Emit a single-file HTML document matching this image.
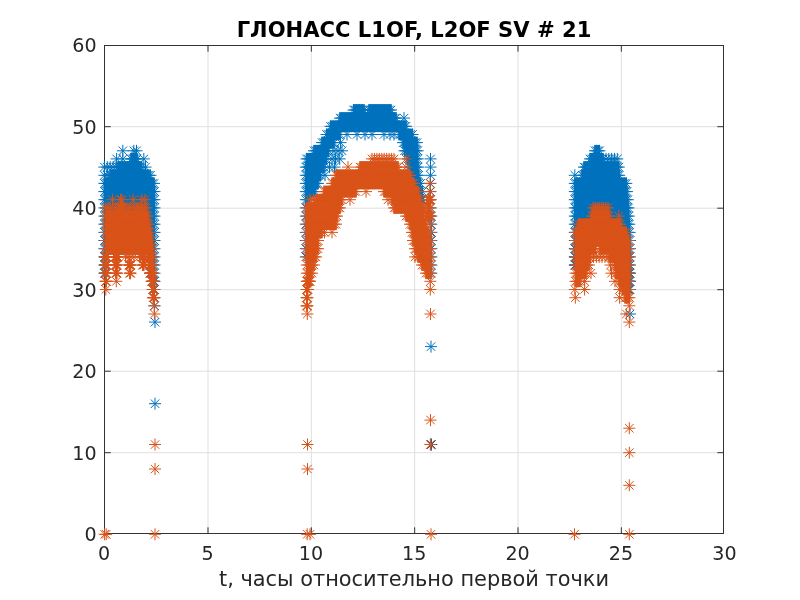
<!DOCTYPE html>
<html lang="ru"><head><meta charset="utf-8"><title>ГЛОНАСС L1OF, L2OF SV # 21</title>
<style>
html,body{margin:0;padding:0;background:#fff;}
body{width:800px;height:600px;overflow:hidden;}
svg{display:block;}
text{font-family:"DejaVu Sans","Liberation Sans",sans-serif;}
</style></head><body>
<svg width="800" height="600" viewBox="0 0 800 600">
<rect width="800" height="600" fill="#fff"/>
<path d="M208.00 45.5V533.5M311.34 45.5V533.5M414.67 45.5V533.5M518.00 45.5V533.5M621.34 45.5V533.5M104.5 452.70H723.5M104.5 371.20H723.5M104.5 289.70H723.5M104.5 208.20H723.5M104.5 126.70H723.5" stroke="#dfdfdf" stroke-width="1" fill="none"/>
<path d="M104.5 45.5H723.5V533.5H104.5Z" stroke="#333" stroke-width="1" fill="none" shape-rendering="crispEdges"/>
<path d="M208.00 533.5v-6.2M208.00 45.5v6.2M311.34 533.5v-6.2M311.34 45.5v6.2M414.67 533.5v-6.2M414.67 45.5v6.2M518.00 533.5v-6.2M518.00 45.5v6.2M621.34 533.5v-6.2M621.34 45.5v6.2M104.5 452.70h6.2M723.5 452.70h-6.2M104.5 371.20h6.2M723.5 371.20h-6.2M104.5 289.70h6.2M723.5 289.70h-6.2M104.5 208.20h6.2M723.5 208.20h-6.2M104.5 126.70h6.2M723.5 126.70h-6.2" stroke="#333" stroke-width="1" fill="none"/>
<g font-size="19.1" fill="#262626">
<text x="104.1" y="559.7" text-anchor="middle">0</text>
<text x="207.5" y="559.7" text-anchor="middle">5</text>
<text x="310.9" y="559.7" text-anchor="middle">10</text>
<text x="414.2" y="559.7" text-anchor="middle">15</text>
<text x="517.6" y="559.7" text-anchor="middle">20</text>
<text x="621.0" y="559.7" text-anchor="middle">25</text>
<text x="724.4" y="559.7" text-anchor="middle">30</text>
<text x="96.6" y="541.2" text-anchor="end">0</text>
<text x="96.6" y="459.7" text-anchor="end">10</text>
<text x="96.6" y="378.2" text-anchor="end">20</text>
<text x="96.6" y="296.8" text-anchor="end">30</text>
<text x="96.6" y="215.3" text-anchor="end">40</text>
<text x="96.6" y="133.8" text-anchor="end">50</text>
<text x="96.6" y="52.3" text-anchor="end">60</text>
</g>
<text x="414" y="36.6" text-anchor="middle" font-size="21.1" font-weight="bold" fill="#000">ГЛОНАСС L1OF, L2OF SV # 21</text>
<text x="414" y="585.6" text-anchor="middle" font-size="20.9" fill="#262626">t, часы относительно первой точки</text>
<path d="M149.4 273.2H155.1M149.4 265.0H155.1M625.4 265.0H630.6M149.4 256.9H155.1M625.4 256.9H630.6M103.8 248.7H155.1M625.4 248.7H630.6M103.8 240.5H155.1M574.2 240.5H630.6M103.8 232.4H155.1M574.2 232.4H630.3M103.8 224.2H155.1M574.2 224.2H629.9M103.8 216.1H155.1M574.2 216.1H629.4M103.8 207.9H155.1M574.2 207.9H629.1M103.8 199.7H155.1M305.2 199.7H310.1M574.2 199.7H628.4M103.8 191.6H155.1M305.2 191.6H315.6M416.4 191.6H422.9M574.2 191.6H627.6M103.8 183.4H154.6M305.2 183.4H318.6M414.4 183.4H421.1M574.2 183.4H626.9M110.4 175.3H149.6M305.2 175.3H321.1M411.4 175.3H419.3M581.4 175.3H619.8M117.4 167.1H142.3M305.2 167.1H324.6M409.4 167.1H418.6M583.4 167.1H619.4M130.4 158.9H137.6M305.9 158.9H327.1M407.4 158.9H418.3M589.4 158.9H603.6M313.4 150.8H329.1M403.9 150.8H418.3M594.4 150.8H600.1M321.4 142.6H334.6M402.4 142.6H417.6M325.9 134.5H340.6M398.4 134.5H413.1M329.9 126.3H406.6M339.4 118.1H396.6M352.9 110.0H364.6M368.4 110.0H391.6" stroke="#0072bd" stroke-width="11.6" fill="none"/>
<path d="M425.3 444.5h12M431.3 438.5v12M427.1 440.3l8.48 8.48M427.1 448.8l8.48 -8.48M149.0 403.7h12M155.0 397.7v12M150.8 399.5l8.48 8.48M150.8 408.0l8.48 -8.48M425.0 346.6h12M431.0 340.6v12M426.8 342.4l8.48 8.48M426.8 350.9l8.48 -8.48M149.0 322.1h12M155.0 316.1v12M150.8 317.9l8.48 8.48M150.8 326.4l8.48 -8.48M624.0 314.0h12M630.0 308.0v12M625.8 309.7l8.48 8.48M625.8 318.2l8.48 -8.48M148.6 305.8h12M154.6 299.8v12M150.4 301.6l8.48 8.48M150.4 310.1l8.48 -8.48M148.5 297.7h12M154.5 291.7v12M150.3 293.4l8.48 8.48M150.3 301.9l8.48 -8.48M148.5 289.5h12M154.5 283.5v12M150.3 285.3l8.48 8.48M150.3 293.7l8.48 -8.48M622.0 289.5h12M628.0 283.5v12M623.8 285.3l8.48 8.48M623.8 293.7l8.48 -8.48M622.5 289.5h12M628.5 283.5v12M624.3 285.3l8.48 8.48M624.3 293.7l8.48 -8.48M623.0 289.5h12M629.0 283.5v12M624.8 285.3l8.48 8.48M624.8 293.7l8.48 -8.48M623.5 289.5h12M629.5 283.5v12M625.3 285.3l8.48 8.48M625.3 293.7l8.48 -8.48M624.0 289.5h12M630.0 283.5v12M625.8 285.3l8.48 8.48M625.8 293.7l8.48 -8.48M146.5 281.3h12M152.5 275.3v12M148.3 277.1l8.48 8.48M148.3 285.6l8.48 -8.48M147.0 281.3h12M153.0 275.3v12M148.8 277.1l8.48 8.48M148.8 285.6l8.48 -8.48M147.5 281.3h12M153.5 275.3v12M149.3 277.1l8.48 8.48M149.3 285.6l8.48 -8.48M148.0 281.3h12M154.0 275.3v12M149.8 277.1l8.48 8.48M149.8 285.6l8.48 -8.48M148.5 281.3h12M154.5 275.3v12M150.3 277.1l8.48 8.48M150.3 285.6l8.48 -8.48M622.0 281.3h12M628.0 275.3v12M623.8 277.1l8.48 8.48M623.8 285.6l8.48 -8.48M622.5 281.3h12M628.5 275.3v12M624.3 277.1l8.48 8.48M624.3 285.6l8.48 -8.48M623.0 281.3h12M629.0 275.3v12M624.8 277.1l8.48 8.48M624.8 285.6l8.48 -8.48M623.5 281.3h12M629.5 275.3v12M625.3 277.1l8.48 8.48M625.3 285.6l8.48 -8.48M624.0 281.3h12M630.0 275.3v12M625.8 277.1l8.48 8.48M625.8 285.6l8.48 -8.48M98.4 273.2h12M104.4 267.2v12M100.2 268.9l8.48 8.48M100.2 277.4l8.48 -8.48M99.0 273.2h12M105.0 267.2v12M100.7 268.9l8.48 8.48M100.7 277.4l8.48 -8.48M99.5 273.2h12M105.5 267.2v12M101.3 268.9l8.48 8.48M101.3 277.4l8.48 -8.48M144.0 273.2h12M150.0 267.2v12M145.8 268.9l8.48 8.48M145.8 277.4l8.48 -8.48M145.5 273.2h12M151.5 267.2v12M147.3 268.9l8.48 8.48M147.3 277.4l8.48 -8.48M147.0 273.2h12M153.0 267.2v12M148.8 268.9l8.48 8.48M148.8 277.4l8.48 -8.48M148.5 273.2h12M154.5 267.2v12M150.3 268.9l8.48 8.48M150.3 277.4l8.48 -8.48M425.3 273.2h12M431.3 267.2v12M427.1 268.9l8.48 8.48M427.1 277.4l8.48 -8.48M622.0 273.2h12M628.0 267.2v12M623.8 268.9l8.48 8.48M623.8 277.4l8.48 -8.48M622.5 273.2h12M628.5 267.2v12M624.3 268.9l8.48 8.48M624.3 277.4l8.48 -8.48M623.0 273.2h12M629.0 267.2v12M624.8 268.9l8.48 8.48M624.8 277.4l8.48 -8.48M623.5 273.2h12M629.5 267.2v12M625.3 268.9l8.48 8.48M625.3 277.4l8.48 -8.48M624.0 273.2h12M630.0 267.2v12M625.8 268.9l8.48 8.48M625.8 277.4l8.48 -8.48M98.4 265.0h12M104.4 259.0v12M100.2 260.8l8.48 8.48M100.2 269.3l8.48 -8.48M99.0 265.0h12M105.0 259.0v12M100.7 260.8l8.48 8.48M100.7 269.3l8.48 -8.48M99.5 265.0h12M105.5 259.0v12M101.3 260.8l8.48 8.48M101.3 269.3l8.48 -8.48M144.0 265.0h12M150.0 259.0v12M145.8 260.8l8.48 8.48M145.8 269.3l8.48 -8.48M145.5 265.0h12M151.5 259.0v12M147.3 260.8l8.48 8.48M147.3 269.3l8.48 -8.48M147.0 265.0h12M153.0 259.0v12M148.8 260.8l8.48 8.48M148.8 269.3l8.48 -8.48M148.5 265.0h12M154.5 259.0v12M150.3 260.8l8.48 8.48M150.3 269.3l8.48 -8.48M425.3 265.0h12M431.3 259.0v12M427.1 260.8l8.48 8.48M427.1 269.3l8.48 -8.48M568.8 265.0h12M574.8 259.0v12M570.6 260.8l8.48 8.48M570.6 269.3l8.48 -8.48M569.2 265.0h12M575.2 259.0v12M571.0 260.8l8.48 8.48M571.0 269.3l8.48 -8.48M569.6 265.0h12M575.6 259.0v12M571.4 260.8l8.48 8.48M571.4 269.3l8.48 -8.48M570.0 265.0h12M576.0 259.0v12M571.8 260.8l8.48 8.48M571.8 269.3l8.48 -8.48M620.0 265.0h12M626.0 259.0v12M621.8 260.8l8.48 8.48M621.8 269.3l8.48 -8.48M622.0 265.0h12M628.0 259.0v12M623.8 260.8l8.48 8.48M623.8 269.3l8.48 -8.48M624.0 265.0h12M630.0 259.0v12M625.8 260.8l8.48 8.48M625.8 269.3l8.48 -8.48M98.4 256.9h12M104.4 250.9v12M100.2 252.6l8.48 8.48M100.2 261.1l8.48 -8.48M99.0 256.9h12M105.0 250.9v12M100.7 252.6l8.48 8.48M100.7 261.1l8.48 -8.48M99.5 256.9h12M105.5 250.9v12M101.3 252.6l8.48 8.48M101.3 261.1l8.48 -8.48M144.0 256.9h12M150.0 250.9v12M145.8 252.6l8.48 8.48M145.8 261.1l8.48 -8.48M145.5 256.9h12M151.5 250.9v12M147.3 252.6l8.48 8.48M147.3 261.1l8.48 -8.48M147.0 256.9h12M153.0 250.9v12M148.8 252.6l8.48 8.48M148.8 261.1l8.48 -8.48M148.5 256.9h12M154.5 250.9v12M150.3 252.6l8.48 8.48M150.3 261.1l8.48 -8.48M299.8 256.9h12M305.8 250.9v12M301.6 252.6l8.48 8.48M301.6 261.1l8.48 -8.48M425.3 256.9h12M431.3 250.9v12M427.1 252.6l8.48 8.48M427.1 261.1l8.48 -8.48M568.8 256.9h12M574.8 250.9v12M570.6 252.6l8.48 8.48M570.6 261.1l8.48 -8.48M569.2 256.9h12M575.2 250.9v12M571.0 252.6l8.48 8.48M571.0 261.1l8.48 -8.48M569.6 256.9h12M575.6 250.9v12M571.4 252.6l8.48 8.48M571.4 261.1l8.48 -8.48M570.0 256.9h12M576.0 250.9v12M571.8 252.6l8.48 8.48M571.8 261.1l8.48 -8.48M620.0 256.9h12M626.0 250.9v12M621.8 252.6l8.48 8.48M621.8 261.1l8.48 -8.48M622.0 256.9h12M628.0 250.9v12M623.8 252.6l8.48 8.48M623.8 261.1l8.48 -8.48M624.0 256.9h12M630.0 250.9v12M625.8 252.6l8.48 8.48M625.8 261.1l8.48 -8.48M98.4 248.7h12M104.4 242.7v12M100.2 244.5l8.48 8.48M100.2 252.9l8.48 -8.48M100.0 248.7h12M106.0 242.7v12M101.8 244.5l8.48 8.48M101.8 252.9l8.48 -8.48M101.6 248.7h12M107.6 242.7v12M103.4 244.5l8.48 8.48M103.4 252.9l8.48 -8.48M103.2 248.7h12M109.2 242.7v12M105.0 244.5l8.48 8.48M105.0 252.9l8.48 -8.48M104.9 248.7h12M110.9 242.7v12M106.6 244.5l8.48 8.48M106.6 252.9l8.48 -8.48M106.5 248.7h12M112.5 242.7v12M108.2 244.5l8.48 8.48M108.2 252.9l8.48 -8.48M108.1 248.7h12M114.1 242.7v12M109.9 244.5l8.48 8.48M109.9 252.9l8.48 -8.48M109.7 248.7h12M115.7 242.7v12M111.5 244.5l8.48 8.48M111.5 252.9l8.48 -8.48M111.3 248.7h12M117.3 242.7v12M113.1 244.5l8.48 8.48M113.1 252.9l8.48 -8.48M112.9 248.7h12M118.9 242.7v12M114.7 244.5l8.48 8.48M114.7 252.9l8.48 -8.48M114.6 248.7h12M120.6 242.7v12M116.3 244.5l8.48 8.48M116.3 252.9l8.48 -8.48M116.2 248.7h12M122.2 242.7v12M117.9 244.5l8.48 8.48M117.9 252.9l8.48 -8.48M117.8 248.7h12M123.8 242.7v12M119.6 244.5l8.48 8.48M119.6 252.9l8.48 -8.48M119.4 248.7h12M125.4 242.7v12M121.2 244.5l8.48 8.48M121.2 252.9l8.48 -8.48M121.0 248.7h12M127.0 242.7v12M122.8 244.5l8.48 8.48M122.8 252.9l8.48 -8.48M122.6 248.7h12M128.6 242.7v12M124.4 244.5l8.48 8.48M124.4 252.9l8.48 -8.48M124.3 248.7h12M130.3 242.7v12M126.0 244.5l8.48 8.48M126.0 252.9l8.48 -8.48M125.9 248.7h12M131.9 242.7v12M127.6 244.5l8.48 8.48M127.6 252.9l8.48 -8.48M127.5 248.7h12M133.5 242.7v12M129.3 244.5l8.48 8.48M129.3 252.9l8.48 -8.48M129.1 248.7h12M135.1 242.7v12M130.9 244.5l8.48 8.48M130.9 252.9l8.48 -8.48M130.7 248.7h12M136.7 242.7v12M132.5 244.5l8.48 8.48M132.5 252.9l8.48 -8.48M132.3 248.7h12M138.3 242.7v12M134.1 244.5l8.48 8.48M134.1 252.9l8.48 -8.48M134.0 248.7h12M140.0 242.7v12M135.7 244.5l8.48 8.48M135.7 252.9l8.48 -8.48M135.6 248.7h12M141.6 242.7v12M137.3 244.5l8.48 8.48M137.3 252.9l8.48 -8.48M137.2 248.7h12M143.2 242.7v12M138.9 244.5l8.48 8.48M138.9 252.9l8.48 -8.48M138.8 248.7h12M144.8 242.7v12M140.6 244.5l8.48 8.48M140.6 252.9l8.48 -8.48M140.4 248.7h12M146.4 242.7v12M142.2 244.5l8.48 8.48M142.2 252.9l8.48 -8.48M142.0 248.7h12M148.0 242.7v12M143.8 244.5l8.48 8.48M143.8 252.9l8.48 -8.48M143.7 248.7h12M149.7 242.7v12M145.4 244.5l8.48 8.48M145.4 252.9l8.48 -8.48M145.3 248.7h12M151.3 242.7v12M147.0 244.5l8.48 8.48M147.0 252.9l8.48 -8.48M146.9 248.7h12M152.9 242.7v12M148.6 244.5l8.48 8.48M148.6 252.9l8.48 -8.48M148.5 248.7h12M154.5 242.7v12M150.3 244.5l8.48 8.48M150.3 252.9l8.48 -8.48M299.8 248.7h12M305.8 242.7v12M301.6 244.5l8.48 8.48M301.6 252.9l8.48 -8.48M425.3 248.7h12M431.3 242.7v12M427.1 244.5l8.48 8.48M427.1 252.9l8.48 -8.48M568.8 248.7h12M574.8 242.7v12M570.6 244.5l8.48 8.48M570.6 252.9l8.48 -8.48M569.2 248.7h12M575.2 242.7v12M571.0 244.5l8.48 8.48M571.0 252.9l8.48 -8.48M569.6 248.7h12M575.6 242.7v12M571.4 244.5l8.48 8.48M571.4 252.9l8.48 -8.48M570.0 248.7h12M576.0 242.7v12M571.8 244.5l8.48 8.48M571.8 252.9l8.48 -8.48M620.0 248.7h12M626.0 242.7v12M621.8 244.5l8.48 8.48M621.8 252.9l8.48 -8.48M622.0 248.7h12M628.0 242.7v12M623.8 244.5l8.48 8.48M623.8 252.9l8.48 -8.48M624.0 248.7h12M630.0 242.7v12M625.8 244.5l8.48 8.48M625.8 252.9l8.48 -8.48M98.4 240.5h12M104.4 234.5v12M100.2 236.3l8.48 8.48M100.2 244.8l8.48 -8.48M100.0 240.5h12M106.0 234.5v12M101.8 236.3l8.48 8.48M101.8 244.8l8.48 -8.48M101.6 240.5h12M107.6 234.5v12M103.4 236.3l8.48 8.48M103.4 244.8l8.48 -8.48M103.2 240.5h12M109.2 234.5v12M105.0 236.3l8.48 8.48M105.0 244.8l8.48 -8.48M104.9 240.5h12M110.9 234.5v12M106.6 236.3l8.48 8.48M106.6 244.8l8.48 -8.48M106.5 240.5h12M112.5 234.5v12M108.2 236.3l8.48 8.48M108.2 244.8l8.48 -8.48M108.1 240.5h12M114.1 234.5v12M109.9 236.3l8.48 8.48M109.9 244.8l8.48 -8.48M109.7 240.5h12M115.7 234.5v12M111.5 236.3l8.48 8.48M111.5 244.8l8.48 -8.48M111.3 240.5h12M117.3 234.5v12M113.1 236.3l8.48 8.48M113.1 244.8l8.48 -8.48M112.9 240.5h12M118.9 234.5v12M114.7 236.3l8.48 8.48M114.7 244.8l8.48 -8.48M114.6 240.5h12M120.6 234.5v12M116.3 236.3l8.48 8.48M116.3 244.8l8.48 -8.48M116.2 240.5h12M122.2 234.5v12M117.9 236.3l8.48 8.48M117.9 244.8l8.48 -8.48M117.8 240.5h12M123.8 234.5v12M119.6 236.3l8.48 8.48M119.6 244.8l8.48 -8.48M119.4 240.5h12M125.4 234.5v12M121.2 236.3l8.48 8.48M121.2 244.8l8.48 -8.48M121.0 240.5h12M127.0 234.5v12M122.8 236.3l8.48 8.48M122.8 244.8l8.48 -8.48M122.6 240.5h12M128.6 234.5v12M124.4 236.3l8.48 8.48M124.4 244.8l8.48 -8.48M124.3 240.5h12M130.3 234.5v12M126.0 236.3l8.48 8.48M126.0 244.8l8.48 -8.48M125.9 240.5h12M131.9 234.5v12M127.6 236.3l8.48 8.48M127.6 244.8l8.48 -8.48M127.5 240.5h12M133.5 234.5v12M129.3 236.3l8.48 8.48M129.3 244.8l8.48 -8.48M129.1 240.5h12M135.1 234.5v12M130.9 236.3l8.48 8.48M130.9 244.8l8.48 -8.48M130.7 240.5h12M136.7 234.5v12M132.5 236.3l8.48 8.48M132.5 244.8l8.48 -8.48M132.3 240.5h12M138.3 234.5v12M134.1 236.3l8.48 8.48M134.1 244.8l8.48 -8.48M134.0 240.5h12M140.0 234.5v12M135.7 236.3l8.48 8.48M135.7 244.8l8.48 -8.48M135.6 240.5h12M141.6 234.5v12M137.3 236.3l8.48 8.48M137.3 244.8l8.48 -8.48M137.2 240.5h12M143.2 234.5v12M138.9 236.3l8.48 8.48M138.9 244.8l8.48 -8.48M138.8 240.5h12M144.8 234.5v12M140.6 236.3l8.48 8.48M140.6 244.8l8.48 -8.48M140.4 240.5h12M146.4 234.5v12M142.2 236.3l8.48 8.48M142.2 244.8l8.48 -8.48M142.0 240.5h12M148.0 234.5v12M143.8 236.3l8.48 8.48M143.8 244.8l8.48 -8.48M143.7 240.5h12M149.7 234.5v12M145.4 236.3l8.48 8.48M145.4 244.8l8.48 -8.48M145.3 240.5h12M151.3 234.5v12M147.0 236.3l8.48 8.48M147.0 244.8l8.48 -8.48M146.9 240.5h12M152.9 234.5v12M148.6 236.3l8.48 8.48M148.6 244.8l8.48 -8.48M148.5 240.5h12M154.5 234.5v12M150.3 236.3l8.48 8.48M150.3 244.8l8.48 -8.48M299.8 240.5h12M305.8 234.5v12M301.6 236.3l8.48 8.48M301.6 244.8l8.48 -8.48M425.3 240.5h12M431.3 234.5v12M427.1 236.3l8.48 8.48M427.1 244.8l8.48 -8.48M568.8 240.5h12M574.8 234.5v12M570.6 236.3l8.48 8.48M570.6 244.8l8.48 -8.48M570.4 240.5h12M576.4 234.5v12M572.1 236.3l8.48 8.48M572.1 244.8l8.48 -8.48M572.0 240.5h12M578.0 234.5v12M573.7 236.3l8.48 8.48M573.7 244.8l8.48 -8.48M573.5 240.5h12M579.5 234.5v12M575.3 236.3l8.48 8.48M575.3 244.8l8.48 -8.48M575.1 240.5h12M581.1 234.5v12M576.9 236.3l8.48 8.48M576.9 244.8l8.48 -8.48M576.7 240.5h12M582.7 234.5v12M578.4 236.3l8.48 8.48M578.4 244.8l8.48 -8.48M578.3 240.5h12M584.3 234.5v12M580.0 236.3l8.48 8.48M580.0 244.8l8.48 -8.48M579.8 240.5h12M585.8 234.5v12M581.6 236.3l8.48 8.48M581.6 244.8l8.48 -8.48M581.4 240.5h12M587.4 234.5v12M583.2 236.3l8.48 8.48M583.2 244.8l8.48 -8.48M583.0 240.5h12M589.0 234.5v12M584.8 236.3l8.48 8.48M584.8 244.8l8.48 -8.48M584.6 240.5h12M590.6 234.5v12M586.3 236.3l8.48 8.48M586.3 244.8l8.48 -8.48M586.1 240.5h12M592.1 234.5v12M587.9 236.3l8.48 8.48M587.9 244.8l8.48 -8.48M587.7 240.5h12M593.7 234.5v12M589.5 236.3l8.48 8.48M589.5 244.8l8.48 -8.48M589.3 240.5h12M595.3 234.5v12M591.1 236.3l8.48 8.48M591.1 244.8l8.48 -8.48M590.9 240.5h12M596.9 234.5v12M592.6 236.3l8.48 8.48M592.6 244.8l8.48 -8.48M592.5 240.5h12M598.5 234.5v12M594.2 236.3l8.48 8.48M594.2 244.8l8.48 -8.48M594.0 240.5h12M600.0 234.5v12M595.8 236.3l8.48 8.48M595.8 244.8l8.48 -8.48M595.6 240.5h12M601.6 234.5v12M597.4 236.3l8.48 8.48M597.4 244.8l8.48 -8.48M597.2 240.5h12M603.2 234.5v12M598.9 236.3l8.48 8.48M598.9 244.8l8.48 -8.48M598.8 240.5h12M604.8 234.5v12M600.5 236.3l8.48 8.48M600.5 244.8l8.48 -8.48M600.3 240.5h12M606.3 234.5v12M602.1 236.3l8.48 8.48M602.1 244.8l8.48 -8.48M601.9 240.5h12M607.9 234.5v12M603.7 236.3l8.48 8.48M603.7 244.8l8.48 -8.48M603.5 240.5h12M609.5 234.5v12M605.3 236.3l8.48 8.48M605.3 244.8l8.48 -8.48M605.1 240.5h12M611.1 234.5v12M606.8 236.3l8.48 8.48M606.8 244.8l8.48 -8.48M606.7 240.5h12M612.7 234.5v12M608.4 236.3l8.48 8.48M608.4 244.8l8.48 -8.48M608.2 240.5h12M614.2 234.5v12M610.0 236.3l8.48 8.48M610.0 244.8l8.48 -8.48M609.8 240.5h12M615.8 234.5v12M611.6 236.3l8.48 8.48M611.6 244.8l8.48 -8.48M611.4 240.5h12M617.4 234.5v12M613.1 236.3l8.48 8.48M613.1 244.8l8.48 -8.48M613.0 240.5h12M619.0 234.5v12M614.7 236.3l8.48 8.48M614.7 244.8l8.48 -8.48M614.5 240.5h12M620.5 234.5v12M616.3 236.3l8.48 8.48M616.3 244.8l8.48 -8.48M616.1 240.5h12M622.1 234.5v12M617.9 236.3l8.48 8.48M617.9 244.8l8.48 -8.48M617.7 240.5h12M623.7 234.5v12M619.5 236.3l8.48 8.48M619.5 244.8l8.48 -8.48M619.3 240.5h12M625.3 234.5v12M621.0 236.3l8.48 8.48M621.0 244.8l8.48 -8.48M620.8 240.5h12M626.8 234.5v12M622.6 236.3l8.48 8.48M622.6 244.8l8.48 -8.48M622.4 240.5h12M628.4 234.5v12M624.2 236.3l8.48 8.48M624.2 244.8l8.48 -8.48M624.0 240.5h12M630.0 234.5v12M625.8 236.3l8.48 8.48M625.8 244.8l8.48 -8.48M98.4 232.4h12M104.4 226.4v12M100.2 228.1l8.48 8.48M100.2 236.6l8.48 -8.48M100.0 232.4h12M106.0 226.4v12M101.8 228.1l8.48 8.48M101.8 236.6l8.48 -8.48M101.6 232.4h12M107.6 226.4v12M103.4 228.1l8.48 8.48M103.4 236.6l8.48 -8.48M103.2 232.4h12M109.2 226.4v12M105.0 228.1l8.48 8.48M105.0 236.6l8.48 -8.48M104.9 232.4h12M110.9 226.4v12M106.6 228.1l8.48 8.48M106.6 236.6l8.48 -8.48M106.5 232.4h12M112.5 226.4v12M108.2 228.1l8.48 8.48M108.2 236.6l8.48 -8.48M108.1 232.4h12M114.1 226.4v12M109.9 228.1l8.48 8.48M109.9 236.6l8.48 -8.48M109.7 232.4h12M115.7 226.4v12M111.5 228.1l8.48 8.48M111.5 236.6l8.48 -8.48M111.3 232.4h12M117.3 226.4v12M113.1 228.1l8.48 8.48M113.1 236.6l8.48 -8.48M112.9 232.4h12M118.9 226.4v12M114.7 228.1l8.48 8.48M114.7 236.6l8.48 -8.48M114.6 232.4h12M120.6 226.4v12M116.3 228.1l8.48 8.48M116.3 236.6l8.48 -8.48M116.2 232.4h12M122.2 226.4v12M117.9 228.1l8.48 8.48M117.9 236.6l8.48 -8.48M117.8 232.4h12M123.8 226.4v12M119.6 228.1l8.48 8.48M119.6 236.6l8.48 -8.48M119.4 232.4h12M125.4 226.4v12M121.2 228.1l8.48 8.48M121.2 236.6l8.48 -8.48M121.0 232.4h12M127.0 226.4v12M122.8 228.1l8.48 8.48M122.8 236.6l8.48 -8.48M122.6 232.4h12M128.6 226.4v12M124.4 228.1l8.48 8.48M124.4 236.6l8.48 -8.48M124.3 232.4h12M130.3 226.4v12M126.0 228.1l8.48 8.48M126.0 236.6l8.48 -8.48M125.9 232.4h12M131.9 226.4v12M127.6 228.1l8.48 8.48M127.6 236.6l8.48 -8.48M127.5 232.4h12M133.5 226.4v12M129.3 228.1l8.48 8.48M129.3 236.6l8.48 -8.48M129.1 232.4h12M135.1 226.4v12M130.9 228.1l8.48 8.48M130.9 236.6l8.48 -8.48M130.7 232.4h12M136.7 226.4v12M132.5 228.1l8.48 8.48M132.5 236.6l8.48 -8.48M132.3 232.4h12M138.3 226.4v12M134.1 228.1l8.48 8.48M134.1 236.6l8.48 -8.48M134.0 232.4h12M140.0 226.4v12M135.7 228.1l8.48 8.48M135.7 236.6l8.48 -8.48M135.6 232.4h12M141.6 226.4v12M137.3 228.1l8.48 8.48M137.3 236.6l8.48 -8.48M137.2 232.4h12M143.2 226.4v12M138.9 228.1l8.48 8.48M138.9 236.6l8.48 -8.48M138.8 232.4h12M144.8 226.4v12M140.6 228.1l8.48 8.48M140.6 236.6l8.48 -8.48M140.4 232.4h12M146.4 226.4v12M142.2 228.1l8.48 8.48M142.2 236.6l8.48 -8.48M142.0 232.4h12M148.0 226.4v12M143.8 228.1l8.48 8.48M143.8 236.6l8.48 -8.48M143.7 232.4h12M149.7 226.4v12M145.4 228.1l8.48 8.48M145.4 236.6l8.48 -8.48M145.3 232.4h12M151.3 226.4v12M147.0 228.1l8.48 8.48M147.0 236.6l8.48 -8.48M146.9 232.4h12M152.9 226.4v12M148.6 228.1l8.48 8.48M148.6 236.6l8.48 -8.48M148.5 232.4h12M154.5 226.4v12M150.3 228.1l8.48 8.48M150.3 236.6l8.48 -8.48M299.8 232.4h12M305.8 226.4v12M301.6 228.1l8.48 8.48M301.6 236.6l8.48 -8.48M425.3 232.4h12M431.3 226.4v12M427.1 228.1l8.48 8.48M427.1 236.6l8.48 -8.48M568.8 232.4h12M574.8 226.4v12M570.6 228.1l8.48 8.48M570.6 236.6l8.48 -8.48M570.4 232.4h12M576.4 226.4v12M572.2 228.1l8.48 8.48M572.2 236.6l8.48 -8.48M572.0 232.4h12M578.0 226.4v12M573.8 228.1l8.48 8.48M573.8 236.6l8.48 -8.48M573.6 232.4h12M579.6 226.4v12M575.4 228.1l8.48 8.48M575.4 236.6l8.48 -8.48M575.3 232.4h12M581.3 226.4v12M577.0 228.1l8.48 8.48M577.0 236.6l8.48 -8.48M576.9 232.4h12M582.9 226.4v12M578.6 228.1l8.48 8.48M578.6 236.6l8.48 -8.48M578.5 232.4h12M584.5 226.4v12M580.2 228.1l8.48 8.48M580.2 236.6l8.48 -8.48M580.1 232.4h12M586.1 226.4v12M581.9 228.1l8.48 8.48M581.9 236.6l8.48 -8.48M581.7 232.4h12M587.7 226.4v12M583.5 228.1l8.48 8.48M583.5 236.6l8.48 -8.48M583.3 232.4h12M589.3 226.4v12M585.1 228.1l8.48 8.48M585.1 236.6l8.48 -8.48M584.9 232.4h12M590.9 226.4v12M586.7 228.1l8.48 8.48M586.7 236.6l8.48 -8.48M586.6 232.4h12M592.6 226.4v12M588.3 228.1l8.48 8.48M588.3 236.6l8.48 -8.48M588.2 232.4h12M594.2 226.4v12M589.9 228.1l8.48 8.48M589.9 236.6l8.48 -8.48M589.8 232.4h12M595.8 226.4v12M591.6 228.1l8.48 8.48M591.6 236.6l8.48 -8.48M591.4 232.4h12M597.4 226.4v12M593.2 228.1l8.48 8.48M593.2 236.6l8.48 -8.48M593.0 232.4h12M599.0 226.4v12M594.8 228.1l8.48 8.48M594.8 236.6l8.48 -8.48M594.6 232.4h12M600.6 226.4v12M596.4 228.1l8.48 8.48M596.4 236.6l8.48 -8.48M596.2 232.4h12M602.2 226.4v12M598.0 228.1l8.48 8.48M598.0 236.6l8.48 -8.48M597.9 232.4h12M603.9 226.4v12M599.6 228.1l8.48 8.48M599.6 236.6l8.48 -8.48M599.5 232.4h12M605.5 226.4v12M601.2 228.1l8.48 8.48M601.2 236.6l8.48 -8.48M601.1 232.4h12M607.1 226.4v12M602.9 228.1l8.48 8.48M602.9 236.6l8.48 -8.48M602.7 232.4h12M608.7 226.4v12M604.5 228.1l8.48 8.48M604.5 236.6l8.48 -8.48M604.3 232.4h12M610.3 226.4v12M606.1 228.1l8.48 8.48M606.1 236.6l8.48 -8.48M605.9 232.4h12M611.9 226.4v12M607.7 228.1l8.48 8.48M607.7 236.6l8.48 -8.48M607.6 232.4h12M613.6 226.4v12M609.3 228.1l8.48 8.48M609.3 236.6l8.48 -8.48M609.2 232.4h12M615.2 226.4v12M610.9 228.1l8.48 8.48M610.9 236.6l8.48 -8.48M610.8 232.4h12M616.8 226.4v12M612.5 228.1l8.48 8.48M612.5 236.6l8.48 -8.48M612.4 232.4h12M618.4 226.4v12M614.2 228.1l8.48 8.48M614.2 236.6l8.48 -8.48M614.0 232.4h12M620.0 226.4v12M615.8 228.1l8.48 8.48M615.8 236.6l8.48 -8.48M615.6 232.4h12M621.6 226.4v12M617.4 228.1l8.48 8.48M617.4 236.6l8.48 -8.48M617.2 232.4h12M623.2 226.4v12M619.0 228.1l8.48 8.48M619.0 236.6l8.48 -8.48M618.9 232.4h12M624.9 226.4v12M620.6 228.1l8.48 8.48M620.6 236.6l8.48 -8.48M620.5 232.4h12M626.5 226.4v12M622.2 228.1l8.48 8.48M622.2 236.6l8.48 -8.48M622.1 232.4h12M628.1 226.4v12M623.8 228.1l8.48 8.48M623.8 236.6l8.48 -8.48M623.7 232.4h12M629.7 226.4v12M625.5 228.1l8.48 8.48M625.5 236.6l8.48 -8.48M98.4 224.2h12M104.4 218.2v12M100.2 220.0l8.48 8.48M100.2 228.5l8.48 -8.48M100.0 224.2h12M106.0 218.2v12M101.8 220.0l8.48 8.48M101.8 228.5l8.48 -8.48M101.6 224.2h12M107.6 218.2v12M103.4 220.0l8.48 8.48M103.4 228.5l8.48 -8.48M103.2 224.2h12M109.2 218.2v12M105.0 220.0l8.48 8.48M105.0 228.5l8.48 -8.48M104.9 224.2h12M110.9 218.2v12M106.6 220.0l8.48 8.48M106.6 228.5l8.48 -8.48M106.5 224.2h12M112.5 218.2v12M108.2 220.0l8.48 8.48M108.2 228.5l8.48 -8.48M108.1 224.2h12M114.1 218.2v12M109.9 220.0l8.48 8.48M109.9 228.5l8.48 -8.48M109.7 224.2h12M115.7 218.2v12M111.5 220.0l8.48 8.48M111.5 228.5l8.48 -8.48M111.3 224.2h12M117.3 218.2v12M113.1 220.0l8.48 8.48M113.1 228.5l8.48 -8.48M112.9 224.2h12M118.9 218.2v12M114.7 220.0l8.48 8.48M114.7 228.5l8.48 -8.48M114.6 224.2h12M120.6 218.2v12M116.3 220.0l8.48 8.48M116.3 228.5l8.48 -8.48M116.2 224.2h12M122.2 218.2v12M117.9 220.0l8.48 8.48M117.9 228.5l8.48 -8.48M117.8 224.2h12M123.8 218.2v12M119.6 220.0l8.48 8.48M119.6 228.5l8.48 -8.48M119.4 224.2h12M125.4 218.2v12M121.2 220.0l8.48 8.48M121.2 228.5l8.48 -8.48M121.0 224.2h12M127.0 218.2v12M122.8 220.0l8.48 8.48M122.8 228.5l8.48 -8.48M122.6 224.2h12M128.6 218.2v12M124.4 220.0l8.48 8.48M124.4 228.5l8.48 -8.48M124.3 224.2h12M130.3 218.2v12M126.0 220.0l8.48 8.48M126.0 228.5l8.48 -8.48M125.9 224.2h12M131.9 218.2v12M127.6 220.0l8.48 8.48M127.6 228.5l8.48 -8.48M127.5 224.2h12M133.5 218.2v12M129.3 220.0l8.48 8.48M129.3 228.5l8.48 -8.48M129.1 224.2h12M135.1 218.2v12M130.9 220.0l8.48 8.48M130.9 228.5l8.48 -8.48M130.7 224.2h12M136.7 218.2v12M132.5 220.0l8.48 8.48M132.5 228.5l8.48 -8.48M132.3 224.2h12M138.3 218.2v12M134.1 220.0l8.48 8.48M134.1 228.5l8.48 -8.48M134.0 224.2h12M140.0 218.2v12M135.7 220.0l8.48 8.48M135.7 228.5l8.48 -8.48M135.6 224.2h12M141.6 218.2v12M137.3 220.0l8.48 8.48M137.3 228.5l8.48 -8.48M137.2 224.2h12M143.2 218.2v12M138.9 220.0l8.48 8.48M138.9 228.5l8.48 -8.48M138.8 224.2h12M144.8 218.2v12M140.6 220.0l8.48 8.48M140.6 228.5l8.48 -8.48M140.4 224.2h12M146.4 218.2v12M142.2 220.0l8.48 8.48M142.2 228.5l8.48 -8.48M142.0 224.2h12M148.0 218.2v12M143.8 220.0l8.48 8.48M143.8 228.5l8.48 -8.48M143.7 224.2h12M149.7 218.2v12M145.4 220.0l8.48 8.48M145.4 228.5l8.48 -8.48M145.3 224.2h12M151.3 218.2v12M147.0 220.0l8.48 8.48M147.0 228.5l8.48 -8.48M146.9 224.2h12M152.9 218.2v12M148.6 220.0l8.48 8.48M148.6 228.5l8.48 -8.48M148.5 224.2h12M154.5 218.2v12M150.3 220.0l8.48 8.48M150.3 228.5l8.48 -8.48M299.8 224.2h12M305.8 218.2v12M301.6 220.0l8.48 8.48M301.6 228.5l8.48 -8.48M425.3 224.2h12M431.3 218.2v12M427.1 220.0l8.48 8.48M427.1 228.5l8.48 -8.48M568.8 224.2h12M574.8 218.2v12M570.6 220.0l8.48 8.48M570.6 228.5l8.48 -8.48M570.4 224.2h12M576.4 218.2v12M572.2 220.0l8.48 8.48M572.2 228.5l8.48 -8.48M572.0 224.2h12M578.0 218.2v12M573.8 220.0l8.48 8.48M573.8 228.5l8.48 -8.48M573.6 224.2h12M579.6 218.2v12M575.4 220.0l8.48 8.48M575.4 228.5l8.48 -8.48M575.2 224.2h12M581.2 218.2v12M577.0 220.0l8.48 8.48M577.0 228.5l8.48 -8.48M576.8 224.2h12M582.8 218.2v12M578.6 220.0l8.48 8.48M578.6 228.5l8.48 -8.48M578.4 224.2h12M584.4 218.2v12M580.2 220.0l8.48 8.48M580.2 228.5l8.48 -8.48M580.0 224.2h12M586.0 218.2v12M581.8 220.0l8.48 8.48M581.8 228.5l8.48 -8.48M581.6 224.2h12M587.6 218.2v12M583.4 220.0l8.48 8.48M583.4 228.5l8.48 -8.48M583.2 224.2h12M589.2 218.2v12M585.0 220.0l8.48 8.48M585.0 228.5l8.48 -8.48M584.8 224.2h12M590.8 218.2v12M586.6 220.0l8.48 8.48M586.6 228.5l8.48 -8.48M586.4 224.2h12M592.4 218.2v12M588.2 220.0l8.48 8.48M588.2 228.5l8.48 -8.48M588.0 224.2h12M594.0 218.2v12M589.8 220.0l8.48 8.48M589.8 228.5l8.48 -8.48M589.6 224.2h12M595.6 218.2v12M591.4 220.0l8.48 8.48M591.4 228.5l8.48 -8.48M591.2 224.2h12M597.2 218.2v12M593.0 220.0l8.48 8.48M593.0 228.5l8.48 -8.48M592.8 224.2h12M598.8 218.2v12M594.6 220.0l8.48 8.48M594.6 228.5l8.48 -8.48M594.4 224.2h12M600.4 218.2v12M596.2 220.0l8.48 8.48M596.2 228.5l8.48 -8.48M596.0 224.2h12M602.0 218.2v12M597.8 220.0l8.48 8.48M597.8 228.5l8.48 -8.48M597.7 224.2h12M603.7 218.2v12M599.4 220.0l8.48 8.48M599.4 228.5l8.48 -8.48M599.3 224.2h12M605.3 218.2v12M601.0 220.0l8.48 8.48M601.0 228.5l8.48 -8.48M600.9 224.2h12M606.9 218.2v12M602.6 220.0l8.48 8.48M602.6 228.5l8.48 -8.48M602.5 224.2h12M608.5 218.2v12M604.2 220.0l8.48 8.48M604.2 228.5l8.48 -8.48M604.1 224.2h12M610.1 218.2v12M605.8 220.0l8.48 8.48M605.8 228.5l8.48 -8.48M605.7 224.2h12M611.7 218.2v12M607.4 220.0l8.48 8.48M607.4 228.5l8.48 -8.48M607.3 224.2h12M613.3 218.2v12M609.0 220.0l8.48 8.48M609.0 228.5l8.48 -8.48M608.9 224.2h12M614.9 218.2v12M610.6 220.0l8.48 8.48M610.6 228.5l8.48 -8.48M610.5 224.2h12M616.5 218.2v12M612.2 220.0l8.48 8.48M612.2 228.5l8.48 -8.48M612.1 224.2h12M618.1 218.2v12M613.8 220.0l8.48 8.48M613.8 228.5l8.48 -8.48M613.7 224.2h12M619.7 218.2v12M615.4 220.0l8.48 8.48M615.4 228.5l8.48 -8.48M615.3 224.2h12M621.3 218.2v12M617.0 220.0l8.48 8.48M617.0 228.5l8.48 -8.48M616.9 224.2h12M622.9 218.2v12M618.6 220.0l8.48 8.48M618.6 228.5l8.48 -8.48M618.5 224.2h12M624.5 218.2v12M620.3 220.0l8.48 8.48M620.3 228.5l8.48 -8.48M620.1 224.2h12M626.1 218.2v12M621.9 220.0l8.48 8.48M621.9 228.5l8.48 -8.48M621.7 224.2h12M627.7 218.2v12M623.5 220.0l8.48 8.48M623.5 228.5l8.48 -8.48M623.3 224.2h12M629.3 218.2v12M625.1 220.0l8.48 8.48M625.1 228.5l8.48 -8.48M98.4 216.1h12M104.4 210.1v12M100.2 211.8l8.48 8.48M100.2 220.3l8.48 -8.48M100.0 216.1h12M106.0 210.1v12M101.8 211.8l8.48 8.48M101.8 220.3l8.48 -8.48M101.6 216.1h12M107.6 210.1v12M103.4 211.8l8.48 8.48M103.4 220.3l8.48 -8.48M103.2 216.1h12M109.2 210.1v12M105.0 211.8l8.48 8.48M105.0 220.3l8.48 -8.48M104.9 216.1h12M110.9 210.1v12M106.6 211.8l8.48 8.48M106.6 220.3l8.48 -8.48M106.5 216.1h12M112.5 210.1v12M108.2 211.8l8.48 8.48M108.2 220.3l8.48 -8.48M108.1 216.1h12M114.1 210.1v12M109.9 211.8l8.48 8.48M109.9 220.3l8.48 -8.48M109.7 216.1h12M115.7 210.1v12M111.5 211.8l8.48 8.48M111.5 220.3l8.48 -8.48M111.3 216.1h12M117.3 210.1v12M113.1 211.8l8.48 8.48M113.1 220.3l8.48 -8.48M112.9 216.1h12M118.9 210.1v12M114.7 211.8l8.48 8.48M114.7 220.3l8.48 -8.48M114.6 216.1h12M120.6 210.1v12M116.3 211.8l8.48 8.48M116.3 220.3l8.48 -8.48M116.2 216.1h12M122.2 210.1v12M117.9 211.8l8.48 8.48M117.9 220.3l8.48 -8.48M117.8 216.1h12M123.8 210.1v12M119.6 211.8l8.48 8.48M119.6 220.3l8.48 -8.48M119.4 216.1h12M125.4 210.1v12M121.2 211.8l8.48 8.48M121.2 220.3l8.48 -8.48M121.0 216.1h12M127.0 210.1v12M122.8 211.8l8.48 8.48M122.8 220.3l8.48 -8.48M122.6 216.1h12M128.6 210.1v12M124.4 211.8l8.48 8.48M124.4 220.3l8.48 -8.48M124.3 216.1h12M130.3 210.1v12M126.0 211.8l8.48 8.48M126.0 220.3l8.48 -8.48M125.9 216.1h12M131.9 210.1v12M127.6 211.8l8.48 8.48M127.6 220.3l8.48 -8.48M127.5 216.1h12M133.5 210.1v12M129.3 211.8l8.48 8.48M129.3 220.3l8.48 -8.48M129.1 216.1h12M135.1 210.1v12M130.9 211.8l8.48 8.48M130.9 220.3l8.48 -8.48M130.7 216.1h12M136.7 210.1v12M132.5 211.8l8.48 8.48M132.5 220.3l8.48 -8.48M132.3 216.1h12M138.3 210.1v12M134.1 211.8l8.48 8.48M134.1 220.3l8.48 -8.48M134.0 216.1h12M140.0 210.1v12M135.7 211.8l8.48 8.48M135.7 220.3l8.48 -8.48M135.6 216.1h12M141.6 210.1v12M137.3 211.8l8.48 8.48M137.3 220.3l8.48 -8.48M137.2 216.1h12M143.2 210.1v12M138.9 211.8l8.48 8.48M138.9 220.3l8.48 -8.48M138.8 216.1h12M144.8 210.1v12M140.6 211.8l8.48 8.48M140.6 220.3l8.48 -8.48M140.4 216.1h12M146.4 210.1v12M142.2 211.8l8.48 8.48M142.2 220.3l8.48 -8.48M142.0 216.1h12M148.0 210.1v12M143.8 211.8l8.48 8.48M143.8 220.3l8.48 -8.48M143.7 216.1h12M149.7 210.1v12M145.4 211.8l8.48 8.48M145.4 220.3l8.48 -8.48M145.3 216.1h12M151.3 210.1v12M147.0 211.8l8.48 8.48M147.0 220.3l8.48 -8.48M146.9 216.1h12M152.9 210.1v12M148.6 211.8l8.48 8.48M148.6 220.3l8.48 -8.48M148.5 216.1h12M154.5 210.1v12M150.3 211.8l8.48 8.48M150.3 220.3l8.48 -8.48M299.8 216.1h12M305.8 210.1v12M301.6 211.8l8.48 8.48M301.6 220.3l8.48 -8.48M425.3 216.1h12M431.3 210.1v12M427.1 211.8l8.48 8.48M427.1 220.3l8.48 -8.48M568.8 216.1h12M574.8 210.1v12M570.6 211.8l8.48 8.48M570.6 220.3l8.48 -8.48M570.4 216.1h12M576.4 210.1v12M572.1 211.8l8.48 8.48M572.1 220.3l8.48 -8.48M572.0 216.1h12M578.0 210.1v12M573.7 211.8l8.48 8.48M573.7 220.3l8.48 -8.48M573.6 216.1h12M579.6 210.1v12M575.3 211.8l8.48 8.48M575.3 220.3l8.48 -8.48M575.2 216.1h12M581.2 210.1v12M576.9 211.8l8.48 8.48M576.9 220.3l8.48 -8.48M576.7 216.1h12M582.7 210.1v12M578.5 211.8l8.48 8.48M578.5 220.3l8.48 -8.48M578.3 216.1h12M584.3 210.1v12M580.1 211.8l8.48 8.48M580.1 220.3l8.48 -8.48M579.9 216.1h12M585.9 210.1v12M581.7 211.8l8.48 8.48M581.7 220.3l8.48 -8.48M581.5 216.1h12M587.5 210.1v12M583.3 211.8l8.48 8.48M583.3 220.3l8.48 -8.48M583.1 216.1h12M589.1 210.1v12M584.9 211.8l8.48 8.48M584.9 220.3l8.48 -8.48M584.7 216.1h12M590.7 210.1v12M586.4 211.8l8.48 8.48M586.4 220.3l8.48 -8.48M586.3 216.1h12M592.3 210.1v12M588.0 211.8l8.48 8.48M588.0 220.3l8.48 -8.48M587.9 216.1h12M593.9 210.1v12M589.6 211.8l8.48 8.48M589.6 220.3l8.48 -8.48M589.4 216.1h12M595.4 210.1v12M591.2 211.8l8.48 8.48M591.2 220.3l8.48 -8.48M591.0 216.1h12M597.0 210.1v12M592.8 211.8l8.48 8.48M592.8 220.3l8.48 -8.48M592.6 216.1h12M598.6 210.1v12M594.4 211.8l8.48 8.48M594.4 220.3l8.48 -8.48M594.2 216.1h12M600.2 210.1v12M596.0 211.8l8.48 8.48M596.0 220.3l8.48 -8.48M595.8 216.1h12M601.8 210.1v12M597.6 211.8l8.48 8.48M597.6 220.3l8.48 -8.48M597.4 216.1h12M603.4 210.1v12M599.1 211.8l8.48 8.48M599.1 220.3l8.48 -8.48M599.0 216.1h12M605.0 210.1v12M600.7 211.8l8.48 8.48M600.7 220.3l8.48 -8.48M600.6 216.1h12M606.6 210.1v12M602.3 211.8l8.48 8.48M602.3 220.3l8.48 -8.48M602.2 216.1h12M608.2 210.1v12M603.9 211.8l8.48 8.48M603.9 220.3l8.48 -8.48M603.7 216.1h12M609.7 210.1v12M605.5 211.8l8.48 8.48M605.5 220.3l8.48 -8.48M605.3 216.1h12M611.3 210.1v12M607.1 211.8l8.48 8.48M607.1 220.3l8.48 -8.48M606.9 216.1h12M612.9 210.1v12M608.7 211.8l8.48 8.48M608.7 220.3l8.48 -8.48M608.5 216.1h12M614.5 210.1v12M610.3 211.8l8.48 8.48M610.3 220.3l8.48 -8.48M610.1 216.1h12M616.1 210.1v12M611.9 211.8l8.48 8.48M611.9 220.3l8.48 -8.48M611.7 216.1h12M617.7 210.1v12M613.4 211.8l8.48 8.48M613.4 220.3l8.48 -8.48M613.3 216.1h12M619.3 210.1v12M615.0 211.8l8.48 8.48M615.0 220.3l8.48 -8.48M614.9 216.1h12M620.9 210.1v12M616.6 211.8l8.48 8.48M616.6 220.3l8.48 -8.48M616.4 216.1h12M622.4 210.1v12M618.2 211.8l8.48 8.48M618.2 220.3l8.48 -8.48M618.0 216.1h12M624.0 210.1v12M619.8 211.8l8.48 8.48M619.8 220.3l8.48 -8.48M619.6 216.1h12M625.6 210.1v12M621.4 211.8l8.48 8.48M621.4 220.3l8.48 -8.48M621.2 216.1h12M627.2 210.1v12M623.0 211.8l8.48 8.48M623.0 220.3l8.48 -8.48M622.8 216.1h12M628.8 210.1v12M624.6 211.8l8.48 8.48M624.6 220.3l8.48 -8.48M98.4 207.9h12M104.4 201.9v12M100.2 203.7l8.48 8.48M100.2 212.1l8.48 -8.48M100.0 207.9h12M106.0 201.9v12M101.8 203.7l8.48 8.48M101.8 212.1l8.48 -8.48M101.6 207.9h12M107.6 201.9v12M103.4 203.7l8.48 8.48M103.4 212.1l8.48 -8.48M103.2 207.9h12M109.2 201.9v12M105.0 203.7l8.48 8.48M105.0 212.1l8.48 -8.48M104.9 207.9h12M110.9 201.9v12M106.6 203.7l8.48 8.48M106.6 212.1l8.48 -8.48M106.5 207.9h12M112.5 201.9v12M108.2 203.7l8.48 8.48M108.2 212.1l8.48 -8.48M108.1 207.9h12M114.1 201.9v12M109.9 203.7l8.48 8.48M109.9 212.1l8.48 -8.48M109.7 207.9h12M115.7 201.9v12M111.5 203.7l8.48 8.48M111.5 212.1l8.48 -8.48M111.3 207.9h12M117.3 201.9v12M113.1 203.7l8.48 8.48M113.1 212.1l8.48 -8.48M112.9 207.9h12M118.9 201.9v12M114.7 203.7l8.48 8.48M114.7 212.1l8.48 -8.48M114.6 207.9h12M120.6 201.9v12M116.3 203.7l8.48 8.48M116.3 212.1l8.48 -8.48M116.2 207.9h12M122.2 201.9v12M117.9 203.7l8.48 8.48M117.9 212.1l8.48 -8.48M117.8 207.9h12M123.8 201.9v12M119.6 203.7l8.48 8.48M119.6 212.1l8.48 -8.48M119.4 207.9h12M125.4 201.9v12M121.2 203.7l8.48 8.48M121.2 212.1l8.48 -8.48M121.0 207.9h12M127.0 201.9v12M122.8 203.7l8.48 8.48M122.8 212.1l8.48 -8.48M122.6 207.9h12M128.6 201.9v12M124.4 203.7l8.48 8.48M124.4 212.1l8.48 -8.48M124.3 207.9h12M130.3 201.9v12M126.0 203.7l8.48 8.48M126.0 212.1l8.48 -8.48M125.9 207.9h12M131.9 201.9v12M127.6 203.7l8.48 8.48M127.6 212.1l8.48 -8.48M127.5 207.9h12M133.5 201.9v12M129.3 203.7l8.48 8.48M129.3 212.1l8.48 -8.48M129.1 207.9h12M135.1 201.9v12M130.9 203.7l8.48 8.48M130.9 212.1l8.48 -8.48M130.7 207.9h12M136.7 201.9v12M132.5 203.7l8.48 8.48M132.5 212.1l8.48 -8.48M132.3 207.9h12M138.3 201.9v12M134.1 203.7l8.48 8.48M134.1 212.1l8.48 -8.48M134.0 207.9h12M140.0 201.9v12M135.7 203.7l8.48 8.48M135.7 212.1l8.48 -8.48M135.6 207.9h12M141.6 201.9v12M137.3 203.7l8.48 8.48M137.3 212.1l8.48 -8.48M137.2 207.9h12M143.2 201.9v12M138.9 203.7l8.48 8.48M138.9 212.1l8.48 -8.48M138.8 207.9h12M144.8 201.9v12M140.6 203.7l8.48 8.48M140.6 212.1l8.48 -8.48M140.4 207.9h12M146.4 201.9v12M142.2 203.7l8.48 8.48M142.2 212.1l8.48 -8.48M142.0 207.9h12M148.0 201.9v12M143.8 203.7l8.48 8.48M143.8 212.1l8.48 -8.48M143.7 207.9h12M149.7 201.9v12M145.4 203.7l8.48 8.48M145.4 212.1l8.48 -8.48M145.3 207.9h12M151.3 201.9v12M147.0 203.7l8.48 8.48M147.0 212.1l8.48 -8.48M146.9 207.9h12M152.9 201.9v12M148.6 203.7l8.48 8.48M148.6 212.1l8.48 -8.48M148.5 207.9h12M154.5 201.9v12M150.3 203.7l8.48 8.48M150.3 212.1l8.48 -8.48M299.8 207.9h12M305.8 201.9v12M301.6 203.7l8.48 8.48M301.6 212.1l8.48 -8.48M416.5 207.9h12M422.5 201.9v12M418.3 203.7l8.48 8.48M418.3 212.1l8.48 -8.48M424.5 207.9h12M430.5 201.9v12M426.3 203.7l8.48 8.48M426.3 212.1l8.48 -8.48M568.8 207.9h12M574.8 201.9v12M570.6 203.7l8.48 8.48M570.6 212.1l8.48 -8.48M570.4 207.9h12M576.4 201.9v12M572.1 203.7l8.48 8.48M572.1 212.1l8.48 -8.48M572.0 207.9h12M578.0 201.9v12M573.7 203.7l8.48 8.48M573.7 212.1l8.48 -8.48M573.5 207.9h12M579.5 201.9v12M575.3 203.7l8.48 8.48M575.3 212.1l8.48 -8.48M575.1 207.9h12M581.1 201.9v12M576.9 203.7l8.48 8.48M576.9 212.1l8.48 -8.48M576.7 207.9h12M582.7 201.9v12M578.5 203.7l8.48 8.48M578.5 212.1l8.48 -8.48M578.3 207.9h12M584.3 201.9v12M580.0 203.7l8.48 8.48M580.0 212.1l8.48 -8.48M579.9 207.9h12M585.9 201.9v12M581.6 203.7l8.48 8.48M581.6 212.1l8.48 -8.48M581.4 207.9h12M587.4 201.9v12M583.2 203.7l8.48 8.48M583.2 212.1l8.48 -8.48M583.0 207.9h12M589.0 201.9v12M584.8 203.7l8.48 8.48M584.8 212.1l8.48 -8.48M584.6 207.9h12M590.6 201.9v12M586.4 203.7l8.48 8.48M586.4 212.1l8.48 -8.48M586.2 207.9h12M592.2 201.9v12M587.9 203.7l8.48 8.48M587.9 212.1l8.48 -8.48M587.8 207.9h12M593.8 201.9v12M589.5 203.7l8.48 8.48M589.5 212.1l8.48 -8.48M589.3 207.9h12M595.3 201.9v12M591.1 203.7l8.48 8.48M591.1 212.1l8.48 -8.48M590.9 207.9h12M596.9 201.9v12M592.7 203.7l8.48 8.48M592.7 212.1l8.48 -8.48M592.5 207.9h12M598.5 201.9v12M594.3 203.7l8.48 8.48M594.3 212.1l8.48 -8.48M594.1 207.9h12M600.1 201.9v12M595.8 203.7l8.48 8.48M595.8 212.1l8.48 -8.48M595.6 207.9h12M601.6 201.9v12M597.4 203.7l8.48 8.48M597.4 212.1l8.48 -8.48M597.2 207.9h12M603.2 201.9v12M599.0 203.7l8.48 8.48M599.0 212.1l8.48 -8.48M598.8 207.9h12M604.8 201.9v12M600.6 203.7l8.48 8.48M600.6 212.1l8.48 -8.48M600.4 207.9h12M606.4 201.9v12M602.1 203.7l8.48 8.48M602.1 212.1l8.48 -8.48M602.0 207.9h12M608.0 201.9v12M603.7 203.7l8.48 8.48M603.7 212.1l8.48 -8.48M603.5 207.9h12M609.5 201.9v12M605.3 203.7l8.48 8.48M605.3 212.1l8.48 -8.48M605.1 207.9h12M611.1 201.9v12M606.9 203.7l8.48 8.48M606.9 212.1l8.48 -8.48M606.7 207.9h12M612.7 201.9v12M608.5 203.7l8.48 8.48M608.5 212.1l8.48 -8.48M608.3 207.9h12M614.3 201.9v12M610.0 203.7l8.48 8.48M610.0 212.1l8.48 -8.48M609.9 207.9h12M615.9 201.9v12M611.6 203.7l8.48 8.48M611.6 212.1l8.48 -8.48M611.4 207.9h12M617.4 201.9v12M613.2 203.7l8.48 8.48M613.2 212.1l8.48 -8.48M613.0 207.9h12M619.0 201.9v12M614.8 203.7l8.48 8.48M614.8 212.1l8.48 -8.48M614.6 207.9h12M620.6 201.9v12M616.4 203.7l8.48 8.48M616.4 212.1l8.48 -8.48M616.2 207.9h12M622.2 201.9v12M617.9 203.7l8.48 8.48M617.9 212.1l8.48 -8.48M617.8 207.9h12M623.8 201.9v12M619.5 203.7l8.48 8.48M619.5 212.1l8.48 -8.48M619.3 207.9h12M625.3 201.9v12M621.1 203.7l8.48 8.48M621.1 212.1l8.48 -8.48M620.9 207.9h12M626.9 201.9v12M622.7 203.7l8.48 8.48M622.7 212.1l8.48 -8.48M622.5 207.9h12M628.5 201.9v12M624.3 203.7l8.48 8.48M624.3 212.1l8.48 -8.48M98.4 199.7h12M104.4 193.7v12M100.2 195.5l8.48 8.48M100.2 204.0l8.48 -8.48M100.0 199.7h12M106.0 193.7v12M101.8 195.5l8.48 8.48M101.8 204.0l8.48 -8.48M101.6 199.7h12M107.6 193.7v12M103.4 195.5l8.48 8.48M103.4 204.0l8.48 -8.48M103.2 199.7h12M109.2 193.7v12M105.0 195.5l8.48 8.48M105.0 204.0l8.48 -8.48M104.9 199.7h12M110.9 193.7v12M106.6 195.5l8.48 8.48M106.6 204.0l8.48 -8.48M106.5 199.7h12M112.5 193.7v12M108.2 195.5l8.48 8.48M108.2 204.0l8.48 -8.48M108.1 199.7h12M114.1 193.7v12M109.9 195.5l8.48 8.48M109.9 204.0l8.48 -8.48M109.7 199.7h12M115.7 193.7v12M111.5 195.5l8.48 8.48M111.5 204.0l8.48 -8.48M111.3 199.7h12M117.3 193.7v12M113.1 195.5l8.48 8.48M113.1 204.0l8.48 -8.48M112.9 199.7h12M118.9 193.7v12M114.7 195.5l8.48 8.48M114.7 204.0l8.48 -8.48M114.6 199.7h12M120.6 193.7v12M116.3 195.5l8.48 8.48M116.3 204.0l8.48 -8.48M116.2 199.7h12M122.2 193.7v12M117.9 195.5l8.48 8.48M117.9 204.0l8.48 -8.48M117.8 199.7h12M123.8 193.7v12M119.6 195.5l8.48 8.48M119.6 204.0l8.48 -8.48M119.4 199.7h12M125.4 193.7v12M121.2 195.5l8.48 8.48M121.2 204.0l8.48 -8.48M121.0 199.7h12M127.0 193.7v12M122.8 195.5l8.48 8.48M122.8 204.0l8.48 -8.48M122.6 199.7h12M128.6 193.7v12M124.4 195.5l8.48 8.48M124.4 204.0l8.48 -8.48M124.3 199.7h12M130.3 193.7v12M126.0 195.5l8.48 8.48M126.0 204.0l8.48 -8.48M125.9 199.7h12M131.9 193.7v12M127.6 195.5l8.48 8.48M127.6 204.0l8.48 -8.48M127.5 199.7h12M133.5 193.7v12M129.3 195.5l8.48 8.48M129.3 204.0l8.48 -8.48M129.1 199.7h12M135.1 193.7v12M130.9 195.5l8.48 8.48M130.9 204.0l8.48 -8.48M130.7 199.7h12M136.7 193.7v12M132.5 195.5l8.48 8.48M132.5 204.0l8.48 -8.48M132.3 199.7h12M138.3 193.7v12M134.1 195.5l8.48 8.48M134.1 204.0l8.48 -8.48M134.0 199.7h12M140.0 193.7v12M135.7 195.5l8.48 8.48M135.7 204.0l8.48 -8.48M135.6 199.7h12M141.6 193.7v12M137.3 195.5l8.48 8.48M137.3 204.0l8.48 -8.48M137.2 199.7h12M143.2 193.7v12M138.9 195.5l8.48 8.48M138.9 204.0l8.48 -8.48M138.8 199.7h12M144.8 193.7v12M140.6 195.5l8.48 8.48M140.6 204.0l8.48 -8.48M140.4 199.7h12M146.4 193.7v12M142.2 195.5l8.48 8.48M142.2 204.0l8.48 -8.48M142.0 199.7h12M148.0 193.7v12M143.8 195.5l8.48 8.48M143.8 204.0l8.48 -8.48M143.7 199.7h12M149.7 193.7v12M145.4 195.5l8.48 8.48M145.4 204.0l8.48 -8.48M145.3 199.7h12M151.3 193.7v12M147.0 195.5l8.48 8.48M147.0 204.0l8.48 -8.48M146.9 199.7h12M152.9 193.7v12M148.6 195.5l8.48 8.48M148.6 204.0l8.48 -8.48M148.5 199.7h12M154.5 193.7v12M150.3 195.5l8.48 8.48M150.3 204.0l8.48 -8.48M299.8 199.7h12M305.8 193.7v12M301.6 195.5l8.48 8.48M301.6 204.0l8.48 -8.48M301.6 199.7h12M307.6 193.7v12M303.4 195.5l8.48 8.48M303.4 204.0l8.48 -8.48M303.5 199.7h12M309.5 193.7v12M305.3 195.5l8.48 8.48M305.3 204.0l8.48 -8.48M413.5 199.7h12M419.5 193.7v12M415.3 195.5l8.48 8.48M415.3 204.0l8.48 -8.48M414.0 199.7h12M420.0 193.7v12M415.7 195.5l8.48 8.48M415.7 204.0l8.48 -8.48M414.5 199.7h12M420.5 193.7v12M416.2 195.5l8.48 8.48M416.2 204.0l8.48 -8.48M414.9 199.7h12M420.9 193.7v12M416.7 195.5l8.48 8.48M416.7 204.0l8.48 -8.48M415.4 199.7h12M421.4 193.7v12M417.2 195.5l8.48 8.48M417.2 204.0l8.48 -8.48M415.9 199.7h12M421.9 193.7v12M417.7 195.5l8.48 8.48M417.7 204.0l8.48 -8.48M416.4 199.7h12M422.4 193.7v12M418.2 195.5l8.48 8.48M418.2 204.0l8.48 -8.48M424.5 199.7h12M430.5 193.7v12M426.3 195.5l8.48 8.48M426.3 204.0l8.48 -8.48M568.8 199.7h12M574.8 193.7v12M570.6 195.5l8.48 8.48M570.6 204.0l8.48 -8.48M570.4 199.7h12M576.4 193.7v12M572.2 195.5l8.48 8.48M572.2 204.0l8.48 -8.48M572.0 199.7h12M578.0 193.7v12M573.8 195.5l8.48 8.48M573.8 204.0l8.48 -8.48M573.6 199.7h12M579.6 193.7v12M575.4 195.5l8.48 8.48M575.4 204.0l8.48 -8.48M575.2 199.7h12M581.2 193.7v12M577.0 195.5l8.48 8.48M577.0 204.0l8.48 -8.48M576.8 199.7h12M582.8 193.7v12M578.6 195.5l8.48 8.48M578.6 204.0l8.48 -8.48M578.4 199.7h12M584.4 193.7v12M580.2 195.5l8.48 8.48M580.2 204.0l8.48 -8.48M580.0 199.7h12M586.0 193.7v12M581.8 195.5l8.48 8.48M581.8 204.0l8.48 -8.48M581.6 199.7h12M587.6 193.7v12M583.4 195.5l8.48 8.48M583.4 204.0l8.48 -8.48M583.3 199.7h12M589.3 193.7v12M585.0 195.5l8.48 8.48M585.0 204.0l8.48 -8.48M584.9 199.7h12M590.9 193.7v12M586.6 195.5l8.48 8.48M586.6 204.0l8.48 -8.48M586.5 199.7h12M592.5 193.7v12M588.2 195.5l8.48 8.48M588.2 204.0l8.48 -8.48M588.1 199.7h12M594.1 193.7v12M589.8 195.5l8.48 8.48M589.8 204.0l8.48 -8.48M589.7 199.7h12M595.7 193.7v12M591.4 195.5l8.48 8.48M591.4 204.0l8.48 -8.48M591.3 199.7h12M597.3 193.7v12M593.0 195.5l8.48 8.48M593.0 204.0l8.48 -8.48M592.9 199.7h12M598.9 193.7v12M594.7 195.5l8.48 8.48M594.7 204.0l8.48 -8.48M594.5 199.7h12M600.5 193.7v12M596.3 195.5l8.48 8.48M596.3 204.0l8.48 -8.48M596.1 199.7h12M602.1 193.7v12M597.9 195.5l8.48 8.48M597.9 204.0l8.48 -8.48M597.7 199.7h12M603.7 193.7v12M599.5 195.5l8.48 8.48M599.5 204.0l8.48 -8.48M599.3 199.7h12M605.3 193.7v12M601.1 195.5l8.48 8.48M601.1 204.0l8.48 -8.48M600.9 199.7h12M606.9 193.7v12M602.7 195.5l8.48 8.48M602.7 204.0l8.48 -8.48M602.5 199.7h12M608.5 193.7v12M604.3 195.5l8.48 8.48M604.3 204.0l8.48 -8.48M604.1 199.7h12M610.1 193.7v12M605.9 195.5l8.48 8.48M605.9 204.0l8.48 -8.48M605.7 199.7h12M611.7 193.7v12M607.5 195.5l8.48 8.48M607.5 204.0l8.48 -8.48M607.3 199.7h12M613.3 193.7v12M609.1 195.5l8.48 8.48M609.1 204.0l8.48 -8.48M609.0 199.7h12M615.0 193.7v12M610.7 195.5l8.48 8.48M610.7 204.0l8.48 -8.48M610.6 199.7h12M616.6 193.7v12M612.3 195.5l8.48 8.48M612.3 204.0l8.48 -8.48M612.2 199.7h12M618.2 193.7v12M613.9 195.5l8.48 8.48M613.9 204.0l8.48 -8.48M613.8 199.7h12M619.8 193.7v12M615.5 195.5l8.48 8.48M615.5 204.0l8.48 -8.48M615.4 199.7h12M621.4 193.7v12M617.1 195.5l8.48 8.48M617.1 204.0l8.48 -8.48M617.0 199.7h12M623.0 193.7v12M618.7 195.5l8.48 8.48M618.7 204.0l8.48 -8.48M618.6 199.7h12M624.6 193.7v12M620.3 195.5l8.48 8.48M620.3 204.0l8.48 -8.48M620.2 199.7h12M626.2 193.7v12M622.0 195.5l8.48 8.48M622.0 204.0l8.48 -8.48M621.8 199.7h12M627.8 193.7v12M623.6 195.5l8.48 8.48M623.6 204.0l8.48 -8.48M98.4 191.6h12M104.4 185.6v12M100.2 187.3l8.48 8.48M100.2 195.8l8.48 -8.48M100.0 191.6h12M106.0 185.6v12M101.8 187.3l8.48 8.48M101.8 195.8l8.48 -8.48M101.6 191.6h12M107.6 185.6v12M103.4 187.3l8.48 8.48M103.4 195.8l8.48 -8.48M103.2 191.6h12M109.2 185.6v12M105.0 187.3l8.48 8.48M105.0 195.8l8.48 -8.48M104.9 191.6h12M110.9 185.6v12M106.6 187.3l8.48 8.48M106.6 195.8l8.48 -8.48M106.5 191.6h12M112.5 185.6v12M108.2 187.3l8.48 8.48M108.2 195.8l8.48 -8.48M108.1 191.6h12M114.1 185.6v12M109.9 187.3l8.48 8.48M109.9 195.8l8.48 -8.48M109.7 191.6h12M115.7 185.6v12M111.5 187.3l8.48 8.48M111.5 195.8l8.48 -8.48M111.3 191.6h12M117.3 185.6v12M113.1 187.3l8.48 8.48M113.1 195.8l8.48 -8.48M112.9 191.6h12M118.9 185.6v12M114.7 187.3l8.48 8.48M114.7 195.8l8.48 -8.48M114.6 191.6h12M120.6 185.6v12M116.3 187.3l8.48 8.48M116.3 195.8l8.48 -8.48M116.2 191.6h12M122.2 185.6v12M117.9 187.3l8.48 8.48M117.9 195.8l8.48 -8.48M117.8 191.6h12M123.8 185.6v12M119.6 187.3l8.48 8.48M119.6 195.8l8.48 -8.48M119.4 191.6h12M125.4 185.6v12M121.2 187.3l8.48 8.48M121.2 195.8l8.48 -8.48M121.0 191.6h12M127.0 185.6v12M122.8 187.3l8.48 8.48M122.8 195.8l8.48 -8.48M122.6 191.6h12M128.6 185.6v12M124.4 187.3l8.48 8.48M124.4 195.8l8.48 -8.48M124.3 191.6h12M130.3 185.6v12M126.0 187.3l8.48 8.48M126.0 195.8l8.48 -8.48M125.9 191.6h12M131.9 185.6v12M127.6 187.3l8.48 8.48M127.6 195.8l8.48 -8.48M127.5 191.6h12M133.5 185.6v12M129.3 187.3l8.48 8.48M129.3 195.8l8.48 -8.48M129.1 191.6h12M135.1 185.6v12M130.9 187.3l8.48 8.48M130.9 195.8l8.48 -8.48M130.7 191.6h12M136.7 185.6v12M132.5 187.3l8.48 8.48M132.5 195.8l8.48 -8.48M132.3 191.6h12M138.3 185.6v12M134.1 187.3l8.48 8.48M134.1 195.8l8.48 -8.48M134.0 191.6h12M140.0 185.6v12M135.7 187.3l8.48 8.48M135.7 195.8l8.48 -8.48M135.6 191.6h12M141.6 185.6v12M137.3 187.3l8.48 8.48M137.3 195.8l8.48 -8.48M137.2 191.6h12M143.2 185.6v12M138.9 187.3l8.48 8.48M138.9 195.8l8.48 -8.48M138.8 191.6h12M144.8 185.6v12M140.6 187.3l8.48 8.48M140.6 195.8l8.48 -8.48M140.4 191.6h12M146.4 185.6v12M142.2 187.3l8.48 8.48M142.2 195.8l8.48 -8.48M142.0 191.6h12M148.0 185.6v12M143.8 187.3l8.48 8.48M143.8 195.8l8.48 -8.48M143.7 191.6h12M149.7 185.6v12M145.4 187.3l8.48 8.48M145.4 195.8l8.48 -8.48M145.3 191.6h12M151.3 185.6v12M147.0 187.3l8.48 8.48M147.0 195.8l8.48 -8.48M146.9 191.6h12M152.9 185.6v12M148.6 187.3l8.48 8.48M148.6 195.8l8.48 -8.48M148.5 191.6h12M154.5 185.6v12M150.3 187.3l8.48 8.48M150.3 195.8l8.48 -8.48M299.8 191.6h12M305.8 185.6v12M301.6 187.3l8.48 8.48M301.6 195.8l8.48 -8.48M301.3 191.6h12M307.3 185.6v12M303.1 187.3l8.48 8.48M303.1 195.8l8.48 -8.48M302.9 191.6h12M308.9 185.6v12M304.6 187.3l8.48 8.48M304.6 195.8l8.48 -8.48M304.4 191.6h12M310.4 185.6v12M306.2 187.3l8.48 8.48M306.2 195.8l8.48 -8.48M305.9 191.6h12M311.9 185.6v12M307.7 187.3l8.48 8.48M307.7 195.8l8.48 -8.48M307.5 191.6h12M313.5 185.6v12M309.2 187.3l8.48 8.48M309.2 195.8l8.48 -8.48M309.0 191.6h12M315.0 185.6v12M310.8 187.3l8.48 8.48M310.8 195.8l8.48 -8.48M411.0 191.6h12M417.0 185.6v12M412.8 187.3l8.48 8.48M412.8 195.8l8.48 -8.48M412.8 191.6h12M418.8 185.6v12M414.5 187.3l8.48 8.48M414.5 195.8l8.48 -8.48M414.5 191.6h12M420.5 185.6v12M416.3 187.3l8.48 8.48M416.3 195.8l8.48 -8.48M416.3 191.6h12M422.3 185.6v12M418.1 187.3l8.48 8.48M418.1 195.8l8.48 -8.48M424.5 191.6h12M430.5 185.6v12M426.3 187.3l8.48 8.48M426.3 195.8l8.48 -8.48M568.8 191.6h12M574.8 185.6v12M570.6 187.3l8.48 8.48M570.6 195.8l8.48 -8.48M570.4 191.6h12M576.4 185.6v12M572.1 187.3l8.48 8.48M572.1 195.8l8.48 -8.48M572.0 191.6h12M578.0 185.6v12M573.7 187.3l8.48 8.48M573.7 195.8l8.48 -8.48M573.5 191.6h12M579.5 185.6v12M575.3 187.3l8.48 8.48M575.3 195.8l8.48 -8.48M575.1 191.6h12M581.1 185.6v12M576.9 187.3l8.48 8.48M576.9 195.8l8.48 -8.48M576.7 191.6h12M582.7 185.6v12M578.5 187.3l8.48 8.48M578.5 195.8l8.48 -8.48M578.3 191.6h12M584.3 185.6v12M580.1 187.3l8.48 8.48M580.1 195.8l8.48 -8.48M579.9 191.6h12M585.9 185.6v12M581.6 187.3l8.48 8.48M581.6 195.8l8.48 -8.48M581.5 191.6h12M587.5 185.6v12M583.2 187.3l8.48 8.48M583.2 195.8l8.48 -8.48M583.0 191.6h12M589.0 185.6v12M584.8 187.3l8.48 8.48M584.8 195.8l8.48 -8.48M584.6 191.6h12M590.6 185.6v12M586.4 187.3l8.48 8.48M586.4 195.8l8.48 -8.48M586.2 191.6h12M592.2 185.6v12M588.0 187.3l8.48 8.48M588.0 195.8l8.48 -8.48M587.8 191.6h12M593.8 185.6v12M589.5 187.3l8.48 8.48M589.5 195.8l8.48 -8.48M589.4 191.6h12M595.4 185.6v12M591.1 187.3l8.48 8.48M591.1 195.8l8.48 -8.48M590.9 191.6h12M596.9 185.6v12M592.7 187.3l8.48 8.48M592.7 195.8l8.48 -8.48M592.5 191.6h12M598.5 185.6v12M594.3 187.3l8.48 8.48M594.3 195.8l8.48 -8.48M594.1 191.6h12M600.1 185.6v12M595.9 187.3l8.48 8.48M595.9 195.8l8.48 -8.48M595.7 191.6h12M601.7 185.6v12M597.5 187.3l8.48 8.48M597.5 195.8l8.48 -8.48M597.3 191.6h12M603.3 185.6v12M599.0 187.3l8.48 8.48M599.0 195.8l8.48 -8.48M598.9 191.6h12M604.9 185.6v12M600.6 187.3l8.48 8.48M600.6 195.8l8.48 -8.48M600.4 191.6h12M606.4 185.6v12M602.2 187.3l8.48 8.48M602.2 195.8l8.48 -8.48M602.0 191.6h12M608.0 185.6v12M603.8 187.3l8.48 8.48M603.8 195.8l8.48 -8.48M603.6 191.6h12M609.6 185.6v12M605.4 187.3l8.48 8.48M605.4 195.8l8.48 -8.48M605.2 191.6h12M611.2 185.6v12M606.9 187.3l8.48 8.48M606.9 195.8l8.48 -8.48M606.8 191.6h12M612.8 185.6v12M608.5 187.3l8.48 8.48M608.5 195.8l8.48 -8.48M608.3 191.6h12M614.3 185.6v12M610.1 187.3l8.48 8.48M610.1 195.8l8.48 -8.48M609.9 191.6h12M615.9 185.6v12M611.7 187.3l8.48 8.48M611.7 195.8l8.48 -8.48M611.5 191.6h12M617.5 185.6v12M613.3 187.3l8.48 8.48M613.3 195.8l8.48 -8.48M613.1 191.6h12M619.1 185.6v12M614.9 187.3l8.48 8.48M614.9 195.8l8.48 -8.48M614.7 191.6h12M620.7 185.6v12M616.4 187.3l8.48 8.48M616.4 195.8l8.48 -8.48M616.3 191.6h12M622.3 185.6v12M618.0 187.3l8.48 8.48M618.0 195.8l8.48 -8.48M617.8 191.6h12M623.8 185.6v12M619.6 187.3l8.48 8.48M619.6 195.8l8.48 -8.48M619.4 191.6h12M625.4 185.6v12M621.2 187.3l8.48 8.48M621.2 195.8l8.48 -8.48M621.0 191.6h12M627.0 185.6v12M622.8 187.3l8.48 8.48M622.8 195.8l8.48 -8.48M98.4 183.4h12M104.4 177.4v12M100.2 179.2l8.48 8.48M100.2 187.7l8.48 -8.48M100.0 183.4h12M106.0 177.4v12M101.8 179.2l8.48 8.48M101.8 187.7l8.48 -8.48M101.6 183.4h12M107.6 177.4v12M103.4 179.2l8.48 8.48M103.4 187.7l8.48 -8.48M103.2 183.4h12M109.2 177.4v12M105.0 179.2l8.48 8.48M105.0 187.7l8.48 -8.48M104.8 183.4h12M110.8 177.4v12M106.6 179.2l8.48 8.48M106.6 187.7l8.48 -8.48M106.4 183.4h12M112.4 177.4v12M108.2 179.2l8.48 8.48M108.2 187.7l8.48 -8.48M108.0 183.4h12M114.0 177.4v12M109.8 179.2l8.48 8.48M109.8 187.7l8.48 -8.48M109.6 183.4h12M115.6 177.4v12M111.4 179.2l8.48 8.48M111.4 187.7l8.48 -8.48M111.2 183.4h12M117.2 177.4v12M113.0 179.2l8.48 8.48M113.0 187.7l8.48 -8.48M112.8 183.4h12M118.8 177.4v12M114.6 179.2l8.48 8.48M114.6 187.7l8.48 -8.48M114.4 183.4h12M120.4 177.4v12M116.2 179.2l8.48 8.48M116.2 187.7l8.48 -8.48M116.0 183.4h12M122.0 177.4v12M117.8 179.2l8.48 8.48M117.8 187.7l8.48 -8.48M117.6 183.4h12M123.6 177.4v12M119.4 179.2l8.48 8.48M119.4 187.7l8.48 -8.48M119.2 183.4h12M125.2 177.4v12M121.0 179.2l8.48 8.48M121.0 187.7l8.48 -8.48M120.8 183.4h12M126.8 177.4v12M122.6 179.2l8.48 8.48M122.6 187.7l8.48 -8.48M122.4 183.4h12M128.4 177.4v12M124.2 179.2l8.48 8.48M124.2 187.7l8.48 -8.48M124.0 183.4h12M130.0 177.4v12M125.8 179.2l8.48 8.48M125.8 187.7l8.48 -8.48M125.6 183.4h12M131.6 177.4v12M127.4 179.2l8.48 8.48M127.4 187.7l8.48 -8.48M127.2 183.4h12M133.2 177.4v12M129.0 179.2l8.48 8.48M129.0 187.7l8.48 -8.48M128.8 183.4h12M134.8 177.4v12M130.6 179.2l8.48 8.48M130.6 187.7l8.48 -8.48M130.4 183.4h12M136.4 177.4v12M132.2 179.2l8.48 8.48M132.2 187.7l8.48 -8.48M132.0 183.4h12M138.0 177.4v12M133.8 179.2l8.48 8.48M133.8 187.7l8.48 -8.48M133.6 183.4h12M139.6 177.4v12M135.4 179.2l8.48 8.48M135.4 187.7l8.48 -8.48M135.2 183.4h12M141.2 177.4v12M137.0 179.2l8.48 8.48M137.0 187.7l8.48 -8.48M136.8 183.4h12M142.8 177.4v12M138.6 179.2l8.48 8.48M138.6 187.7l8.48 -8.48M138.4 183.4h12M144.4 177.4v12M140.2 179.2l8.48 8.48M140.2 187.7l8.48 -8.48M140.0 183.4h12M146.0 177.4v12M141.8 179.2l8.48 8.48M141.8 187.7l8.48 -8.48M141.6 183.4h12M147.6 177.4v12M143.4 179.2l8.48 8.48M143.4 187.7l8.48 -8.48M143.2 183.4h12M149.2 177.4v12M145.0 179.2l8.48 8.48M145.0 187.7l8.48 -8.48M144.8 183.4h12M150.8 177.4v12M146.6 179.2l8.48 8.48M146.6 187.7l8.48 -8.48M146.4 183.4h12M152.4 177.4v12M148.2 179.2l8.48 8.48M148.2 187.7l8.48 -8.48M148.0 183.4h12M154.0 177.4v12M149.8 179.2l8.48 8.48M149.8 187.7l8.48 -8.48M299.8 183.4h12M305.8 177.4v12M301.6 179.2l8.48 8.48M301.6 187.7l8.48 -8.48M301.3 183.4h12M307.3 177.4v12M303.1 179.2l8.48 8.48M303.1 187.7l8.48 -8.48M302.9 183.4h12M308.9 177.4v12M304.6 179.2l8.48 8.48M304.6 187.7l8.48 -8.48M304.4 183.4h12M310.4 177.4v12M306.1 179.2l8.48 8.48M306.1 187.7l8.48 -8.48M305.9 183.4h12M311.9 177.4v12M307.7 179.2l8.48 8.48M307.7 187.7l8.48 -8.48M307.4 183.4h12M313.4 177.4v12M309.2 179.2l8.48 8.48M309.2 187.7l8.48 -8.48M308.9 183.4h12M314.9 177.4v12M310.7 179.2l8.48 8.48M310.7 187.7l8.48 -8.48M310.5 183.4h12M316.5 177.4v12M312.2 179.2l8.48 8.48M312.2 187.7l8.48 -8.48M312.0 183.4h12M318.0 177.4v12M313.8 179.2l8.48 8.48M313.8 187.7l8.48 -8.48M409.0 183.4h12M415.0 177.4v12M410.8 179.2l8.48 8.48M410.8 187.7l8.48 -8.48M410.8 183.4h12M416.8 177.4v12M412.6 179.2l8.48 8.48M412.6 187.7l8.48 -8.48M412.7 183.4h12M418.7 177.4v12M414.4 179.2l8.48 8.48M414.4 187.7l8.48 -8.48M414.5 183.4h12M420.5 177.4v12M416.3 179.2l8.48 8.48M416.3 187.7l8.48 -8.48M424.5 183.4h12M430.5 177.4v12M426.3 179.2l8.48 8.48M426.3 187.7l8.48 -8.48M568.8 183.4h12M574.8 177.4v12M570.6 179.2l8.48 8.48M570.6 187.7l8.48 -8.48M570.4 183.4h12M576.4 177.4v12M572.2 179.2l8.48 8.48M572.2 187.7l8.48 -8.48M572.0 183.4h12M578.0 177.4v12M573.8 179.2l8.48 8.48M573.8 187.7l8.48 -8.48M573.6 183.4h12M579.6 177.4v12M575.4 179.2l8.48 8.48M575.4 187.7l8.48 -8.48M575.2 183.4h12M581.2 177.4v12M577.0 179.2l8.48 8.48M577.0 187.7l8.48 -8.48M576.8 183.4h12M582.8 177.4v12M578.6 179.2l8.48 8.48M578.6 187.7l8.48 -8.48M578.5 183.4h12M584.5 177.4v12M580.2 179.2l8.48 8.48M580.2 187.7l8.48 -8.48M580.1 183.4h12M586.1 177.4v12M581.8 179.2l8.48 8.48M581.8 187.7l8.48 -8.48M581.7 183.4h12M587.7 177.4v12M583.4 179.2l8.48 8.48M583.4 187.7l8.48 -8.48M583.3 183.4h12M589.3 177.4v12M585.0 179.2l8.48 8.48M585.0 187.7l8.48 -8.48M584.9 183.4h12M590.9 177.4v12M586.7 179.2l8.48 8.48M586.7 187.7l8.48 -8.48M586.5 183.4h12M592.5 177.4v12M588.3 179.2l8.48 8.48M588.3 187.7l8.48 -8.48M588.1 183.4h12M594.1 177.4v12M589.9 179.2l8.48 8.48M589.9 187.7l8.48 -8.48M589.7 183.4h12M595.7 177.4v12M591.5 179.2l8.48 8.48M591.5 187.7l8.48 -8.48M591.3 183.4h12M597.3 177.4v12M593.1 179.2l8.48 8.48M593.1 187.7l8.48 -8.48M592.9 183.4h12M598.9 177.4v12M594.7 179.2l8.48 8.48M594.7 187.7l8.48 -8.48M594.5 183.4h12M600.5 177.4v12M596.3 179.2l8.48 8.48M596.3 187.7l8.48 -8.48M596.2 183.4h12M602.2 177.4v12M597.9 179.2l8.48 8.48M597.9 187.7l8.48 -8.48M597.8 183.4h12M603.8 177.4v12M599.5 179.2l8.48 8.48M599.5 187.7l8.48 -8.48M599.4 183.4h12M605.4 177.4v12M601.1 179.2l8.48 8.48M601.1 187.7l8.48 -8.48M601.0 183.4h12M607.0 177.4v12M602.7 179.2l8.48 8.48M602.7 187.7l8.48 -8.48M602.6 183.4h12M608.6 177.4v12M604.4 179.2l8.48 8.48M604.4 187.7l8.48 -8.48M604.2 183.4h12M610.2 177.4v12M606.0 179.2l8.48 8.48M606.0 187.7l8.48 -8.48M605.8 183.4h12M611.8 177.4v12M607.6 179.2l8.48 8.48M607.6 187.7l8.48 -8.48M607.4 183.4h12M613.4 177.4v12M609.2 179.2l8.48 8.48M609.2 187.7l8.48 -8.48M609.0 183.4h12M615.0 177.4v12M610.8 179.2l8.48 8.48M610.8 187.7l8.48 -8.48M610.6 183.4h12M616.6 177.4v12M612.4 179.2l8.48 8.48M612.4 187.7l8.48 -8.48M612.3 183.4h12M618.3 177.4v12M614.0 179.2l8.48 8.48M614.0 187.7l8.48 -8.48M613.9 183.4h12M619.9 177.4v12M615.6 179.2l8.48 8.48M615.6 187.7l8.48 -8.48M615.5 183.4h12M621.5 177.4v12M617.2 179.2l8.48 8.48M617.2 187.7l8.48 -8.48M617.1 183.4h12M623.1 177.4v12M618.8 179.2l8.48 8.48M618.8 187.7l8.48 -8.48M618.7 183.4h12M624.7 177.4v12M620.5 179.2l8.48 8.48M620.5 187.7l8.48 -8.48M620.3 183.4h12M626.3 177.4v12M622.1 179.2l8.48 8.48M622.1 187.7l8.48 -8.48M98.4 175.3h12M104.4 169.3v12M100.2 171.0l8.48 8.48M100.2 179.5l8.48 -8.48M101.2 175.3h12M107.2 169.3v12M103.0 171.0l8.48 8.48M103.0 179.5l8.48 -8.48M104.0 175.3h12M110.0 169.3v12M105.8 171.0l8.48 8.48M105.8 179.5l8.48 -8.48M105.0 175.3h12M111.0 169.3v12M106.8 171.0l8.48 8.48M106.8 179.5l8.48 -8.48M106.6 175.3h12M112.6 169.3v12M108.3 171.0l8.48 8.48M108.3 179.5l8.48 -8.48M108.2 175.3h12M114.2 169.3v12M109.9 171.0l8.48 8.48M109.9 179.5l8.48 -8.48M109.8 175.3h12M115.8 169.3v12M111.5 171.0l8.48 8.48M111.5 179.5l8.48 -8.48M111.3 175.3h12M117.3 169.3v12M113.1 171.0l8.48 8.48M113.1 179.5l8.48 -8.48M112.9 175.3h12M118.9 169.3v12M114.7 171.0l8.48 8.48M114.7 179.5l8.48 -8.48M114.5 175.3h12M120.5 169.3v12M116.3 171.0l8.48 8.48M116.3 179.5l8.48 -8.48M116.1 175.3h12M122.1 169.3v12M117.8 171.0l8.48 8.48M117.8 179.5l8.48 -8.48M117.7 175.3h12M123.7 169.3v12M119.4 171.0l8.48 8.48M119.4 179.5l8.48 -8.48M119.2 175.3h12M125.2 169.3v12M121.0 171.0l8.48 8.48M121.0 179.5l8.48 -8.48M120.8 175.3h12M126.8 169.3v12M122.6 171.0l8.48 8.48M122.6 179.5l8.48 -8.48M122.4 175.3h12M128.4 169.3v12M124.2 171.0l8.48 8.48M124.2 179.5l8.48 -8.48M124.0 175.3h12M130.0 169.3v12M125.8 171.0l8.48 8.48M125.8 179.5l8.48 -8.48M125.6 175.3h12M131.6 169.3v12M127.3 171.0l8.48 8.48M127.3 179.5l8.48 -8.48M127.2 175.3h12M133.2 169.3v12M128.9 171.0l8.48 8.48M128.9 179.5l8.48 -8.48M128.8 175.3h12M134.8 169.3v12M130.5 171.0l8.48 8.48M130.5 179.5l8.48 -8.48M130.3 175.3h12M136.3 169.3v12M132.1 171.0l8.48 8.48M132.1 179.5l8.48 -8.48M131.9 175.3h12M137.9 169.3v12M133.7 171.0l8.48 8.48M133.7 179.5l8.48 -8.48M133.5 175.3h12M139.5 169.3v12M135.3 171.0l8.48 8.48M135.3 179.5l8.48 -8.48M135.1 175.3h12M141.1 169.3v12M136.8 171.0l8.48 8.48M136.8 179.5l8.48 -8.48M136.7 175.3h12M142.7 169.3v12M138.4 171.0l8.48 8.48M138.4 179.5l8.48 -8.48M138.2 175.3h12M144.2 169.3v12M140.0 171.0l8.48 8.48M140.0 179.5l8.48 -8.48M139.8 175.3h12M145.8 169.3v12M141.6 171.0l8.48 8.48M141.6 179.5l8.48 -8.48M141.4 175.3h12M147.4 169.3v12M143.2 171.0l8.48 8.48M143.2 179.5l8.48 -8.48M143.0 175.3h12M149.0 169.3v12M144.8 171.0l8.48 8.48M144.8 179.5l8.48 -8.48M144.5 175.3h12M150.5 169.3v12M146.3 171.0l8.48 8.48M146.3 179.5l8.48 -8.48M299.8 175.3h12M305.8 169.3v12M301.6 171.0l8.48 8.48M301.6 179.5l8.48 -8.48M301.4 175.3h12M307.4 169.3v12M303.2 171.0l8.48 8.48M303.2 179.5l8.48 -8.48M303.1 175.3h12M309.1 169.3v12M304.8 171.0l8.48 8.48M304.8 179.5l8.48 -8.48M304.7 175.3h12M310.7 169.3v12M306.5 171.0l8.48 8.48M306.5 179.5l8.48 -8.48M306.3 175.3h12M312.3 169.3v12M308.1 171.0l8.48 8.48M308.1 179.5l8.48 -8.48M308.0 175.3h12M314.0 169.3v12M309.7 171.0l8.48 8.48M309.7 179.5l8.48 -8.48M309.6 175.3h12M315.6 169.3v12M311.4 171.0l8.48 8.48M311.4 179.5l8.48 -8.48M311.2 175.3h12M317.2 169.3v12M313.0 171.0l8.48 8.48M313.0 179.5l8.48 -8.48M312.9 175.3h12M318.9 169.3v12M314.6 171.0l8.48 8.48M314.6 179.5l8.48 -8.48M314.5 175.3h12M320.5 169.3v12M316.3 171.0l8.48 8.48M316.3 179.5l8.48 -8.48M319.0 175.3h12M325.0 169.3v12M320.8 171.0l8.48 8.48M320.8 179.5l8.48 -8.48M406.0 175.3h12M412.0 169.3v12M407.8 171.0l8.48 8.48M407.8 179.5l8.48 -8.48M407.7 175.3h12M413.7 169.3v12M409.4 171.0l8.48 8.48M409.4 179.5l8.48 -8.48M409.4 175.3h12M415.4 169.3v12M411.1 171.0l8.48 8.48M411.1 179.5l8.48 -8.48M411.0 175.3h12M417.0 169.3v12M412.8 171.0l8.48 8.48M412.8 179.5l8.48 -8.48M412.7 175.3h12M418.7 169.3v12M414.5 171.0l8.48 8.48M414.5 179.5l8.48 -8.48M424.5 175.3h12M430.5 169.3v12M426.3 171.0l8.48 8.48M426.3 179.5l8.48 -8.48M568.8 175.3h12M574.8 169.3v12M570.6 171.0l8.48 8.48M570.6 179.5l8.48 -8.48M576.0 175.3h12M582.0 169.3v12M577.8 171.0l8.48 8.48M577.8 179.5l8.48 -8.48M577.6 175.3h12M583.6 169.3v12M579.4 171.0l8.48 8.48M579.4 179.5l8.48 -8.48M579.2 175.3h12M585.2 169.3v12M581.0 171.0l8.48 8.48M581.0 179.5l8.48 -8.48M580.9 175.3h12M586.9 169.3v12M582.6 171.0l8.48 8.48M582.6 179.5l8.48 -8.48M582.5 175.3h12M588.5 169.3v12M584.2 171.0l8.48 8.48M584.2 179.5l8.48 -8.48M584.1 175.3h12M590.1 169.3v12M585.8 171.0l8.48 8.48M585.8 179.5l8.48 -8.48M585.7 175.3h12M591.7 169.3v12M587.5 171.0l8.48 8.48M587.5 179.5l8.48 -8.48M587.3 175.3h12M593.3 169.3v12M589.1 171.0l8.48 8.48M589.1 179.5l8.48 -8.48M588.9 175.3h12M594.9 169.3v12M590.7 171.0l8.48 8.48M590.7 179.5l8.48 -8.48M590.6 175.3h12M596.6 169.3v12M592.3 171.0l8.48 8.48M592.3 179.5l8.48 -8.48M592.2 175.3h12M598.2 169.3v12M593.9 171.0l8.48 8.48M593.9 179.5l8.48 -8.48M593.8 175.3h12M599.8 169.3v12M595.6 171.0l8.48 8.48M595.6 179.5l8.48 -8.48M595.4 175.3h12M601.4 169.3v12M597.2 171.0l8.48 8.48M597.2 179.5l8.48 -8.48M597.0 175.3h12M603.0 169.3v12M598.8 171.0l8.48 8.48M598.8 179.5l8.48 -8.48M598.6 175.3h12M604.6 169.3v12M600.4 171.0l8.48 8.48M600.4 179.5l8.48 -8.48M600.3 175.3h12M606.3 169.3v12M602.0 171.0l8.48 8.48M602.0 179.5l8.48 -8.48M601.9 175.3h12M607.9 169.3v12M603.6 171.0l8.48 8.48M603.6 179.5l8.48 -8.48M603.5 175.3h12M609.5 169.3v12M605.3 171.0l8.48 8.48M605.3 179.5l8.48 -8.48M605.1 175.3h12M611.1 169.3v12M606.9 171.0l8.48 8.48M606.9 179.5l8.48 -8.48M606.7 175.3h12M612.7 169.3v12M608.5 171.0l8.48 8.48M608.5 179.5l8.48 -8.48M608.3 175.3h12M614.3 169.3v12M610.1 171.0l8.48 8.48M610.1 179.5l8.48 -8.48M610.0 175.3h12M616.0 169.3v12M611.7 171.0l8.48 8.48M611.7 179.5l8.48 -8.48M611.6 175.3h12M617.6 169.3v12M613.3 171.0l8.48 8.48M613.3 179.5l8.48 -8.48M613.2 175.3h12M619.2 169.3v12M615.0 171.0l8.48 8.48M615.0 179.5l8.48 -8.48M98.4 167.1h12M104.4 161.1v12M100.2 162.9l8.48 8.48M100.2 171.3l8.48 -8.48M101.3 167.1h12M107.3 161.1v12M103.1 162.9l8.48 8.48M103.1 171.3l8.48 -8.48M104.2 167.1h12M110.2 161.1v12M106.0 162.9l8.48 8.48M106.0 171.3l8.48 -8.48M107.1 167.1h12M113.1 161.1v12M108.9 162.9l8.48 8.48M108.9 171.3l8.48 -8.48M110.0 167.1h12M116.0 161.1v12M111.8 162.9l8.48 8.48M111.8 171.3l8.48 -8.48M112.0 167.1h12M118.0 161.1v12M113.8 162.9l8.48 8.48M113.8 171.3l8.48 -8.48M113.6 167.1h12M119.6 161.1v12M115.3 162.9l8.48 8.48M115.3 171.3l8.48 -8.48M115.2 167.1h12M121.2 161.1v12M116.9 162.9l8.48 8.48M116.9 171.3l8.48 -8.48M116.7 167.1h12M122.7 161.1v12M118.5 162.9l8.48 8.48M118.5 171.3l8.48 -8.48M118.3 167.1h12M124.3 161.1v12M120.1 162.9l8.48 8.48M120.1 171.3l8.48 -8.48M119.9 167.1h12M125.9 161.1v12M121.7 162.9l8.48 8.48M121.7 171.3l8.48 -8.48M121.5 167.1h12M127.5 161.1v12M123.2 162.9l8.48 8.48M123.2 171.3l8.48 -8.48M123.1 167.1h12M129.1 161.1v12M124.8 162.9l8.48 8.48M124.8 171.3l8.48 -8.48M124.6 167.1h12M130.6 161.1v12M126.4 162.9l8.48 8.48M126.4 171.3l8.48 -8.48M126.2 167.1h12M132.2 161.1v12M128.0 162.9l8.48 8.48M128.0 171.3l8.48 -8.48M127.8 167.1h12M133.8 161.1v12M129.6 162.9l8.48 8.48M129.6 171.3l8.48 -8.48M129.4 167.1h12M135.4 161.1v12M131.1 162.9l8.48 8.48M131.1 171.3l8.48 -8.48M131.0 167.1h12M137.0 161.1v12M132.7 162.9l8.48 8.48M132.7 171.3l8.48 -8.48M132.5 167.1h12M138.5 161.1v12M134.3 162.9l8.48 8.48M134.3 171.3l8.48 -8.48M134.1 167.1h12M140.1 161.1v12M135.9 162.9l8.48 8.48M135.9 171.3l8.48 -8.48M135.7 167.1h12M141.7 161.1v12M137.5 162.9l8.48 8.48M137.5 171.3l8.48 -8.48M139.5 167.1h12M145.5 161.1v12M141.3 162.9l8.48 8.48M141.3 171.3l8.48 -8.48M299.8 167.1h12M305.8 161.1v12M301.6 162.9l8.48 8.48M301.6 171.3l8.48 -8.48M301.5 167.1h12M307.5 161.1v12M303.2 162.9l8.48 8.48M303.2 171.3l8.48 -8.48M303.1 167.1h12M309.1 161.1v12M304.9 162.9l8.48 8.48M304.9 171.3l8.48 -8.48M304.8 167.1h12M310.8 161.1v12M306.5 162.9l8.48 8.48M306.5 171.3l8.48 -8.48M306.4 167.1h12M312.4 161.1v12M308.2 162.9l8.48 8.48M308.2 171.3l8.48 -8.48M308.1 167.1h12M314.1 161.1v12M309.8 162.9l8.48 8.48M309.8 171.3l8.48 -8.48M309.7 167.1h12M315.7 161.1v12M311.5 162.9l8.48 8.48M311.5 171.3l8.48 -8.48M311.4 167.1h12M317.4 161.1v12M313.1 162.9l8.48 8.48M313.1 171.3l8.48 -8.48M313.0 167.1h12M319.0 161.1v12M314.8 162.9l8.48 8.48M314.8 171.3l8.48 -8.48M314.7 167.1h12M320.7 161.1v12M316.5 162.9l8.48 8.48M316.5 171.3l8.48 -8.48M316.3 167.1h12M322.3 161.1v12M318.1 162.9l8.48 8.48M318.1 171.3l8.48 -8.48M318.0 167.1h12M324.0 161.1v12M319.8 162.9l8.48 8.48M319.8 171.3l8.48 -8.48M323.5 167.1h12M329.5 161.1v12M325.3 162.9l8.48 8.48M325.3 171.3l8.48 -8.48M328.5 167.1h12M334.5 161.1v12M330.3 162.9l8.48 8.48M330.3 171.3l8.48 -8.48M404.0 167.1h12M410.0 161.1v12M405.8 162.9l8.48 8.48M405.8 171.3l8.48 -8.48M405.6 167.1h12M411.6 161.1v12M407.4 162.9l8.48 8.48M407.4 171.3l8.48 -8.48M407.2 167.1h12M413.2 161.1v12M409.0 162.9l8.48 8.48M409.0 171.3l8.48 -8.48M408.8 167.1h12M414.8 161.1v12M410.6 162.9l8.48 8.48M410.6 171.3l8.48 -8.48M410.4 167.1h12M416.4 161.1v12M412.2 162.9l8.48 8.48M412.2 171.3l8.48 -8.48M412.0 167.1h12M418.0 161.1v12M413.8 162.9l8.48 8.48M413.8 171.3l8.48 -8.48M424.5 167.1h12M430.5 161.1v12M426.3 162.9l8.48 8.48M426.3 171.3l8.48 -8.48M578.0 167.1h12M584.0 161.1v12M579.8 162.9l8.48 8.48M579.8 171.3l8.48 -8.48M579.6 167.1h12M585.6 161.1v12M581.3 162.9l8.48 8.48M581.3 171.3l8.48 -8.48M581.2 167.1h12M587.2 161.1v12M582.9 162.9l8.48 8.48M582.9 171.3l8.48 -8.48M582.7 167.1h12M588.7 161.1v12M584.5 162.9l8.48 8.48M584.5 171.3l8.48 -8.48M584.3 167.1h12M590.3 161.1v12M586.1 162.9l8.48 8.48M586.1 171.3l8.48 -8.48M585.9 167.1h12M591.9 161.1v12M587.7 162.9l8.48 8.48M587.7 171.3l8.48 -8.48M587.5 167.1h12M593.5 161.1v12M589.3 162.9l8.48 8.48M589.3 171.3l8.48 -8.48M589.1 167.1h12M595.1 161.1v12M590.8 162.9l8.48 8.48M590.8 171.3l8.48 -8.48M590.7 167.1h12M596.7 161.1v12M592.4 162.9l8.48 8.48M592.4 171.3l8.48 -8.48M592.2 167.1h12M598.2 161.1v12M594.0 162.9l8.48 8.48M594.0 171.3l8.48 -8.48M593.8 167.1h12M599.8 161.1v12M595.6 162.9l8.48 8.48M595.6 171.3l8.48 -8.48M595.4 167.1h12M601.4 161.1v12M597.2 162.9l8.48 8.48M597.2 171.3l8.48 -8.48M597.0 167.1h12M603.0 161.1v12M598.7 162.9l8.48 8.48M598.7 171.3l8.48 -8.48M598.6 167.1h12M604.6 161.1v12M600.3 162.9l8.48 8.48M600.3 171.3l8.48 -8.48M600.1 167.1h12M606.1 161.1v12M601.9 162.9l8.48 8.48M601.9 171.3l8.48 -8.48M601.7 167.1h12M607.7 161.1v12M603.5 162.9l8.48 8.48M603.5 171.3l8.48 -8.48M603.3 167.1h12M609.3 161.1v12M605.1 162.9l8.48 8.48M605.1 171.3l8.48 -8.48M604.9 167.1h12M610.9 161.1v12M606.7 162.9l8.48 8.48M606.7 171.3l8.48 -8.48M606.5 167.1h12M612.5 161.1v12M608.2 162.9l8.48 8.48M608.2 171.3l8.48 -8.48M608.1 167.1h12M614.1 161.1v12M609.8 162.9l8.48 8.48M609.8 171.3l8.48 -8.48M609.6 167.1h12M615.6 161.1v12M611.4 162.9l8.48 8.48M611.4 171.3l8.48 -8.48M611.2 167.1h12M617.2 161.1v12M613.0 162.9l8.48 8.48M613.0 171.3l8.48 -8.48M612.8 167.1h12M618.8 161.1v12M614.6 162.9l8.48 8.48M614.6 171.3l8.48 -8.48M110.6 158.9h12M116.6 152.9v12M112.4 154.7l8.48 8.48M112.4 163.2l8.48 -8.48M116.8 158.9h12M122.8 152.9v12M118.6 154.7l8.48 8.48M118.6 163.2l8.48 -8.48M125.0 158.9h12M131.0 152.9v12M126.8 154.7l8.48 8.48M126.8 163.2l8.48 -8.48M126.5 158.9h12M132.5 152.9v12M128.3 154.7l8.48 8.48M128.3 163.2l8.48 -8.48M128.0 158.9h12M134.0 152.9v12M129.8 154.7l8.48 8.48M129.8 163.2l8.48 -8.48M129.5 158.9h12M135.5 152.9v12M131.3 154.7l8.48 8.48M131.3 163.2l8.48 -8.48M131.0 158.9h12M137.0 152.9v12M132.8 154.7l8.48 8.48M132.8 163.2l8.48 -8.48M137.8 158.9h12M143.8 152.9v12M139.6 154.7l8.48 8.48M139.6 163.2l8.48 -8.48M300.5 158.9h12M306.5 152.9v12M302.3 154.7l8.48 8.48M302.3 163.2l8.48 -8.48M302.2 158.9h12M308.2 152.9v12M303.9 154.7l8.48 8.48M303.9 163.2l8.48 -8.48M303.8 158.9h12M309.8 152.9v12M305.6 154.7l8.48 8.48M305.6 163.2l8.48 -8.48M305.5 158.9h12M311.5 152.9v12M307.3 154.7l8.48 8.48M307.3 163.2l8.48 -8.48M307.2 158.9h12M313.2 152.9v12M308.9 154.7l8.48 8.48M308.9 163.2l8.48 -8.48M308.8 158.9h12M314.8 152.9v12M310.6 154.7l8.48 8.48M310.6 163.2l8.48 -8.48M310.5 158.9h12M316.5 152.9v12M312.3 154.7l8.48 8.48M312.3 163.2l8.48 -8.48M312.2 158.9h12M318.2 152.9v12M313.9 154.7l8.48 8.48M313.9 163.2l8.48 -8.48M313.8 158.9h12M319.8 152.9v12M315.6 154.7l8.48 8.48M315.6 163.2l8.48 -8.48M315.5 158.9h12M321.5 152.9v12M317.3 154.7l8.48 8.48M317.3 163.2l8.48 -8.48M317.2 158.9h12M323.2 152.9v12M318.9 154.7l8.48 8.48M318.9 163.2l8.48 -8.48M318.8 158.9h12M324.8 152.9v12M320.6 154.7l8.48 8.48M320.6 163.2l8.48 -8.48M320.5 158.9h12M326.5 152.9v12M322.3 154.7l8.48 8.48M322.3 163.2l8.48 -8.48M326.0 158.9h12M332.0 152.9v12M327.8 154.7l8.48 8.48M327.8 163.2l8.48 -8.48M329.5 158.9h12M335.5 152.9v12M331.3 154.7l8.48 8.48M331.3 163.2l8.48 -8.48M333.7 158.9h12M339.7 152.9v12M335.5 154.7l8.48 8.48M335.5 163.2l8.48 -8.48M402.0 158.9h12M408.0 152.9v12M403.8 154.7l8.48 8.48M403.8 163.2l8.48 -8.48M403.6 158.9h12M409.6 152.9v12M405.4 154.7l8.48 8.48M405.4 163.2l8.48 -8.48M405.2 158.9h12M411.2 152.9v12M407.0 154.7l8.48 8.48M407.0 163.2l8.48 -8.48M406.9 158.9h12M412.9 152.9v12M408.6 154.7l8.48 8.48M408.6 163.2l8.48 -8.48M408.5 158.9h12M414.5 152.9v12M410.2 154.7l8.48 8.48M410.2 163.2l8.48 -8.48M410.1 158.9h12M416.1 152.9v12M411.8 154.7l8.48 8.48M411.8 163.2l8.48 -8.48M411.7 158.9h12M417.7 152.9v12M413.5 154.7l8.48 8.48M413.5 163.2l8.48 -8.48M424.5 158.9h12M430.5 152.9v12M426.3 154.7l8.48 8.48M426.3 163.2l8.48 -8.48M584.0 158.9h12M590.0 152.9v12M585.8 154.7l8.48 8.48M585.8 163.2l8.48 -8.48M585.6 158.9h12M591.6 152.9v12M587.4 154.7l8.48 8.48M587.4 163.2l8.48 -8.48M587.2 158.9h12M593.2 152.9v12M589.0 154.7l8.48 8.48M589.0 163.2l8.48 -8.48M588.9 158.9h12M594.9 152.9v12M590.6 154.7l8.48 8.48M590.6 163.2l8.48 -8.48M590.5 158.9h12M596.5 152.9v12M592.3 154.7l8.48 8.48M592.3 163.2l8.48 -8.48M592.1 158.9h12M598.1 152.9v12M593.9 154.7l8.48 8.48M593.9 163.2l8.48 -8.48M593.8 158.9h12M599.8 152.9v12M595.5 154.7l8.48 8.48M595.5 163.2l8.48 -8.48M595.4 158.9h12M601.4 152.9v12M597.1 154.7l8.48 8.48M597.1 163.2l8.48 -8.48M597.0 158.9h12M603.0 152.9v12M598.8 154.7l8.48 8.48M598.8 163.2l8.48 -8.48M600.0 158.9h12M606.0 152.9v12M601.8 154.7l8.48 8.48M601.8 163.2l8.48 -8.48M602.8 158.9h12M608.8 152.9v12M604.6 154.7l8.48 8.48M604.6 163.2l8.48 -8.48M605.6 158.9h12M611.6 152.9v12M607.4 154.7l8.48 8.48M607.4 163.2l8.48 -8.48M608.5 158.9h12M614.5 152.9v12M610.2 154.7l8.48 8.48M610.2 163.2l8.48 -8.48M611.3 158.9h12M617.3 152.9v12M613.1 154.7l8.48 8.48M613.1 163.2l8.48 -8.48M116.8 150.8h12M122.8 144.8v12M118.6 146.5l8.48 8.48M118.6 155.0l8.48 -8.48M127.8 150.8h12M133.8 144.8v12M129.6 146.5l8.48 8.48M129.6 155.0l8.48 -8.48M130.5 150.8h12M136.5 144.8v12M132.3 146.5l8.48 8.48M132.3 155.0l8.48 -8.48M308.0 150.8h12M314.0 144.8v12M309.8 146.5l8.48 8.48M309.8 155.0l8.48 -8.48M309.6 150.8h12M315.6 144.8v12M311.4 146.5l8.48 8.48M311.4 155.0l8.48 -8.48M311.2 150.8h12M317.2 144.8v12M313.0 146.5l8.48 8.48M313.0 155.0l8.48 -8.48M312.8 150.8h12M318.8 144.8v12M314.6 146.5l8.48 8.48M314.6 155.0l8.48 -8.48M314.4 150.8h12M320.4 144.8v12M316.2 146.5l8.48 8.48M316.2 155.0l8.48 -8.48M316.1 150.8h12M322.1 144.8v12M317.8 146.5l8.48 8.48M317.8 155.0l8.48 -8.48M317.7 150.8h12M323.7 144.8v12M319.4 146.5l8.48 8.48M319.4 155.0l8.48 -8.48M319.3 150.8h12M325.3 144.8v12M321.0 146.5l8.48 8.48M321.0 155.0l8.48 -8.48M320.9 150.8h12M326.9 144.8v12M322.6 146.5l8.48 8.48M322.6 155.0l8.48 -8.48M322.5 150.8h12M328.5 144.8v12M324.3 146.5l8.48 8.48M324.3 155.0l8.48 -8.48M328.0 150.8h12M334.0 144.8v12M329.8 146.5l8.48 8.48M329.8 155.0l8.48 -8.48M332.0 150.8h12M338.0 144.8v12M333.8 146.5l8.48 8.48M333.8 155.0l8.48 -8.48M336.0 150.8h12M342.0 144.8v12M337.8 146.5l8.48 8.48M337.8 155.0l8.48 -8.48M398.5 150.8h12M404.5 144.8v12M400.3 146.5l8.48 8.48M400.3 155.0l8.48 -8.48M400.1 150.8h12M406.1 144.8v12M401.9 146.5l8.48 8.48M401.9 155.0l8.48 -8.48M401.8 150.8h12M407.8 144.8v12M403.6 146.5l8.48 8.48M403.6 155.0l8.48 -8.48M403.4 150.8h12M409.4 144.8v12M405.2 146.5l8.48 8.48M405.2 155.0l8.48 -8.48M405.1 150.8h12M411.1 144.8v12M406.9 146.5l8.48 8.48M406.9 155.0l8.48 -8.48M406.8 150.8h12M412.8 144.8v12M408.5 146.5l8.48 8.48M408.5 155.0l8.48 -8.48M408.4 150.8h12M414.4 144.8v12M410.2 146.5l8.48 8.48M410.2 155.0l8.48 -8.48M410.1 150.8h12M416.1 144.8v12M411.8 146.5l8.48 8.48M411.8 155.0l8.48 -8.48M411.7 150.8h12M417.7 144.8v12M413.5 146.5l8.48 8.48M413.5 155.0l8.48 -8.48M589.0 150.8h12M595.0 144.8v12M590.8 146.5l8.48 8.48M590.8 155.0l8.48 -8.48M590.5 150.8h12M596.5 144.8v12M592.3 146.5l8.48 8.48M592.3 155.0l8.48 -8.48M592.0 150.8h12M598.0 144.8v12M593.8 146.5l8.48 8.48M593.8 155.0l8.48 -8.48M593.5 150.8h12M599.5 144.8v12M595.3 146.5l8.48 8.48M595.3 155.0l8.48 -8.48M316.0 142.6h12M322.0 136.6v12M317.8 138.4l8.48 8.48M317.8 146.9l8.48 -8.48M317.5 142.6h12M323.5 136.6v12M319.3 138.4l8.48 8.48M319.3 146.9l8.48 -8.48M319.0 142.6h12M325.0 136.6v12M320.8 138.4l8.48 8.48M320.8 146.9l8.48 -8.48M320.5 142.6h12M326.5 136.6v12M322.3 138.4l8.48 8.48M322.3 146.9l8.48 -8.48M322.0 142.6h12M328.0 136.6v12M323.8 138.4l8.48 8.48M323.8 146.9l8.48 -8.48M323.5 142.6h12M329.5 136.6v12M325.3 138.4l8.48 8.48M325.3 146.9l8.48 -8.48M325.0 142.6h12M331.0 136.6v12M326.8 138.4l8.48 8.48M326.8 146.9l8.48 -8.48M326.5 142.6h12M332.5 136.6v12M328.3 138.4l8.48 8.48M328.3 146.9l8.48 -8.48M328.0 142.6h12M334.0 136.6v12M329.8 138.4l8.48 8.48M329.8 146.9l8.48 -8.48M334.5 142.6h12M340.5 136.6v12M336.3 138.4l8.48 8.48M336.3 146.9l8.48 -8.48M397.0 142.6h12M403.0 136.6v12M398.8 138.4l8.48 8.48M398.8 146.9l8.48 -8.48M398.6 142.6h12M404.6 136.6v12M400.3 138.4l8.48 8.48M400.3 146.9l8.48 -8.48M400.1 142.6h12M406.1 136.6v12M401.9 138.4l8.48 8.48M401.9 146.9l8.48 -8.48M401.7 142.6h12M407.7 136.6v12M403.4 138.4l8.48 8.48M403.4 146.9l8.48 -8.48M403.2 142.6h12M409.2 136.6v12M405.0 138.4l8.48 8.48M405.0 146.9l8.48 -8.48M404.8 142.6h12M410.8 136.6v12M406.5 138.4l8.48 8.48M406.5 146.9l8.48 -8.48M406.3 142.6h12M412.3 136.6v12M408.1 138.4l8.48 8.48M408.1 146.9l8.48 -8.48M407.9 142.6h12M413.9 136.6v12M409.6 138.4l8.48 8.48M409.6 146.9l8.48 -8.48M409.4 142.6h12M415.4 136.6v12M411.2 138.4l8.48 8.48M411.2 146.9l8.48 -8.48M411.0 142.6h12M417.0 136.6v12M412.8 138.4l8.48 8.48M412.8 146.9l8.48 -8.48M320.5 134.5h12M326.5 128.5v12M322.3 130.2l8.48 8.48M322.3 138.7l8.48 -8.48M322.2 134.5h12M328.2 128.5v12M323.9 130.2l8.48 8.48M323.9 138.7l8.48 -8.48M323.9 134.5h12M329.9 128.5v12M325.6 130.2l8.48 8.48M325.6 138.7l8.48 -8.48M325.6 134.5h12M331.6 128.5v12M327.3 130.2l8.48 8.48M327.3 138.7l8.48 -8.48M327.2 134.5h12M333.2 128.5v12M329.0 130.2l8.48 8.48M329.0 138.7l8.48 -8.48M328.9 134.5h12M334.9 128.5v12M330.7 130.2l8.48 8.48M330.7 138.7l8.48 -8.48M330.6 134.5h12M336.6 128.5v12M332.4 130.2l8.48 8.48M332.4 138.7l8.48 -8.48M332.3 134.5h12M338.3 128.5v12M334.1 130.2l8.48 8.48M334.1 138.7l8.48 -8.48M334.0 134.5h12M340.0 128.5v12M335.8 130.2l8.48 8.48M335.8 138.7l8.48 -8.48M341.0 134.5h12M347.0 128.5v12M342.8 130.2l8.48 8.48M342.8 138.7l8.48 -8.48M351.0 134.5h12M357.0 128.5v12M352.8 130.2l8.48 8.48M352.8 138.7l8.48 -8.48M359.0 134.5h12M365.0 128.5v12M360.8 130.2l8.48 8.48M360.8 138.7l8.48 -8.48M366.0 134.5h12M372.0 128.5v12M367.8 130.2l8.48 8.48M367.8 138.7l8.48 -8.48M378.0 134.5h12M384.0 128.5v12M379.8 130.2l8.48 8.48M379.8 138.7l8.48 -8.48M384.0 134.5h12M390.0 128.5v12M385.8 130.2l8.48 8.48M385.8 138.7l8.48 -8.48M388.0 134.5h12M394.0 128.5v12M389.8 130.2l8.48 8.48M389.8 138.7l8.48 -8.48M393.0 134.5h12M399.0 128.5v12M394.8 130.2l8.48 8.48M394.8 138.7l8.48 -8.48M394.7 134.5h12M400.7 128.5v12M396.4 130.2l8.48 8.48M396.4 138.7l8.48 -8.48M396.4 134.5h12M402.4 128.5v12M398.1 130.2l8.48 8.48M398.1 138.7l8.48 -8.48M398.1 134.5h12M404.1 128.5v12M399.8 130.2l8.48 8.48M399.8 138.7l8.48 -8.48M399.8 134.5h12M405.8 128.5v12M401.5 130.2l8.48 8.48M401.5 138.7l8.48 -8.48M401.4 134.5h12M407.4 128.5v12M403.2 130.2l8.48 8.48M403.2 138.7l8.48 -8.48M403.1 134.5h12M409.1 128.5v12M404.9 130.2l8.48 8.48M404.9 138.7l8.48 -8.48M404.8 134.5h12M410.8 128.5v12M406.6 130.2l8.48 8.48M406.6 138.7l8.48 -8.48M406.5 134.5h12M412.5 128.5v12M408.3 130.2l8.48 8.48M408.3 138.7l8.48 -8.48M324.5 126.3h12M330.5 120.3v12M326.3 122.1l8.48 8.48M326.3 130.5l8.48 -8.48M326.1 126.3h12M332.1 120.3v12M327.9 122.1l8.48 8.48M327.9 130.5l8.48 -8.48M327.7 126.3h12M333.7 120.3v12M329.5 122.1l8.48 8.48M329.5 130.5l8.48 -8.48M329.3 126.3h12M335.3 120.3v12M331.1 122.1l8.48 8.48M331.1 130.5l8.48 -8.48M330.9 126.3h12M336.9 120.3v12M332.7 122.1l8.48 8.48M332.7 130.5l8.48 -8.48M332.5 126.3h12M338.5 120.3v12M334.3 122.1l8.48 8.48M334.3 130.5l8.48 -8.48M334.1 126.3h12M340.1 120.3v12M335.9 122.1l8.48 8.48M335.9 130.5l8.48 -8.48M335.7 126.3h12M341.7 120.3v12M337.5 122.1l8.48 8.48M337.5 130.5l8.48 -8.48M337.4 126.3h12M343.4 120.3v12M339.1 122.1l8.48 8.48M339.1 130.5l8.48 -8.48M339.0 126.3h12M345.0 120.3v12M340.7 122.1l8.48 8.48M340.7 130.5l8.48 -8.48M340.6 126.3h12M346.6 120.3v12M342.3 122.1l8.48 8.48M342.3 130.5l8.48 -8.48M342.2 126.3h12M348.2 120.3v12M343.9 122.1l8.48 8.48M343.9 130.5l8.48 -8.48M343.8 126.3h12M349.8 120.3v12M345.5 122.1l8.48 8.48M345.5 130.5l8.48 -8.48M345.4 126.3h12M351.4 120.3v12M347.1 122.1l8.48 8.48M347.1 130.5l8.48 -8.48M347.0 126.3h12M353.0 120.3v12M348.7 122.1l8.48 8.48M348.7 130.5l8.48 -8.48M348.6 126.3h12M354.6 120.3v12M350.4 122.1l8.48 8.48M350.4 130.5l8.48 -8.48M350.2 126.3h12M356.2 120.3v12M352.0 122.1l8.48 8.48M352.0 130.5l8.48 -8.48M351.8 126.3h12M357.8 120.3v12M353.6 122.1l8.48 8.48M353.6 130.5l8.48 -8.48M353.4 126.3h12M359.4 120.3v12M355.2 122.1l8.48 8.48M355.2 130.5l8.48 -8.48M355.0 126.3h12M361.0 120.3v12M356.8 122.1l8.48 8.48M356.8 130.5l8.48 -8.48M356.6 126.3h12M362.6 120.3v12M358.4 122.1l8.48 8.48M358.4 130.5l8.48 -8.48M358.2 126.3h12M364.2 120.3v12M360.0 122.1l8.48 8.48M360.0 130.5l8.48 -8.48M359.8 126.3h12M365.8 120.3v12M361.6 122.1l8.48 8.48M361.6 130.5l8.48 -8.48M361.4 126.3h12M367.4 120.3v12M363.2 122.1l8.48 8.48M363.2 130.5l8.48 -8.48M363.1 126.3h12M369.1 120.3v12M364.8 122.1l8.48 8.48M364.8 130.5l8.48 -8.48M364.7 126.3h12M370.7 120.3v12M366.4 122.1l8.48 8.48M366.4 130.5l8.48 -8.48M366.3 126.3h12M372.3 120.3v12M368.0 122.1l8.48 8.48M368.0 130.5l8.48 -8.48M367.9 126.3h12M373.9 120.3v12M369.6 122.1l8.48 8.48M369.6 130.5l8.48 -8.48M369.5 126.3h12M375.5 120.3v12M371.2 122.1l8.48 8.48M371.2 130.5l8.48 -8.48M371.1 126.3h12M377.1 120.3v12M372.8 122.1l8.48 8.48M372.8 130.5l8.48 -8.48M372.7 126.3h12M378.7 120.3v12M374.5 122.1l8.48 8.48M374.5 130.5l8.48 -8.48M374.3 126.3h12M380.3 120.3v12M376.1 122.1l8.48 8.48M376.1 130.5l8.48 -8.48M375.9 126.3h12M381.9 120.3v12M377.7 122.1l8.48 8.48M377.7 130.5l8.48 -8.48M377.5 126.3h12M383.5 120.3v12M379.3 122.1l8.48 8.48M379.3 130.5l8.48 -8.48M379.1 126.3h12M385.1 120.3v12M380.9 122.1l8.48 8.48M380.9 130.5l8.48 -8.48M380.7 126.3h12M386.7 120.3v12M382.5 122.1l8.48 8.48M382.5 130.5l8.48 -8.48M382.3 126.3h12M388.3 120.3v12M384.1 122.1l8.48 8.48M384.1 130.5l8.48 -8.48M383.9 126.3h12M389.9 120.3v12M385.7 122.1l8.48 8.48M385.7 130.5l8.48 -8.48M385.5 126.3h12M391.5 120.3v12M387.3 122.1l8.48 8.48M387.3 130.5l8.48 -8.48M387.1 126.3h12M393.1 120.3v12M388.9 122.1l8.48 8.48M388.9 130.5l8.48 -8.48M388.8 126.3h12M394.8 120.3v12M390.5 122.1l8.48 8.48M390.5 130.5l8.48 -8.48M390.4 126.3h12M396.4 120.3v12M392.1 122.1l8.48 8.48M392.1 130.5l8.48 -8.48M392.0 126.3h12M398.0 120.3v12M393.7 122.1l8.48 8.48M393.7 130.5l8.48 -8.48M393.6 126.3h12M399.6 120.3v12M395.3 122.1l8.48 8.48M395.3 130.5l8.48 -8.48M395.2 126.3h12M401.2 120.3v12M396.9 122.1l8.48 8.48M396.9 130.5l8.48 -8.48M396.8 126.3h12M402.8 120.3v12M398.5 122.1l8.48 8.48M398.5 130.5l8.48 -8.48M398.4 126.3h12M404.4 120.3v12M400.2 122.1l8.48 8.48M400.2 130.5l8.48 -8.48M400.0 126.3h12M406.0 120.3v12M401.8 122.1l8.48 8.48M401.8 130.5l8.48 -8.48M334.0 118.1h12M340.0 112.1v12M335.8 113.9l8.48 8.48M335.8 122.4l8.48 -8.48M335.6 118.1h12M341.6 112.1v12M337.4 113.9l8.48 8.48M337.4 122.4l8.48 -8.48M337.2 118.1h12M343.2 112.1v12M339.0 113.9l8.48 8.48M339.0 122.4l8.48 -8.48M338.8 118.1h12M344.8 112.1v12M340.6 113.9l8.48 8.48M340.6 122.4l8.48 -8.48M340.4 118.1h12M346.4 112.1v12M342.2 113.9l8.48 8.48M342.2 122.4l8.48 -8.48M342.0 118.1h12M348.0 112.1v12M343.8 113.9l8.48 8.48M343.8 122.4l8.48 -8.48M343.6 118.1h12M349.6 112.1v12M345.4 113.9l8.48 8.48M345.4 122.4l8.48 -8.48M345.2 118.1h12M351.2 112.1v12M347.0 113.9l8.48 8.48M347.0 122.4l8.48 -8.48M346.8 118.1h12M352.8 112.1v12M348.6 113.9l8.48 8.48M348.6 122.4l8.48 -8.48M348.4 118.1h12M354.4 112.1v12M350.2 113.9l8.48 8.48M350.2 122.4l8.48 -8.48M350.0 118.1h12M356.0 112.1v12M351.8 113.9l8.48 8.48M351.8 122.4l8.48 -8.48M351.6 118.1h12M357.6 112.1v12M353.4 113.9l8.48 8.48M353.4 122.4l8.48 -8.48M353.2 118.1h12M359.2 112.1v12M355.0 113.9l8.48 8.48M355.0 122.4l8.48 -8.48M354.8 118.1h12M360.8 112.1v12M356.6 113.9l8.48 8.48M356.6 122.4l8.48 -8.48M356.4 118.1h12M362.4 112.1v12M358.2 113.9l8.48 8.48M358.2 122.4l8.48 -8.48M358.0 118.1h12M364.0 112.1v12M359.8 113.9l8.48 8.48M359.8 122.4l8.48 -8.48M359.6 118.1h12M365.6 112.1v12M361.4 113.9l8.48 8.48M361.4 122.4l8.48 -8.48M361.2 118.1h12M367.2 112.1v12M363.0 113.9l8.48 8.48M363.0 122.4l8.48 -8.48M362.8 118.1h12M368.8 112.1v12M364.6 113.9l8.48 8.48M364.6 122.4l8.48 -8.48M364.4 118.1h12M370.4 112.1v12M366.2 113.9l8.48 8.48M366.2 122.4l8.48 -8.48M366.0 118.1h12M372.0 112.1v12M367.8 113.9l8.48 8.48M367.8 122.4l8.48 -8.48M367.6 118.1h12M373.6 112.1v12M369.4 113.9l8.48 8.48M369.4 122.4l8.48 -8.48M369.2 118.1h12M375.2 112.1v12M371.0 113.9l8.48 8.48M371.0 122.4l8.48 -8.48M370.8 118.1h12M376.8 112.1v12M372.6 113.9l8.48 8.48M372.6 122.4l8.48 -8.48M372.4 118.1h12M378.4 112.1v12M374.2 113.9l8.48 8.48M374.2 122.4l8.48 -8.48M374.0 118.1h12M380.0 112.1v12M375.8 113.9l8.48 8.48M375.8 122.4l8.48 -8.48M375.6 118.1h12M381.6 112.1v12M377.4 113.9l8.48 8.48M377.4 122.4l8.48 -8.48M377.2 118.1h12M383.2 112.1v12M379.0 113.9l8.48 8.48M379.0 122.4l8.48 -8.48M378.8 118.1h12M384.8 112.1v12M380.6 113.9l8.48 8.48M380.6 122.4l8.48 -8.48M380.4 118.1h12M386.4 112.1v12M382.2 113.9l8.48 8.48M382.2 122.4l8.48 -8.48M382.0 118.1h12M388.0 112.1v12M383.8 113.9l8.48 8.48M383.8 122.4l8.48 -8.48M383.6 118.1h12M389.6 112.1v12M385.4 113.9l8.48 8.48M385.4 122.4l8.48 -8.48M385.2 118.1h12M391.2 112.1v12M387.0 113.9l8.48 8.48M387.0 122.4l8.48 -8.48M386.8 118.1h12M392.8 112.1v12M388.6 113.9l8.48 8.48M388.6 122.4l8.48 -8.48M388.4 118.1h12M394.4 112.1v12M390.2 113.9l8.48 8.48M390.2 122.4l8.48 -8.48M390.0 118.1h12M396.0 112.1v12M391.8 113.9l8.48 8.48M391.8 122.4l8.48 -8.48M398.0 118.1h12M404.0 112.1v12M399.8 113.9l8.48 8.48M399.8 122.4l8.48 -8.48M347.5 110.0h12M353.5 104.0v12M349.3 105.7l8.48 8.48M349.3 114.2l8.48 -8.48M349.0 110.0h12M355.0 104.0v12M350.8 105.7l8.48 8.48M350.8 114.2l8.48 -8.48M350.5 110.0h12M356.5 104.0v12M352.3 105.7l8.48 8.48M352.3 114.2l8.48 -8.48M352.0 110.0h12M358.0 104.0v12M353.8 105.7l8.48 8.48M353.8 114.2l8.48 -8.48M353.5 110.0h12M359.5 104.0v12M355.3 105.7l8.48 8.48M355.3 114.2l8.48 -8.48M355.0 110.0h12M361.0 104.0v12M356.8 105.7l8.48 8.48M356.8 114.2l8.48 -8.48M356.5 110.0h12M362.5 104.0v12M358.3 105.7l8.48 8.48M358.3 114.2l8.48 -8.48M358.0 110.0h12M364.0 104.0v12M359.8 105.7l8.48 8.48M359.8 114.2l8.48 -8.48M363.0 110.0h12M369.0 104.0v12M364.8 105.7l8.48 8.48M364.8 114.2l8.48 -8.48M364.6 110.0h12M370.6 104.0v12M366.3 105.7l8.48 8.48M366.3 114.2l8.48 -8.48M366.1 110.0h12M372.1 104.0v12M367.9 105.7l8.48 8.48M367.9 114.2l8.48 -8.48M367.7 110.0h12M373.7 104.0v12M369.5 105.7l8.48 8.48M369.5 114.2l8.48 -8.48M369.3 110.0h12M375.3 104.0v12M371.0 105.7l8.48 8.48M371.0 114.2l8.48 -8.48M370.9 110.0h12M376.9 104.0v12M372.6 105.7l8.48 8.48M372.6 114.2l8.48 -8.48M372.4 110.0h12M378.4 104.0v12M374.2 105.7l8.48 8.48M374.2 114.2l8.48 -8.48M374.0 110.0h12M380.0 104.0v12M375.8 105.7l8.48 8.48M375.8 114.2l8.48 -8.48M375.6 110.0h12M381.6 104.0v12M377.3 105.7l8.48 8.48M377.3 114.2l8.48 -8.48M377.1 110.0h12M383.1 104.0v12M378.9 105.7l8.48 8.48M378.9 114.2l8.48 -8.48M378.7 110.0h12M384.7 104.0v12M380.5 105.7l8.48 8.48M380.5 114.2l8.48 -8.48M380.3 110.0h12M386.3 104.0v12M382.0 105.7l8.48 8.48M382.0 114.2l8.48 -8.48M381.9 110.0h12M387.9 104.0v12M383.6 105.7l8.48 8.48M383.6 114.2l8.48 -8.48M383.4 110.0h12M389.4 104.0v12M385.2 105.7l8.48 8.48M385.2 114.2l8.48 -8.48M385.0 110.0h12M391.0 104.0v12M386.8 105.7l8.48 8.48M386.8 114.2l8.48 -8.48" stroke="#0072bd" stroke-width="1" fill="none"/>
<path d="M425.0 444.5h12M431.0 438.5v12M426.8 440.3l8.48 8.48M426.8 448.8l8.48 -8.48" stroke="#333" stroke-width="1" fill="none"/>
<path d="M624.4 297.7H630.1M621.9 289.5H629.8M574.9 281.3H580.6M618.4 281.3H629.8M306.2 273.2H312.6M425.4 273.2H431.1M574.9 273.2H586.6M615.0 273.2H629.8M147.9 265.0H153.6M306.2 265.0H314.6M421.4 265.0H431.1M574.9 265.0H589.6M613.9 265.0H629.8M146.9 256.9H153.6M306.2 256.9H316.6M417.4 256.9H431.1M574.9 256.9H591.1M608.4 256.9H629.8M105.2 248.7H153.1M306.2 248.7H318.6M414.4 248.7H431.1M574.9 248.7H596.1M599.4 248.7H629.6M105.2 240.5H152.1M306.2 240.5H318.6M412.4 240.5H430.9M574.9 240.5H629.1M105.2 232.4H150.9M306.2 232.4H322.6M411.4 232.4H428.6M574.9 232.4H626.9M105.2 224.2H149.6M306.2 224.2H336.6M409.4 224.2H426.6M577.9 224.2H620.9M105.2 216.1H148.3M306.2 216.1H337.6M405.4 216.1H424.6M591.4 216.1H609.6M306.2 207.9H340.6M393.4 207.9H423.6M426.4 207.9H431.1M315.4 199.7H342.6M391.4 199.7H420.6M323.4 191.6H356.6M383.4 191.6H418.6M331.4 183.4H414.6M335.4 175.3H410.6M359.4 167.1H398.6" stroke="#d95319" stroke-width="11.6" fill="none"/>
<path d="M98.6 534.3h12M104.6 528.3v12M100.4 530.1l8.48 8.48M100.4 538.5l8.48 -8.48M100.2 534.3h12M106.2 528.3v12M102.0 530.1l8.48 8.48M102.0 538.5l8.48 -8.48M149.0 534.3h12M155.0 528.3v12M150.8 530.1l8.48 8.48M150.8 538.5l8.48 -8.48M301.2 534.3h12M307.2 528.3v12M303.0 530.1l8.48 8.48M303.0 538.5l8.48 -8.48M304.0 534.3h12M310.0 528.3v12M305.8 530.1l8.48 8.48M305.8 538.5l8.48 -8.48M425.0 534.3h12M431.0 528.3v12M426.8 530.1l8.48 8.48M426.8 538.5l8.48 -8.48M568.5 534.3h12M574.5 528.3v12M570.3 530.1l8.48 8.48M570.3 538.5l8.48 -8.48M623.3 534.3h12M629.3 528.3v12M625.1 530.1l8.48 8.48M625.1 538.5l8.48 -8.48M623.3 485.3h12M629.3 479.3v12M625.1 481.1l8.48 8.48M625.1 489.6l8.48 -8.48M149.0 469.0h12M155.0 463.0v12M150.8 464.8l8.48 8.48M150.8 473.3l8.48 -8.48M301.5 469.0h12M307.5 463.0v12M303.3 464.8l8.48 8.48M303.3 473.3l8.48 -8.48M623.3 452.7h12M629.3 446.7v12M625.1 448.5l8.48 8.48M625.1 456.9l8.48 -8.48M149.0 444.5h12M155.0 438.5v12M150.8 440.3l8.48 8.48M150.8 448.8l8.48 -8.48M301.5 444.5h12M307.5 438.5v12M303.3 440.3l8.48 8.48M303.3 448.8l8.48 -8.48M424.3 444.5h12M430.3 438.5v12M426.1 440.3l8.48 8.48M426.1 448.8l8.48 -8.48M623.3 428.2h12M629.3 422.2v12M625.1 424.0l8.48 8.48M625.1 432.5l8.48 -8.48M424.5 420.1h12M430.5 414.1v12M426.3 415.8l8.48 8.48M426.3 424.3l8.48 -8.48M623.3 322.1h12M629.3 316.1v12M625.1 317.9l8.48 8.48M625.1 326.4l8.48 -8.48M148.4 314.0h12M154.4 308.0v12M150.2 309.7l8.48 8.48M150.2 318.2l8.48 -8.48M301.3 314.0h12M307.3 308.0v12M303.1 309.7l8.48 8.48M303.1 318.2l8.48 -8.48M620.3 314.0h12M626.3 308.0v12M622.1 309.7l8.48 8.48M622.1 318.2l8.48 -8.48M424.5 314.0h12M430.5 308.0v12M426.3 309.7l8.48 8.48M426.3 318.2l8.48 -8.48M148.2 305.8h12M154.2 299.8v12M150.0 301.6l8.48 8.48M150.0 310.1l8.48 -8.48M300.5 305.8h12M306.5 299.8v12M302.3 301.6l8.48 8.48M302.3 310.1l8.48 -8.48M301.0 305.8h12M307.0 299.8v12M302.8 301.6l8.48 8.48M302.8 310.1l8.48 -8.48M301.5 305.8h12M307.5 299.8v12M303.3 301.6l8.48 8.48M303.3 310.1l8.48 -8.48M623.3 305.8h12M629.3 299.8v12M625.1 301.6l8.48 8.48M625.1 310.1l8.48 -8.48M147.0 297.7h12M153.0 291.7v12M148.8 293.4l8.48 8.48M148.8 301.9l8.48 -8.48M147.4 297.7h12M153.4 291.7v12M149.2 293.4l8.48 8.48M149.2 301.9l8.48 -8.48M147.9 297.7h12M153.9 291.7v12M149.6 293.4l8.48 8.48M149.6 301.9l8.48 -8.48M148.3 297.7h12M154.3 291.7v12M150.1 293.4l8.48 8.48M150.1 301.9l8.48 -8.48M300.5 297.7h12M306.5 291.7v12M302.3 293.4l8.48 8.48M302.3 301.9l8.48 -8.48M301.0 297.7h12M307.0 291.7v12M302.8 293.4l8.48 8.48M302.8 301.9l8.48 -8.48M301.5 297.7h12M307.5 291.7v12M303.3 293.4l8.48 8.48M303.3 301.9l8.48 -8.48M569.3 297.7h12M575.3 291.7v12M571.1 293.4l8.48 8.48M571.1 301.9l8.48 -8.48M613.6 297.7h12M619.6 291.7v12M615.4 293.4l8.48 8.48M615.4 301.9l8.48 -8.48M619.0 297.7h12M625.0 291.7v12M620.8 293.4l8.48 8.48M620.8 301.9l8.48 -8.48M620.5 297.7h12M626.5 291.7v12M622.3 293.4l8.48 8.48M622.3 301.9l8.48 -8.48M622.0 297.7h12M628.0 291.7v12M623.8 293.4l8.48 8.48M623.8 301.9l8.48 -8.48M623.5 297.7h12M629.5 291.7v12M625.3 293.4l8.48 8.48M625.3 301.9l8.48 -8.48M99.8 289.5h12M105.8 283.5v12M101.6 285.3l8.48 8.48M101.6 293.7l8.48 -8.48M146.5 289.5h12M152.5 283.5v12M148.3 285.3l8.48 8.48M148.3 293.7l8.48 -8.48M147.0 289.5h12M153.0 283.5v12M148.8 285.3l8.48 8.48M148.8 293.7l8.48 -8.48M147.5 289.5h12M153.5 283.5v12M149.3 285.3l8.48 8.48M149.3 293.7l8.48 -8.48M148.0 289.5h12M154.0 283.5v12M149.8 285.3l8.48 8.48M149.8 293.7l8.48 -8.48M300.5 289.5h12M306.5 283.5v12M302.3 285.3l8.48 8.48M302.3 293.7l8.48 -8.48M301.0 289.5h12M307.0 283.5v12M302.8 285.3l8.48 8.48M302.8 293.7l8.48 -8.48M301.5 289.5h12M307.5 283.5v12M303.3 285.3l8.48 8.48M303.3 293.7l8.48 -8.48M302.0 289.5h12M308.0 283.5v12M303.8 285.3l8.48 8.48M303.8 293.7l8.48 -8.48M424.3 289.5h12M430.3 283.5v12M426.1 285.3l8.48 8.48M426.1 293.7l8.48 -8.48M568.8 289.5h12M574.8 283.5v12M570.6 285.3l8.48 8.48M570.6 293.7l8.48 -8.48M578.6 289.5h12M584.6 283.5v12M580.4 285.3l8.48 8.48M580.4 293.7l8.48 -8.48M613.6 289.5h12M619.6 283.5v12M615.4 285.3l8.48 8.48M615.4 293.7l8.48 -8.48M616.5 289.5h12M622.5 283.5v12M618.3 285.3l8.48 8.48M618.3 293.7l8.48 -8.48M618.2 289.5h12M624.2 283.5v12M619.9 285.3l8.48 8.48M619.9 293.7l8.48 -8.48M619.9 289.5h12M625.9 283.5v12M621.6 285.3l8.48 8.48M621.6 293.7l8.48 -8.48M621.5 289.5h12M627.5 283.5v12M623.3 285.3l8.48 8.48M623.3 293.7l8.48 -8.48M623.2 289.5h12M629.2 283.5v12M625.0 285.3l8.48 8.48M625.0 293.7l8.48 -8.48M99.5 281.3h12M105.5 275.3v12M101.3 277.1l8.48 8.48M101.3 285.6l8.48 -8.48M100.0 281.3h12M106.0 275.3v12M101.8 277.1l8.48 8.48M101.8 285.6l8.48 -8.48M100.5 281.3h12M106.5 275.3v12M102.3 277.1l8.48 8.48M102.3 285.6l8.48 -8.48M110.3 281.3h12M116.3 275.3v12M112.1 277.1l8.48 8.48M112.1 285.6l8.48 -8.48M145.5 281.3h12M151.5 275.3v12M147.3 277.1l8.48 8.48M147.3 285.6l8.48 -8.48M146.0 281.3h12M152.0 275.3v12M147.8 277.1l8.48 8.48M147.8 285.6l8.48 -8.48M146.5 281.3h12M152.5 275.3v12M148.3 277.1l8.48 8.48M148.3 285.6l8.48 -8.48M147.0 281.3h12M153.0 275.3v12M148.8 277.1l8.48 8.48M148.8 285.6l8.48 -8.48M147.5 281.3h12M153.5 275.3v12M149.3 277.1l8.48 8.48M149.3 285.6l8.48 -8.48M300.8 281.3h12M306.8 275.3v12M302.6 277.1l8.48 8.48M302.6 285.6l8.48 -8.48M301.3 281.3h12M307.3 275.3v12M303.0 277.1l8.48 8.48M303.0 285.6l8.48 -8.48M301.7 281.3h12M307.7 275.3v12M303.5 277.1l8.48 8.48M303.5 285.6l8.48 -8.48M302.2 281.3h12M308.2 275.3v12M303.9 277.1l8.48 8.48M303.9 285.6l8.48 -8.48M302.6 281.3h12M308.6 275.3v12M304.4 277.1l8.48 8.48M304.4 285.6l8.48 -8.48M303.1 281.3h12M309.1 275.3v12M304.8 277.1l8.48 8.48M304.8 285.6l8.48 -8.48M303.5 281.3h12M309.5 275.3v12M305.3 277.1l8.48 8.48M305.3 285.6l8.48 -8.48M304.0 281.3h12M310.0 275.3v12M305.8 277.1l8.48 8.48M305.8 285.6l8.48 -8.48M424.3 281.3h12M430.3 275.3v12M426.1 277.1l8.48 8.48M426.1 285.6l8.48 -8.48M569.5 281.3h12M575.5 275.3v12M571.3 277.1l8.48 8.48M571.3 285.6l8.48 -8.48M571.0 281.3h12M577.0 275.3v12M572.8 277.1l8.48 8.48M572.8 285.6l8.48 -8.48M572.5 281.3h12M578.5 275.3v12M574.3 277.1l8.48 8.48M574.3 285.6l8.48 -8.48M574.0 281.3h12M580.0 275.3v12M575.8 277.1l8.48 8.48M575.8 285.6l8.48 -8.48M578.6 281.3h12M584.6 275.3v12M580.4 277.1l8.48 8.48M580.4 285.6l8.48 -8.48M609.0 281.3h12M615.0 275.3v12M610.8 277.1l8.48 8.48M610.8 285.6l8.48 -8.48M613.0 281.3h12M619.0 275.3v12M614.8 277.1l8.48 8.48M614.8 285.6l8.48 -8.48M614.7 281.3h12M620.7 275.3v12M616.5 277.1l8.48 8.48M616.5 285.6l8.48 -8.48M616.4 281.3h12M622.4 275.3v12M618.2 277.1l8.48 8.48M618.2 285.6l8.48 -8.48M618.1 281.3h12M624.1 275.3v12M619.9 277.1l8.48 8.48M619.9 285.6l8.48 -8.48M619.8 281.3h12M625.8 275.3v12M621.6 277.1l8.48 8.48M621.6 285.6l8.48 -8.48M621.5 281.3h12M627.5 275.3v12M623.3 277.1l8.48 8.48M623.3 285.6l8.48 -8.48M623.2 281.3h12M629.2 275.3v12M625.0 277.1l8.48 8.48M625.0 285.6l8.48 -8.48M99.2 273.2h12M105.2 267.2v12M101.0 268.9l8.48 8.48M101.0 277.4l8.48 -8.48M99.7 273.2h12M105.7 267.2v12M101.4 268.9l8.48 8.48M101.4 277.4l8.48 -8.48M100.1 273.2h12M106.1 267.2v12M101.9 268.9l8.48 8.48M101.9 277.4l8.48 -8.48M100.6 273.2h12M106.6 267.2v12M102.4 268.9l8.48 8.48M102.4 277.4l8.48 -8.48M109.6 273.2h12M115.6 267.2v12M111.4 268.9l8.48 8.48M111.4 277.4l8.48 -8.48M110.1 273.2h12M116.1 267.2v12M111.8 268.9l8.48 8.48M111.8 277.4l8.48 -8.48M110.5 273.2h12M116.5 267.2v12M112.3 268.9l8.48 8.48M112.3 277.4l8.48 -8.48M111.0 273.2h12M117.0 267.2v12M112.8 268.9l8.48 8.48M112.8 277.4l8.48 -8.48M123.6 273.2h12M129.6 267.2v12M125.4 268.9l8.48 8.48M125.4 277.4l8.48 -8.48M124.1 273.2h12M130.1 267.2v12M125.9 268.9l8.48 8.48M125.9 277.4l8.48 -8.48M124.6 273.2h12M130.6 267.2v12M126.4 268.9l8.48 8.48M126.4 277.4l8.48 -8.48M144.0 273.2h12M150.0 267.2v12M145.8 268.9l8.48 8.48M145.8 277.4l8.48 -8.48M144.4 273.2h12M150.4 267.2v12M146.2 268.9l8.48 8.48M146.2 277.4l8.48 -8.48M144.9 273.2h12M150.9 267.2v12M146.6 268.9l8.48 8.48M146.6 277.4l8.48 -8.48M145.3 273.2h12M151.3 267.2v12M147.0 268.9l8.48 8.48M147.0 277.4l8.48 -8.48M145.7 273.2h12M151.7 267.2v12M147.5 268.9l8.48 8.48M147.5 277.4l8.48 -8.48M146.1 273.2h12M152.1 267.2v12M147.9 268.9l8.48 8.48M147.9 277.4l8.48 -8.48M146.6 273.2h12M152.6 267.2v12M148.3 268.9l8.48 8.48M148.3 277.4l8.48 -8.48M147.0 273.2h12M153.0 267.2v12M148.8 268.9l8.48 8.48M148.8 277.4l8.48 -8.48M300.8 273.2h12M306.8 267.2v12M302.6 268.9l8.48 8.48M302.6 277.4l8.48 -8.48M302.5 273.2h12M308.5 267.2v12M304.3 268.9l8.48 8.48M304.3 277.4l8.48 -8.48M304.3 273.2h12M310.3 267.2v12M306.0 268.9l8.48 8.48M306.0 277.4l8.48 -8.48M306.0 273.2h12M312.0 267.2v12M307.8 268.9l8.48 8.48M307.8 277.4l8.48 -8.48M420.0 273.2h12M426.0 267.2v12M421.8 268.9l8.48 8.48M421.8 277.4l8.48 -8.48M421.5 273.2h12M427.5 267.2v12M423.3 268.9l8.48 8.48M423.3 277.4l8.48 -8.48M423.0 273.2h12M429.0 267.2v12M424.8 268.9l8.48 8.48M424.8 277.4l8.48 -8.48M424.5 273.2h12M430.5 267.2v12M426.3 268.9l8.48 8.48M426.3 277.4l8.48 -8.48M569.5 273.2h12M575.5 267.2v12M571.3 268.9l8.48 8.48M571.3 277.4l8.48 -8.48M571.0 273.2h12M577.0 267.2v12M572.8 268.9l8.48 8.48M572.8 277.4l8.48 -8.48M572.5 273.2h12M578.5 267.2v12M574.3 268.9l8.48 8.48M574.3 277.4l8.48 -8.48M574.0 273.2h12M580.0 267.2v12M575.8 268.9l8.48 8.48M575.8 277.4l8.48 -8.48M575.5 273.2h12M581.5 267.2v12M577.3 268.9l8.48 8.48M577.3 277.4l8.48 -8.48M577.0 273.2h12M583.0 267.2v12M578.8 268.9l8.48 8.48M578.8 277.4l8.48 -8.48M578.5 273.2h12M584.5 267.2v12M580.3 268.9l8.48 8.48M580.3 277.4l8.48 -8.48M580.0 273.2h12M586.0 267.2v12M581.8 268.9l8.48 8.48M581.8 277.4l8.48 -8.48M585.0 273.2h12M591.0 267.2v12M586.8 268.9l8.48 8.48M586.8 277.4l8.48 -8.48M605.5 273.2h12M611.5 267.2v12M607.3 268.9l8.48 8.48M607.3 277.4l8.48 -8.48M609.6 273.2h12M615.6 267.2v12M611.4 268.9l8.48 8.48M611.4 277.4l8.48 -8.48M611.1 273.2h12M617.1 267.2v12M612.9 268.9l8.48 8.48M612.9 277.4l8.48 -8.48M612.6 273.2h12M618.6 267.2v12M614.4 268.9l8.48 8.48M614.4 277.4l8.48 -8.48M614.1 273.2h12M620.1 267.2v12M615.9 268.9l8.48 8.48M615.9 277.4l8.48 -8.48M615.6 273.2h12M621.6 267.2v12M617.4 268.9l8.48 8.48M617.4 277.4l8.48 -8.48M617.2 273.2h12M623.2 267.2v12M618.9 268.9l8.48 8.48M618.9 277.4l8.48 -8.48M618.7 273.2h12M624.7 267.2v12M620.4 268.9l8.48 8.48M620.4 277.4l8.48 -8.48M620.2 273.2h12M626.2 267.2v12M621.9 268.9l8.48 8.48M621.9 277.4l8.48 -8.48M621.7 273.2h12M627.7 267.2v12M623.4 268.9l8.48 8.48M623.4 277.4l8.48 -8.48M623.2 273.2h12M629.2 267.2v12M625.0 268.9l8.48 8.48M625.0 277.4l8.48 -8.48M99.2 265.0h12M105.2 259.0v12M101.0 260.8l8.48 8.48M101.0 269.3l8.48 -8.48M99.6 265.0h12M105.6 259.0v12M101.4 260.8l8.48 8.48M101.4 269.3l8.48 -8.48M100.0 265.0h12M106.0 259.0v12M101.8 260.8l8.48 8.48M101.8 269.3l8.48 -8.48M100.4 265.0h12M106.4 259.0v12M102.2 260.8l8.48 8.48M102.2 269.3l8.48 -8.48M100.8 265.0h12M106.8 259.0v12M102.6 260.8l8.48 8.48M102.6 269.3l8.48 -8.48M109.3 265.0h12M115.3 259.0v12M111.1 260.8l8.48 8.48M111.1 269.3l8.48 -8.48M109.8 265.0h12M115.8 259.0v12M111.6 260.8l8.48 8.48M111.6 269.3l8.48 -8.48M110.3 265.0h12M116.3 259.0v12M112.1 260.8l8.48 8.48M112.1 269.3l8.48 -8.48M110.8 265.0h12M116.8 259.0v12M112.6 260.8l8.48 8.48M112.6 269.3l8.48 -8.48M111.3 265.0h12M117.3 259.0v12M113.1 260.8l8.48 8.48M113.1 269.3l8.48 -8.48M123.0 265.0h12M129.0 259.0v12M124.8 260.8l8.48 8.48M124.8 269.3l8.48 -8.48M123.4 265.0h12M129.4 259.0v12M125.2 260.8l8.48 8.48M125.2 269.3l8.48 -8.48M123.9 265.0h12M129.9 259.0v12M125.7 260.8l8.48 8.48M125.7 269.3l8.48 -8.48M124.4 265.0h12M130.4 259.0v12M126.1 260.8l8.48 8.48M126.1 269.3l8.48 -8.48M124.8 265.0h12M130.8 259.0v12M126.6 260.8l8.48 8.48M126.6 269.3l8.48 -8.48M136.5 265.0h12M142.5 259.0v12M138.3 260.8l8.48 8.48M138.3 269.3l8.48 -8.48M137.0 265.0h12M143.0 259.0v12M138.8 260.8l8.48 8.48M138.8 269.3l8.48 -8.48M137.5 265.0h12M143.5 259.0v12M139.3 260.8l8.48 8.48M139.3 269.3l8.48 -8.48M138.0 265.0h12M144.0 259.0v12M139.8 260.8l8.48 8.48M139.8 269.3l8.48 -8.48M142.5 265.0h12M148.5 259.0v12M144.3 260.8l8.48 8.48M144.3 269.3l8.48 -8.48M144.0 265.0h12M150.0 259.0v12M145.8 260.8l8.48 8.48M145.8 269.3l8.48 -8.48M145.5 265.0h12M151.5 259.0v12M147.3 260.8l8.48 8.48M147.3 269.3l8.48 -8.48M147.0 265.0h12M153.0 259.0v12M148.8 260.8l8.48 8.48M148.8 269.3l8.48 -8.48M300.8 265.0h12M306.8 259.0v12M302.6 260.8l8.48 8.48M302.6 269.3l8.48 -8.48M302.6 265.0h12M308.6 259.0v12M304.4 260.8l8.48 8.48M304.4 269.3l8.48 -8.48M304.4 265.0h12M310.4 259.0v12M306.2 260.8l8.48 8.48M306.2 269.3l8.48 -8.48M306.2 265.0h12M312.2 259.0v12M308.0 260.8l8.48 8.48M308.0 269.3l8.48 -8.48M308.0 265.0h12M314.0 259.0v12M309.8 260.8l8.48 8.48M309.8 269.3l8.48 -8.48M416.0 265.0h12M422.0 259.0v12M417.8 260.8l8.48 8.48M417.8 269.3l8.48 -8.48M417.7 265.0h12M423.7 259.0v12M419.5 260.8l8.48 8.48M419.5 269.3l8.48 -8.48M419.4 265.0h12M425.4 259.0v12M421.2 260.8l8.48 8.48M421.2 269.3l8.48 -8.48M421.1 265.0h12M427.1 259.0v12M422.9 260.8l8.48 8.48M422.9 269.3l8.48 -8.48M422.8 265.0h12M428.8 259.0v12M424.6 260.8l8.48 8.48M424.6 269.3l8.48 -8.48M424.5 265.0h12M430.5 259.0v12M426.3 260.8l8.48 8.48M426.3 269.3l8.48 -8.48M569.5 265.0h12M575.5 259.0v12M571.3 260.8l8.48 8.48M571.3 269.3l8.48 -8.48M571.2 265.0h12M577.2 259.0v12M572.9 260.8l8.48 8.48M572.9 269.3l8.48 -8.48M572.9 265.0h12M578.9 259.0v12M574.6 260.8l8.48 8.48M574.6 269.3l8.48 -8.48M574.6 265.0h12M580.6 259.0v12M576.3 260.8l8.48 8.48M576.3 269.3l8.48 -8.48M576.2 265.0h12M582.2 259.0v12M578.0 260.8l8.48 8.48M578.0 269.3l8.48 -8.48M577.9 265.0h12M583.9 259.0v12M579.7 260.8l8.48 8.48M579.7 269.3l8.48 -8.48M579.6 265.0h12M585.6 259.0v12M581.4 260.8l8.48 8.48M581.4 269.3l8.48 -8.48M581.3 265.0h12M587.3 259.0v12M583.1 260.8l8.48 8.48M583.1 269.3l8.48 -8.48M583.0 265.0h12M589.0 259.0v12M584.8 260.8l8.48 8.48M584.8 269.3l8.48 -8.48M604.5 265.0h12M610.5 259.0v12M606.3 260.8l8.48 8.48M606.3 269.3l8.48 -8.48M608.5 265.0h12M614.5 259.0v12M610.3 260.8l8.48 8.48M610.3 269.3l8.48 -8.48M610.1 265.0h12M616.1 259.0v12M611.9 260.8l8.48 8.48M611.9 269.3l8.48 -8.48M611.8 265.0h12M617.8 259.0v12M613.5 260.8l8.48 8.48M613.5 269.3l8.48 -8.48M613.4 265.0h12M619.4 259.0v12M615.2 260.8l8.48 8.48M615.2 269.3l8.48 -8.48M615.0 265.0h12M621.0 259.0v12M616.8 260.8l8.48 8.48M616.8 269.3l8.48 -8.48M616.7 265.0h12M622.7 259.0v12M618.4 260.8l8.48 8.48M618.4 269.3l8.48 -8.48M618.3 265.0h12M624.3 259.0v12M620.1 260.8l8.48 8.48M620.1 269.3l8.48 -8.48M619.9 265.0h12M625.9 259.0v12M621.7 260.8l8.48 8.48M621.7 269.3l8.48 -8.48M621.6 265.0h12M627.6 259.0v12M623.3 260.8l8.48 8.48M623.3 269.3l8.48 -8.48M623.2 265.0h12M629.2 259.0v12M625.0 260.8l8.48 8.48M625.0 269.3l8.48 -8.48M99.2 256.9h12M105.2 250.9v12M101.0 252.6l8.48 8.48M101.0 261.1l8.48 -8.48M99.7 256.9h12M105.7 250.9v12M101.4 252.6l8.48 8.48M101.4 261.1l8.48 -8.48M100.1 256.9h12M106.1 250.9v12M101.9 252.6l8.48 8.48M101.9 261.1l8.48 -8.48M100.5 256.9h12M106.5 250.9v12M102.3 252.6l8.48 8.48M102.3 261.1l8.48 -8.48M101.0 256.9h12M107.0 250.9v12M102.8 252.6l8.48 8.48M102.8 261.1l8.48 -8.48M108.8 256.9h12M114.8 250.9v12M110.6 252.6l8.48 8.48M110.6 261.1l8.48 -8.48M109.2 256.9h12M115.2 250.9v12M111.0 252.6l8.48 8.48M111.0 261.1l8.48 -8.48M109.7 256.9h12M115.7 250.9v12M111.4 252.6l8.48 8.48M111.4 261.1l8.48 -8.48M110.1 256.9h12M116.1 250.9v12M111.8 252.6l8.48 8.48M111.8 261.1l8.48 -8.48M110.5 256.9h12M116.5 250.9v12M112.3 252.6l8.48 8.48M112.3 261.1l8.48 -8.48M110.9 256.9h12M116.9 250.9v12M112.7 252.6l8.48 8.48M112.7 261.1l8.48 -8.48M111.4 256.9h12M117.4 250.9v12M113.1 252.6l8.48 8.48M113.1 261.1l8.48 -8.48M111.8 256.9h12M117.8 250.9v12M113.6 252.6l8.48 8.48M113.6 261.1l8.48 -8.48M119.5 256.9h12M125.5 250.9v12M121.3 252.6l8.48 8.48M121.3 261.1l8.48 -8.48M122.3 256.9h12M128.3 250.9v12M124.1 252.6l8.48 8.48M124.1 261.1l8.48 -8.48M125.2 256.9h12M131.2 250.9v12M126.9 252.6l8.48 8.48M126.9 261.1l8.48 -8.48M128.0 256.9h12M134.0 250.9v12M129.8 252.6l8.48 8.48M129.8 261.1l8.48 -8.48M133.5 256.9h12M139.5 250.9v12M135.3 252.6l8.48 8.48M135.3 261.1l8.48 -8.48M136.0 256.9h12M142.0 250.9v12M137.8 252.6l8.48 8.48M137.8 261.1l8.48 -8.48M136.4 256.9h12M142.4 250.9v12M138.2 252.6l8.48 8.48M138.2 261.1l8.48 -8.48M136.8 256.9h12M142.8 250.9v12M138.6 252.6l8.48 8.48M138.6 261.1l8.48 -8.48M137.2 256.9h12M143.2 250.9v12M139.0 252.6l8.48 8.48M139.0 261.1l8.48 -8.48M137.7 256.9h12M143.7 250.9v12M139.4 252.6l8.48 8.48M139.4 261.1l8.48 -8.48M138.1 256.9h12M144.1 250.9v12M139.8 252.6l8.48 8.48M139.8 261.1l8.48 -8.48M138.5 256.9h12M144.5 250.9v12M140.3 252.6l8.48 8.48M140.3 261.1l8.48 -8.48M141.5 256.9h12M147.5 250.9v12M143.3 252.6l8.48 8.48M143.3 261.1l8.48 -8.48M143.3 256.9h12M149.3 250.9v12M145.1 252.6l8.48 8.48M145.1 261.1l8.48 -8.48M145.2 256.9h12M151.2 250.9v12M146.9 252.6l8.48 8.48M146.9 261.1l8.48 -8.48M147.0 256.9h12M153.0 250.9v12M148.8 252.6l8.48 8.48M148.8 261.1l8.48 -8.48M300.8 256.9h12M306.8 250.9v12M302.6 252.6l8.48 8.48M302.6 261.1l8.48 -8.48M302.3 256.9h12M308.3 250.9v12M304.1 252.6l8.48 8.48M304.1 261.1l8.48 -8.48M303.9 256.9h12M309.9 250.9v12M305.6 252.6l8.48 8.48M305.6 261.1l8.48 -8.48M305.4 256.9h12M311.4 250.9v12M307.2 252.6l8.48 8.48M307.2 261.1l8.48 -8.48M306.9 256.9h12M312.9 250.9v12M308.7 252.6l8.48 8.48M308.7 261.1l8.48 -8.48M308.5 256.9h12M314.5 250.9v12M310.2 252.6l8.48 8.48M310.2 261.1l8.48 -8.48M310.0 256.9h12M316.0 250.9v12M311.8 252.6l8.48 8.48M311.8 261.1l8.48 -8.48M409.0 256.9h12M415.0 250.9v12M410.8 252.6l8.48 8.48M410.8 261.1l8.48 -8.48M412.0 256.9h12M418.0 250.9v12M413.8 252.6l8.48 8.48M413.8 261.1l8.48 -8.48M413.6 256.9h12M419.6 250.9v12M415.3 252.6l8.48 8.48M415.3 261.1l8.48 -8.48M415.1 256.9h12M421.1 250.9v12M416.9 252.6l8.48 8.48M416.9 261.1l8.48 -8.48M416.7 256.9h12M422.7 250.9v12M418.4 252.6l8.48 8.48M418.4 261.1l8.48 -8.48M418.2 256.9h12M424.2 250.9v12M420.0 252.6l8.48 8.48M420.0 261.1l8.48 -8.48M419.8 256.9h12M425.8 250.9v12M421.6 252.6l8.48 8.48M421.6 261.1l8.48 -8.48M421.4 256.9h12M427.4 250.9v12M423.1 252.6l8.48 8.48M423.1 261.1l8.48 -8.48M422.9 256.9h12M428.9 250.9v12M424.7 252.6l8.48 8.48M424.7 261.1l8.48 -8.48M424.5 256.9h12M430.5 250.9v12M426.3 252.6l8.48 8.48M426.3 261.1l8.48 -8.48M569.5 256.9h12M575.5 250.9v12M571.3 252.6l8.48 8.48M571.3 261.1l8.48 -8.48M571.2 256.9h12M577.2 250.9v12M572.9 252.6l8.48 8.48M572.9 261.1l8.48 -8.48M572.8 256.9h12M578.8 250.9v12M574.6 252.6l8.48 8.48M574.6 261.1l8.48 -8.48M574.5 256.9h12M580.5 250.9v12M576.3 252.6l8.48 8.48M576.3 261.1l8.48 -8.48M576.2 256.9h12M582.2 250.9v12M577.9 252.6l8.48 8.48M577.9 261.1l8.48 -8.48M577.8 256.9h12M583.8 250.9v12M579.6 252.6l8.48 8.48M579.6 261.1l8.48 -8.48M579.5 256.9h12M585.5 250.9v12M581.3 252.6l8.48 8.48M581.3 261.1l8.48 -8.48M581.2 256.9h12M587.2 250.9v12M582.9 252.6l8.48 8.48M582.9 261.1l8.48 -8.48M582.8 256.9h12M588.8 250.9v12M584.6 252.6l8.48 8.48M584.6 261.1l8.48 -8.48M584.5 256.9h12M590.5 250.9v12M586.3 252.6l8.48 8.48M586.3 261.1l8.48 -8.48M587.5 256.9h12M593.5 250.9v12M589.3 252.6l8.48 8.48M589.3 261.1l8.48 -8.48M590.4 256.9h12M596.4 250.9v12M592.1 252.6l8.48 8.48M592.1 261.1l8.48 -8.48M593.2 256.9h12M599.2 250.9v12M595.0 252.6l8.48 8.48M595.0 261.1l8.48 -8.48M596.1 256.9h12M602.1 250.9v12M597.9 252.6l8.48 8.48M597.9 261.1l8.48 -8.48M599.0 256.9h12M605.0 250.9v12M600.8 252.6l8.48 8.48M600.8 261.1l8.48 -8.48M603.0 256.9h12M609.0 250.9v12M604.8 252.6l8.48 8.48M604.8 261.1l8.48 -8.48M604.6 256.9h12M610.6 250.9v12M606.3 252.6l8.48 8.48M606.3 261.1l8.48 -8.48M606.1 256.9h12M612.1 250.9v12M607.9 252.6l8.48 8.48M607.9 261.1l8.48 -8.48M607.7 256.9h12M613.7 250.9v12M609.4 252.6l8.48 8.48M609.4 261.1l8.48 -8.48M609.2 256.9h12M615.2 250.9v12M611.0 252.6l8.48 8.48M611.0 261.1l8.48 -8.48M610.8 256.9h12M616.8 250.9v12M612.5 252.6l8.48 8.48M612.5 261.1l8.48 -8.48M612.3 256.9h12M618.3 250.9v12M614.1 252.6l8.48 8.48M614.1 261.1l8.48 -8.48M613.9 256.9h12M619.9 250.9v12M615.6 252.6l8.48 8.48M615.6 261.1l8.48 -8.48M615.4 256.9h12M621.4 250.9v12M617.2 252.6l8.48 8.48M617.2 261.1l8.48 -8.48M617.0 256.9h12M623.0 250.9v12M618.7 252.6l8.48 8.48M618.7 261.1l8.48 -8.48M618.5 256.9h12M624.5 250.9v12M620.3 252.6l8.48 8.48M620.3 261.1l8.48 -8.48M620.1 256.9h12M626.1 250.9v12M621.9 252.6l8.48 8.48M621.9 261.1l8.48 -8.48M621.6 256.9h12M627.6 250.9v12M623.4 252.6l8.48 8.48M623.4 261.1l8.48 -8.48M623.2 256.9h12M629.2 250.9v12M625.0 252.6l8.48 8.48M625.0 261.1l8.48 -8.48M99.8 248.7h12M105.8 242.7v12M101.6 244.5l8.48 8.48M101.6 252.9l8.48 -8.48M101.4 248.7h12M107.4 242.7v12M103.2 244.5l8.48 8.48M103.2 252.9l8.48 -8.48M103.0 248.7h12M109.0 242.7v12M104.8 244.5l8.48 8.48M104.8 252.9l8.48 -8.48M104.6 248.7h12M110.6 242.7v12M106.4 244.5l8.48 8.48M106.4 252.9l8.48 -8.48M106.2 248.7h12M112.2 242.7v12M108.0 244.5l8.48 8.48M108.0 252.9l8.48 -8.48M107.9 248.7h12M113.9 242.7v12M109.6 244.5l8.48 8.48M109.6 252.9l8.48 -8.48M109.5 248.7h12M115.5 242.7v12M111.2 244.5l8.48 8.48M111.2 252.9l8.48 -8.48M111.1 248.7h12M117.1 242.7v12M112.8 244.5l8.48 8.48M112.8 252.9l8.48 -8.48M112.7 248.7h12M118.7 242.7v12M114.4 244.5l8.48 8.48M114.4 252.9l8.48 -8.48M114.3 248.7h12M120.3 242.7v12M116.1 244.5l8.48 8.48M116.1 252.9l8.48 -8.48M115.9 248.7h12M121.9 242.7v12M117.7 244.5l8.48 8.48M117.7 252.9l8.48 -8.48M117.5 248.7h12M123.5 242.7v12M119.3 244.5l8.48 8.48M119.3 252.9l8.48 -8.48M119.1 248.7h12M125.1 242.7v12M120.9 244.5l8.48 8.48M120.9 252.9l8.48 -8.48M120.7 248.7h12M126.7 242.7v12M122.5 244.5l8.48 8.48M122.5 252.9l8.48 -8.48M122.3 248.7h12M128.3 242.7v12M124.1 244.5l8.48 8.48M124.1 252.9l8.48 -8.48M124.0 248.7h12M130.0 242.7v12M125.7 244.5l8.48 8.48M125.7 252.9l8.48 -8.48M125.6 248.7h12M131.6 242.7v12M127.3 244.5l8.48 8.48M127.3 252.9l8.48 -8.48M127.2 248.7h12M133.2 242.7v12M128.9 244.5l8.48 8.48M128.9 252.9l8.48 -8.48M128.8 248.7h12M134.8 242.7v12M130.5 244.5l8.48 8.48M130.5 252.9l8.48 -8.48M130.4 248.7h12M136.4 242.7v12M132.2 244.5l8.48 8.48M132.2 252.9l8.48 -8.48M132.0 248.7h12M138.0 242.7v12M133.8 244.5l8.48 8.48M133.8 252.9l8.48 -8.48M133.6 248.7h12M139.6 242.7v12M135.4 244.5l8.48 8.48M135.4 252.9l8.48 -8.48M135.2 248.7h12M141.2 242.7v12M137.0 244.5l8.48 8.48M137.0 252.9l8.48 -8.48M136.8 248.7h12M142.8 242.7v12M138.6 244.5l8.48 8.48M138.6 252.9l8.48 -8.48M138.4 248.7h12M144.4 242.7v12M140.2 244.5l8.48 8.48M140.2 252.9l8.48 -8.48M140.1 248.7h12M146.1 242.7v12M141.8 244.5l8.48 8.48M141.8 252.9l8.48 -8.48M141.7 248.7h12M147.7 242.7v12M143.4 244.5l8.48 8.48M143.4 252.9l8.48 -8.48M143.3 248.7h12M149.3 242.7v12M145.0 244.5l8.48 8.48M145.0 252.9l8.48 -8.48M144.9 248.7h12M150.9 242.7v12M146.6 244.5l8.48 8.48M146.6 252.9l8.48 -8.48M146.5 248.7h12M152.5 242.7v12M148.3 244.5l8.48 8.48M148.3 252.9l8.48 -8.48M300.8 248.7h12M306.8 242.7v12M302.6 244.5l8.48 8.48M302.6 252.9l8.48 -8.48M302.4 248.7h12M308.4 242.7v12M304.2 244.5l8.48 8.48M304.2 252.9l8.48 -8.48M304.0 248.7h12M310.0 242.7v12M305.8 244.5l8.48 8.48M305.8 252.9l8.48 -8.48M305.6 248.7h12M311.6 242.7v12M307.4 244.5l8.48 8.48M307.4 252.9l8.48 -8.48M307.2 248.7h12M313.2 242.7v12M309.0 244.5l8.48 8.48M309.0 252.9l8.48 -8.48M308.8 248.7h12M314.8 242.7v12M310.6 244.5l8.48 8.48M310.6 252.9l8.48 -8.48M310.4 248.7h12M316.4 242.7v12M312.2 244.5l8.48 8.48M312.2 252.9l8.48 -8.48M312.0 248.7h12M318.0 242.7v12M313.8 244.5l8.48 8.48M313.8 252.9l8.48 -8.48M409.0 248.7h12M415.0 242.7v12M410.8 244.5l8.48 8.48M410.8 252.9l8.48 -8.48M410.6 248.7h12M416.6 242.7v12M412.3 244.5l8.48 8.48M412.3 252.9l8.48 -8.48M412.1 248.7h12M418.1 242.7v12M413.9 244.5l8.48 8.48M413.9 252.9l8.48 -8.48M413.6 248.7h12M419.6 242.7v12M415.4 244.5l8.48 8.48M415.4 252.9l8.48 -8.48M415.2 248.7h12M421.2 242.7v12M417.0 244.5l8.48 8.48M417.0 252.9l8.48 -8.48M416.8 248.7h12M422.8 242.7v12M418.5 244.5l8.48 8.48M418.5 252.9l8.48 -8.48M418.3 248.7h12M424.3 242.7v12M420.1 244.5l8.48 8.48M420.1 252.9l8.48 -8.48M419.9 248.7h12M425.9 242.7v12M421.6 244.5l8.48 8.48M421.6 252.9l8.48 -8.48M421.4 248.7h12M427.4 242.7v12M423.2 244.5l8.48 8.48M423.2 252.9l8.48 -8.48M422.9 248.7h12M428.9 242.7v12M424.7 244.5l8.48 8.48M424.7 252.9l8.48 -8.48M424.5 248.7h12M430.5 242.7v12M426.3 244.5l8.48 8.48M426.3 252.9l8.48 -8.48M569.5 248.7h12M575.5 242.7v12M571.3 244.5l8.48 8.48M571.3 252.9l8.48 -8.48M571.2 248.7h12M577.2 242.7v12M572.9 244.5l8.48 8.48M572.9 252.9l8.48 -8.48M572.8 248.7h12M578.8 242.7v12M574.6 244.5l8.48 8.48M574.6 252.9l8.48 -8.48M574.5 248.7h12M580.5 242.7v12M576.3 244.5l8.48 8.48M576.3 252.9l8.48 -8.48M576.2 248.7h12M582.2 242.7v12M577.9 244.5l8.48 8.48M577.9 252.9l8.48 -8.48M577.8 248.7h12M583.8 242.7v12M579.6 244.5l8.48 8.48M579.6 252.9l8.48 -8.48M579.5 248.7h12M585.5 242.7v12M581.3 244.5l8.48 8.48M581.3 252.9l8.48 -8.48M581.2 248.7h12M587.2 242.7v12M582.9 244.5l8.48 8.48M582.9 252.9l8.48 -8.48M582.8 248.7h12M588.8 242.7v12M584.6 244.5l8.48 8.48M584.6 252.9l8.48 -8.48M584.5 248.7h12M590.5 242.7v12M586.3 244.5l8.48 8.48M586.3 252.9l8.48 -8.48M586.2 248.7h12M592.2 242.7v12M587.9 244.5l8.48 8.48M587.9 252.9l8.48 -8.48M587.8 248.7h12M593.8 242.7v12M589.6 244.5l8.48 8.48M589.6 252.9l8.48 -8.48M589.5 248.7h12M595.5 242.7v12M591.3 244.5l8.48 8.48M591.3 252.9l8.48 -8.48M594.0 248.7h12M600.0 242.7v12M595.8 244.5l8.48 8.48M595.8 252.9l8.48 -8.48M595.6 248.7h12M601.6 242.7v12M597.4 244.5l8.48 8.48M597.4 252.9l8.48 -8.48M597.2 248.7h12M603.2 242.7v12M599.0 244.5l8.48 8.48M599.0 252.9l8.48 -8.48M598.8 248.7h12M604.8 242.7v12M600.6 244.5l8.48 8.48M600.6 252.9l8.48 -8.48M600.4 248.7h12M606.4 242.7v12M602.2 244.5l8.48 8.48M602.2 252.9l8.48 -8.48M602.1 248.7h12M608.1 242.7v12M603.8 244.5l8.48 8.48M603.8 252.9l8.48 -8.48M603.7 248.7h12M609.7 242.7v12M605.4 244.5l8.48 8.48M605.4 252.9l8.48 -8.48M605.3 248.7h12M611.3 242.7v12M607.0 244.5l8.48 8.48M607.0 252.9l8.48 -8.48M606.9 248.7h12M612.9 242.7v12M608.6 244.5l8.48 8.48M608.6 252.9l8.48 -8.48M608.5 248.7h12M614.5 242.7v12M610.3 244.5l8.48 8.48M610.3 252.9l8.48 -8.48M610.1 248.7h12M616.1 242.7v12M611.9 244.5l8.48 8.48M611.9 252.9l8.48 -8.48M611.7 248.7h12M617.7 242.7v12M613.5 244.5l8.48 8.48M613.5 252.9l8.48 -8.48M613.3 248.7h12M619.3 242.7v12M615.1 244.5l8.48 8.48M615.1 252.9l8.48 -8.48M614.9 248.7h12M620.9 242.7v12M616.7 244.5l8.48 8.48M616.7 252.9l8.48 -8.48M616.6 248.7h12M622.6 242.7v12M618.3 244.5l8.48 8.48M618.3 252.9l8.48 -8.48M618.2 248.7h12M624.2 242.7v12M619.9 244.5l8.48 8.48M619.9 252.9l8.48 -8.48M619.8 248.7h12M625.8 242.7v12M621.5 244.5l8.48 8.48M621.5 252.9l8.48 -8.48M621.4 248.7h12M627.4 242.7v12M623.1 244.5l8.48 8.48M623.1 252.9l8.48 -8.48M623.0 248.7h12M629.0 242.7v12M624.8 244.5l8.48 8.48M624.8 252.9l8.48 -8.48M99.8 240.5h12M105.8 234.5v12M101.6 236.3l8.48 8.48M101.6 244.8l8.48 -8.48M101.4 240.5h12M107.4 234.5v12M103.1 236.3l8.48 8.48M103.1 244.8l8.48 -8.48M103.0 240.5h12M109.0 234.5v12M104.7 236.3l8.48 8.48M104.7 244.8l8.48 -8.48M104.5 240.5h12M110.5 234.5v12M106.3 236.3l8.48 8.48M106.3 244.8l8.48 -8.48M106.1 240.5h12M112.1 234.5v12M107.9 236.3l8.48 8.48M107.9 244.8l8.48 -8.48M107.7 240.5h12M113.7 234.5v12M109.4 236.3l8.48 8.48M109.4 244.8l8.48 -8.48M109.3 240.5h12M115.3 234.5v12M111.0 236.3l8.48 8.48M111.0 244.8l8.48 -8.48M110.8 240.5h12M116.8 234.5v12M112.6 236.3l8.48 8.48M112.6 244.8l8.48 -8.48M112.4 240.5h12M118.4 234.5v12M114.2 236.3l8.48 8.48M114.2 244.8l8.48 -8.48M114.0 240.5h12M120.0 234.5v12M115.7 236.3l8.48 8.48M115.7 244.8l8.48 -8.48M115.6 240.5h12M121.6 234.5v12M117.3 236.3l8.48 8.48M117.3 244.8l8.48 -8.48M117.1 240.5h12M123.1 234.5v12M118.9 236.3l8.48 8.48M118.9 244.8l8.48 -8.48M118.7 240.5h12M124.7 234.5v12M120.5 236.3l8.48 8.48M120.5 244.8l8.48 -8.48M120.3 240.5h12M126.3 234.5v12M122.0 236.3l8.48 8.48M122.0 244.8l8.48 -8.48M121.9 240.5h12M127.9 234.5v12M123.6 236.3l8.48 8.48M123.6 244.8l8.48 -8.48M123.4 240.5h12M129.4 234.5v12M125.2 236.3l8.48 8.48M125.2 244.8l8.48 -8.48M125.0 240.5h12M131.0 234.5v12M126.8 236.3l8.48 8.48M126.8 244.8l8.48 -8.48M126.6 240.5h12M132.6 234.5v12M128.3 236.3l8.48 8.48M128.3 244.8l8.48 -8.48M128.2 240.5h12M134.2 234.5v12M129.9 236.3l8.48 8.48M129.9 244.8l8.48 -8.48M129.7 240.5h12M135.7 234.5v12M131.5 236.3l8.48 8.48M131.5 244.8l8.48 -8.48M131.3 240.5h12M137.3 234.5v12M133.1 236.3l8.48 8.48M133.1 244.8l8.48 -8.48M132.9 240.5h12M138.9 234.5v12M134.7 236.3l8.48 8.48M134.7 244.8l8.48 -8.48M134.5 240.5h12M140.5 234.5v12M136.2 236.3l8.48 8.48M136.2 244.8l8.48 -8.48M136.0 240.5h12M142.0 234.5v12M137.8 236.3l8.48 8.48M137.8 244.8l8.48 -8.48M137.6 240.5h12M143.6 234.5v12M139.4 236.3l8.48 8.48M139.4 244.8l8.48 -8.48M139.2 240.5h12M145.2 234.5v12M141.0 236.3l8.48 8.48M141.0 244.8l8.48 -8.48M140.8 240.5h12M146.8 234.5v12M142.5 236.3l8.48 8.48M142.5 244.8l8.48 -8.48M142.3 240.5h12M148.3 234.5v12M144.1 236.3l8.48 8.48M144.1 244.8l8.48 -8.48M143.9 240.5h12M149.9 234.5v12M145.7 236.3l8.48 8.48M145.7 244.8l8.48 -8.48M145.5 240.5h12M151.5 234.5v12M147.3 236.3l8.48 8.48M147.3 244.8l8.48 -8.48M300.8 240.5h12M306.8 234.5v12M302.6 236.3l8.48 8.48M302.6 244.8l8.48 -8.48M302.4 240.5h12M308.4 234.5v12M304.2 236.3l8.48 8.48M304.2 244.8l8.48 -8.48M304.0 240.5h12M310.0 234.5v12M305.8 236.3l8.48 8.48M305.8 244.8l8.48 -8.48M305.6 240.5h12M311.6 234.5v12M307.4 236.3l8.48 8.48M307.4 244.8l8.48 -8.48M307.2 240.5h12M313.2 234.5v12M309.0 236.3l8.48 8.48M309.0 244.8l8.48 -8.48M308.8 240.5h12M314.8 234.5v12M310.6 236.3l8.48 8.48M310.6 244.8l8.48 -8.48M310.4 240.5h12M316.4 234.5v12M312.2 236.3l8.48 8.48M312.2 244.8l8.48 -8.48M312.0 240.5h12M318.0 234.5v12M313.8 236.3l8.48 8.48M313.8 244.8l8.48 -8.48M407.0 240.5h12M413.0 234.5v12M408.8 236.3l8.48 8.48M408.8 244.8l8.48 -8.48M408.6 240.5h12M414.6 234.5v12M410.3 236.3l8.48 8.48M410.3 244.8l8.48 -8.48M410.1 240.5h12M416.1 234.5v12M411.9 236.3l8.48 8.48M411.9 244.8l8.48 -8.48M411.7 240.5h12M417.7 234.5v12M413.5 236.3l8.48 8.48M413.5 244.8l8.48 -8.48M413.3 240.5h12M419.3 234.5v12M415.1 236.3l8.48 8.48M415.1 244.8l8.48 -8.48M414.9 240.5h12M420.9 234.5v12M416.6 236.3l8.48 8.48M416.6 244.8l8.48 -8.48M416.4 240.5h12M422.4 234.5v12M418.2 236.3l8.48 8.48M418.2 244.8l8.48 -8.48M418.0 240.5h12M424.0 234.5v12M419.8 236.3l8.48 8.48M419.8 244.8l8.48 -8.48M419.6 240.5h12M425.6 234.5v12M421.3 236.3l8.48 8.48M421.3 244.8l8.48 -8.48M421.2 240.5h12M427.2 234.5v12M422.9 236.3l8.48 8.48M422.9 244.8l8.48 -8.48M422.7 240.5h12M428.7 234.5v12M424.5 236.3l8.48 8.48M424.5 244.8l8.48 -8.48M424.3 240.5h12M430.3 234.5v12M426.1 236.3l8.48 8.48M426.1 244.8l8.48 -8.48M569.5 240.5h12M575.5 234.5v12M571.3 236.3l8.48 8.48M571.3 244.8l8.48 -8.48M571.1 240.5h12M577.1 234.5v12M572.9 236.3l8.48 8.48M572.9 244.8l8.48 -8.48M572.7 240.5h12M578.7 234.5v12M574.5 236.3l8.48 8.48M574.5 244.8l8.48 -8.48M574.3 240.5h12M580.3 234.5v12M576.1 236.3l8.48 8.48M576.1 244.8l8.48 -8.48M575.9 240.5h12M581.9 234.5v12M577.7 236.3l8.48 8.48M577.7 244.8l8.48 -8.48M577.5 240.5h12M583.5 234.5v12M579.3 236.3l8.48 8.48M579.3 244.8l8.48 -8.48M579.1 240.5h12M585.1 234.5v12M580.9 236.3l8.48 8.48M580.9 244.8l8.48 -8.48M580.7 240.5h12M586.7 234.5v12M582.5 236.3l8.48 8.48M582.5 244.8l8.48 -8.48M582.3 240.5h12M588.3 234.5v12M584.1 236.3l8.48 8.48M584.1 244.8l8.48 -8.48M584.0 240.5h12M590.0 234.5v12M585.7 236.3l8.48 8.48M585.7 244.8l8.48 -8.48M585.6 240.5h12M591.6 234.5v12M587.3 236.3l8.48 8.48M587.3 244.8l8.48 -8.48M587.2 240.5h12M593.2 234.5v12M588.9 236.3l8.48 8.48M588.9 244.8l8.48 -8.48M588.8 240.5h12M594.8 234.5v12M590.5 236.3l8.48 8.48M590.5 244.8l8.48 -8.48M590.4 240.5h12M596.4 234.5v12M592.1 236.3l8.48 8.48M592.1 244.8l8.48 -8.48M592.0 240.5h12M598.0 234.5v12M593.7 236.3l8.48 8.48M593.7 244.8l8.48 -8.48M593.6 240.5h12M599.6 234.5v12M595.4 236.3l8.48 8.48M595.4 244.8l8.48 -8.48M595.2 240.5h12M601.2 234.5v12M597.0 236.3l8.48 8.48M597.0 244.8l8.48 -8.48M596.8 240.5h12M602.8 234.5v12M598.6 236.3l8.48 8.48M598.6 244.8l8.48 -8.48M598.4 240.5h12M604.4 234.5v12M600.2 236.3l8.48 8.48M600.2 244.8l8.48 -8.48M600.0 240.5h12M606.0 234.5v12M601.8 236.3l8.48 8.48M601.8 244.8l8.48 -8.48M601.6 240.5h12M607.6 234.5v12M603.4 236.3l8.48 8.48M603.4 244.8l8.48 -8.48M603.2 240.5h12M609.2 234.5v12M605.0 236.3l8.48 8.48M605.0 244.8l8.48 -8.48M604.8 240.5h12M610.8 234.5v12M606.6 236.3l8.48 8.48M606.6 244.8l8.48 -8.48M606.4 240.5h12M612.4 234.5v12M608.2 236.3l8.48 8.48M608.2 244.8l8.48 -8.48M608.0 240.5h12M614.0 234.5v12M609.8 236.3l8.48 8.48M609.8 244.8l8.48 -8.48M609.7 240.5h12M615.7 234.5v12M611.4 236.3l8.48 8.48M611.4 244.8l8.48 -8.48M611.3 240.5h12M617.3 234.5v12M613.0 236.3l8.48 8.48M613.0 244.8l8.48 -8.48M612.9 240.5h12M618.9 234.5v12M614.6 236.3l8.48 8.48M614.6 244.8l8.48 -8.48M614.5 240.5h12M620.5 234.5v12M616.2 236.3l8.48 8.48M616.2 244.8l8.48 -8.48M616.1 240.5h12M622.1 234.5v12M617.8 236.3l8.48 8.48M617.8 244.8l8.48 -8.48M617.7 240.5h12M623.7 234.5v12M619.4 236.3l8.48 8.48M619.4 244.8l8.48 -8.48M619.3 240.5h12M625.3 234.5v12M621.0 236.3l8.48 8.48M621.0 244.8l8.48 -8.48M620.9 240.5h12M626.9 234.5v12M622.7 236.3l8.48 8.48M622.7 244.8l8.48 -8.48M622.5 240.5h12M628.5 234.5v12M624.3 236.3l8.48 8.48M624.3 244.8l8.48 -8.48M99.8 232.4h12M105.8 226.4v12M101.6 228.1l8.48 8.48M101.6 236.6l8.48 -8.48M101.4 232.4h12M107.4 226.4v12M103.1 228.1l8.48 8.48M103.1 236.6l8.48 -8.48M103.0 232.4h12M109.0 226.4v12M104.7 228.1l8.48 8.48M104.7 236.6l8.48 -8.48M104.6 232.4h12M110.6 226.4v12M106.3 228.1l8.48 8.48M106.3 236.6l8.48 -8.48M106.2 232.4h12M112.2 226.4v12M107.9 228.1l8.48 8.48M107.9 236.6l8.48 -8.48M107.7 232.4h12M113.7 226.4v12M109.5 228.1l8.48 8.48M109.5 236.6l8.48 -8.48M109.3 232.4h12M115.3 226.4v12M111.1 228.1l8.48 8.48M111.1 236.6l8.48 -8.48M110.9 232.4h12M116.9 226.4v12M112.7 228.1l8.48 8.48M112.7 236.6l8.48 -8.48M112.5 232.4h12M118.5 226.4v12M114.3 228.1l8.48 8.48M114.3 236.6l8.48 -8.48M114.1 232.4h12M120.1 226.4v12M115.9 228.1l8.48 8.48M115.9 236.6l8.48 -8.48M115.7 232.4h12M121.7 226.4v12M117.5 228.1l8.48 8.48M117.5 236.6l8.48 -8.48M117.3 232.4h12M123.3 226.4v12M119.0 228.1l8.48 8.48M119.0 236.6l8.48 -8.48M118.9 232.4h12M124.9 226.4v12M120.6 228.1l8.48 8.48M120.6 236.6l8.48 -8.48M120.5 232.4h12M126.5 226.4v12M122.2 228.1l8.48 8.48M122.2 236.6l8.48 -8.48M122.1 232.4h12M128.1 226.4v12M123.8 228.1l8.48 8.48M123.8 236.6l8.48 -8.48M123.6 232.4h12M129.6 226.4v12M125.4 228.1l8.48 8.48M125.4 236.6l8.48 -8.48M125.2 232.4h12M131.2 226.4v12M127.0 228.1l8.48 8.48M127.0 236.6l8.48 -8.48M126.8 232.4h12M132.8 226.4v12M128.6 228.1l8.48 8.48M128.6 236.6l8.48 -8.48M128.4 232.4h12M134.4 226.4v12M130.2 228.1l8.48 8.48M130.2 236.6l8.48 -8.48M130.0 232.4h12M136.0 226.4v12M131.8 228.1l8.48 8.48M131.8 236.6l8.48 -8.48M131.6 232.4h12M137.6 226.4v12M133.3 228.1l8.48 8.48M133.3 236.6l8.48 -8.48M133.2 232.4h12M139.2 226.4v12M134.9 228.1l8.48 8.48M134.9 236.6l8.48 -8.48M134.8 232.4h12M140.8 226.4v12M136.5 228.1l8.48 8.48M136.5 236.6l8.48 -8.48M136.4 232.4h12M142.4 226.4v12M138.1 228.1l8.48 8.48M138.1 236.6l8.48 -8.48M137.9 232.4h12M143.9 226.4v12M139.7 228.1l8.48 8.48M139.7 236.6l8.48 -8.48M139.5 232.4h12M145.5 226.4v12M141.3 228.1l8.48 8.48M141.3 236.6l8.48 -8.48M141.1 232.4h12M147.1 226.4v12M142.9 228.1l8.48 8.48M142.9 236.6l8.48 -8.48M142.7 232.4h12M148.7 226.4v12M144.5 228.1l8.48 8.48M144.5 236.6l8.48 -8.48M144.3 232.4h12M150.3 226.4v12M146.1 228.1l8.48 8.48M146.1 236.6l8.48 -8.48M300.8 232.4h12M306.8 226.4v12M302.6 228.1l8.48 8.48M302.6 236.6l8.48 -8.48M302.5 232.4h12M308.5 226.4v12M304.2 228.1l8.48 8.48M304.2 236.6l8.48 -8.48M304.2 232.4h12M310.2 226.4v12M305.9 228.1l8.48 8.48M305.9 236.6l8.48 -8.48M305.9 232.4h12M311.9 226.4v12M307.6 228.1l8.48 8.48M307.6 236.6l8.48 -8.48M307.6 232.4h12M313.6 226.4v12M309.3 228.1l8.48 8.48M309.3 236.6l8.48 -8.48M309.2 232.4h12M315.2 226.4v12M311.0 228.1l8.48 8.48M311.0 236.6l8.48 -8.48M310.9 232.4h12M316.9 226.4v12M312.7 228.1l8.48 8.48M312.7 236.6l8.48 -8.48M312.6 232.4h12M318.6 226.4v12M314.4 228.1l8.48 8.48M314.4 236.6l8.48 -8.48M314.3 232.4h12M320.3 226.4v12M316.1 228.1l8.48 8.48M316.1 236.6l8.48 -8.48M316.0 232.4h12M322.0 226.4v12M317.8 228.1l8.48 8.48M317.8 236.6l8.48 -8.48M318.5 232.4h12M324.5 226.4v12M320.3 228.1l8.48 8.48M320.3 236.6l8.48 -8.48M326.0 232.4h12M332.0 226.4v12M327.8 228.1l8.48 8.48M327.8 236.6l8.48 -8.48M406.0 232.4h12M412.0 226.4v12M407.8 228.1l8.48 8.48M407.8 236.6l8.48 -8.48M407.6 232.4h12M413.6 226.4v12M409.4 228.1l8.48 8.48M409.4 236.6l8.48 -8.48M409.2 232.4h12M415.2 226.4v12M411.0 228.1l8.48 8.48M411.0 236.6l8.48 -8.48M410.8 232.4h12M416.8 226.4v12M412.6 228.1l8.48 8.48M412.6 236.6l8.48 -8.48M412.4 232.4h12M418.4 226.4v12M414.2 228.1l8.48 8.48M414.2 236.6l8.48 -8.48M414.0 232.4h12M420.0 226.4v12M415.8 228.1l8.48 8.48M415.8 236.6l8.48 -8.48M415.6 232.4h12M421.6 226.4v12M417.4 228.1l8.48 8.48M417.4 236.6l8.48 -8.48M417.2 232.4h12M423.2 226.4v12M419.0 228.1l8.48 8.48M419.0 236.6l8.48 -8.48M418.8 232.4h12M424.8 226.4v12M420.6 228.1l8.48 8.48M420.6 236.6l8.48 -8.48M420.4 232.4h12M426.4 226.4v12M422.2 228.1l8.48 8.48M422.2 236.6l8.48 -8.48M422.0 232.4h12M428.0 226.4v12M423.8 228.1l8.48 8.48M423.8 236.6l8.48 -8.48M424.3 232.4h12M430.3 226.4v12M426.1 228.1l8.48 8.48M426.1 236.6l8.48 -8.48M569.5 232.4h12M575.5 226.4v12M571.3 228.1l8.48 8.48M571.3 236.6l8.48 -8.48M571.1 232.4h12M577.1 226.4v12M572.8 228.1l8.48 8.48M572.8 236.6l8.48 -8.48M572.7 232.4h12M578.7 226.4v12M574.4 228.1l8.48 8.48M574.4 236.6l8.48 -8.48M574.3 232.4h12M580.3 226.4v12M576.0 228.1l8.48 8.48M576.0 236.6l8.48 -8.48M575.9 232.4h12M581.9 226.4v12M577.6 228.1l8.48 8.48M577.6 236.6l8.48 -8.48M577.4 232.4h12M583.4 226.4v12M579.2 228.1l8.48 8.48M579.2 236.6l8.48 -8.48M579.0 232.4h12M585.0 226.4v12M580.8 228.1l8.48 8.48M580.8 236.6l8.48 -8.48M580.6 232.4h12M586.6 226.4v12M582.4 228.1l8.48 8.48M582.4 236.6l8.48 -8.48M582.2 232.4h12M588.2 226.4v12M584.0 228.1l8.48 8.48M584.0 236.6l8.48 -8.48M583.8 232.4h12M589.8 226.4v12M585.5 228.1l8.48 8.48M585.5 236.6l8.48 -8.48M585.4 232.4h12M591.4 226.4v12M587.1 228.1l8.48 8.48M587.1 236.6l8.48 -8.48M587.0 232.4h12M593.0 226.4v12M588.7 228.1l8.48 8.48M588.7 236.6l8.48 -8.48M588.5 232.4h12M594.5 226.4v12M590.3 228.1l8.48 8.48M590.3 236.6l8.48 -8.48M590.1 232.4h12M596.1 226.4v12M591.9 228.1l8.48 8.48M591.9 236.6l8.48 -8.48M591.7 232.4h12M597.7 226.4v12M593.5 228.1l8.48 8.48M593.5 236.6l8.48 -8.48M593.3 232.4h12M599.3 226.4v12M595.1 228.1l8.48 8.48M595.1 236.6l8.48 -8.48M594.9 232.4h12M600.9 226.4v12M596.7 228.1l8.48 8.48M596.7 236.6l8.48 -8.48M596.5 232.4h12M602.5 226.4v12M598.2 228.1l8.48 8.48M598.2 236.6l8.48 -8.48M598.1 232.4h12M604.1 226.4v12M599.8 228.1l8.48 8.48M599.8 236.6l8.48 -8.48M599.7 232.4h12M605.7 226.4v12M601.4 228.1l8.48 8.48M601.4 236.6l8.48 -8.48M601.2 232.4h12M607.2 226.4v12M603.0 228.1l8.48 8.48M603.0 236.6l8.48 -8.48M602.8 232.4h12M608.8 226.4v12M604.6 228.1l8.48 8.48M604.6 236.6l8.48 -8.48M604.4 232.4h12M610.4 226.4v12M606.2 228.1l8.48 8.48M606.2 236.6l8.48 -8.48M606.0 232.4h12M612.0 226.4v12M607.8 228.1l8.48 8.48M607.8 236.6l8.48 -8.48M607.6 232.4h12M613.6 226.4v12M609.4 228.1l8.48 8.48M609.4 236.6l8.48 -8.48M609.2 232.4h12M615.2 226.4v12M610.9 228.1l8.48 8.48M610.9 236.6l8.48 -8.48M610.8 232.4h12M616.8 226.4v12M612.5 228.1l8.48 8.48M612.5 236.6l8.48 -8.48M612.4 232.4h12M618.4 226.4v12M614.1 228.1l8.48 8.48M614.1 236.6l8.48 -8.48M613.9 232.4h12M619.9 226.4v12M615.7 228.1l8.48 8.48M615.7 236.6l8.48 -8.48M615.5 232.4h12M621.5 226.4v12M617.3 228.1l8.48 8.48M617.3 236.6l8.48 -8.48M617.1 232.4h12M623.1 226.4v12M618.9 228.1l8.48 8.48M618.9 236.6l8.48 -8.48M618.7 232.4h12M624.7 226.4v12M620.5 228.1l8.48 8.48M620.5 236.6l8.48 -8.48M620.3 232.4h12M626.3 226.4v12M622.1 228.1l8.48 8.48M622.1 236.6l8.48 -8.48M99.8 224.2h12M105.8 218.2v12M101.6 220.0l8.48 8.48M101.6 228.5l8.48 -8.48M101.4 224.2h12M107.4 218.2v12M103.2 220.0l8.48 8.48M103.2 228.5l8.48 -8.48M103.0 224.2h12M109.0 218.2v12M104.8 220.0l8.48 8.48M104.8 228.5l8.48 -8.48M104.6 224.2h12M110.6 218.2v12M106.4 220.0l8.48 8.48M106.4 228.5l8.48 -8.48M106.2 224.2h12M112.2 218.2v12M108.0 220.0l8.48 8.48M108.0 228.5l8.48 -8.48M107.8 224.2h12M113.8 218.2v12M109.6 220.0l8.48 8.48M109.6 228.5l8.48 -8.48M109.4 224.2h12M115.4 218.2v12M111.2 220.0l8.48 8.48M111.2 228.5l8.48 -8.48M111.0 224.2h12M117.0 218.2v12M112.8 220.0l8.48 8.48M112.8 228.5l8.48 -8.48M112.6 224.2h12M118.6 218.2v12M114.4 220.0l8.48 8.48M114.4 228.5l8.48 -8.48M114.2 224.2h12M120.2 218.2v12M116.0 220.0l8.48 8.48M116.0 228.5l8.48 -8.48M115.8 224.2h12M121.8 218.2v12M117.6 220.0l8.48 8.48M117.6 228.5l8.48 -8.48M117.4 224.2h12M123.4 218.2v12M119.2 220.0l8.48 8.48M119.2 228.5l8.48 -8.48M119.0 224.2h12M125.0 218.2v12M120.8 220.0l8.48 8.48M120.8 228.5l8.48 -8.48M120.6 224.2h12M126.6 218.2v12M122.4 220.0l8.48 8.48M122.4 228.5l8.48 -8.48M122.2 224.2h12M128.2 218.2v12M124.0 220.0l8.48 8.48M124.0 228.5l8.48 -8.48M123.8 224.2h12M129.8 218.2v12M125.6 220.0l8.48 8.48M125.6 228.5l8.48 -8.48M125.4 224.2h12M131.4 218.2v12M127.2 220.0l8.48 8.48M127.2 228.5l8.48 -8.48M127.0 224.2h12M133.0 218.2v12M128.8 220.0l8.48 8.48M128.8 228.5l8.48 -8.48M128.6 224.2h12M134.6 218.2v12M130.4 220.0l8.48 8.48M130.4 228.5l8.48 -8.48M130.2 224.2h12M136.2 218.2v12M132.0 220.0l8.48 8.48M132.0 228.5l8.48 -8.48M131.8 224.2h12M137.8 218.2v12M133.6 220.0l8.48 8.48M133.6 228.5l8.48 -8.48M133.4 224.2h12M139.4 218.2v12M135.2 220.0l8.48 8.48M135.2 228.5l8.48 -8.48M135.0 224.2h12M141.0 218.2v12M136.8 220.0l8.48 8.48M136.8 228.5l8.48 -8.48M136.6 224.2h12M142.6 218.2v12M138.4 220.0l8.48 8.48M138.4 228.5l8.48 -8.48M138.2 224.2h12M144.2 218.2v12M140.0 220.0l8.48 8.48M140.0 228.5l8.48 -8.48M139.8 224.2h12M145.8 218.2v12M141.6 220.0l8.48 8.48M141.6 228.5l8.48 -8.48M141.4 224.2h12M147.4 218.2v12M143.2 220.0l8.48 8.48M143.2 228.5l8.48 -8.48M143.0 224.2h12M149.0 218.2v12M144.8 220.0l8.48 8.48M144.8 228.5l8.48 -8.48M300.8 224.2h12M306.8 218.2v12M302.6 220.0l8.48 8.48M302.6 228.5l8.48 -8.48M302.4 224.2h12M308.4 218.2v12M304.2 220.0l8.48 8.48M304.2 228.5l8.48 -8.48M304.0 224.2h12M310.0 218.2v12M305.8 220.0l8.48 8.48M305.8 228.5l8.48 -8.48M305.7 224.2h12M311.7 218.2v12M307.4 220.0l8.48 8.48M307.4 228.5l8.48 -8.48M307.3 224.2h12M313.3 218.2v12M309.0 220.0l8.48 8.48M309.0 228.5l8.48 -8.48M308.9 224.2h12M314.9 218.2v12M310.7 220.0l8.48 8.48M310.7 228.5l8.48 -8.48M310.5 224.2h12M316.5 218.2v12M312.3 220.0l8.48 8.48M312.3 228.5l8.48 -8.48M312.2 224.2h12M318.2 218.2v12M313.9 220.0l8.48 8.48M313.9 228.5l8.48 -8.48M313.8 224.2h12M319.8 218.2v12M315.5 220.0l8.48 8.48M315.5 228.5l8.48 -8.48M315.4 224.2h12M321.4 218.2v12M317.2 220.0l8.48 8.48M317.2 228.5l8.48 -8.48M317.0 224.2h12M323.0 218.2v12M318.8 220.0l8.48 8.48M318.8 228.5l8.48 -8.48M318.6 224.2h12M324.6 218.2v12M320.4 220.0l8.48 8.48M320.4 228.5l8.48 -8.48M320.3 224.2h12M326.3 218.2v12M322.0 220.0l8.48 8.48M322.0 228.5l8.48 -8.48M321.9 224.2h12M327.9 218.2v12M323.6 220.0l8.48 8.48M323.6 228.5l8.48 -8.48M323.5 224.2h12M329.5 218.2v12M325.3 220.0l8.48 8.48M325.3 228.5l8.48 -8.48M325.1 224.2h12M331.1 218.2v12M326.9 220.0l8.48 8.48M326.9 228.5l8.48 -8.48M326.8 224.2h12M332.8 218.2v12M328.5 220.0l8.48 8.48M328.5 228.5l8.48 -8.48M328.4 224.2h12M334.4 218.2v12M330.1 220.0l8.48 8.48M330.1 228.5l8.48 -8.48M330.0 224.2h12M336.0 218.2v12M331.8 220.0l8.48 8.48M331.8 228.5l8.48 -8.48M404.0 224.2h12M410.0 218.2v12M405.8 220.0l8.48 8.48M405.8 228.5l8.48 -8.48M405.6 224.2h12M411.6 218.2v12M407.4 220.0l8.48 8.48M407.4 228.5l8.48 -8.48M407.2 224.2h12M413.2 218.2v12M409.0 220.0l8.48 8.48M409.0 228.5l8.48 -8.48M408.8 224.2h12M414.8 218.2v12M410.6 220.0l8.48 8.48M410.6 228.5l8.48 -8.48M410.4 224.2h12M416.4 218.2v12M412.2 220.0l8.48 8.48M412.2 228.5l8.48 -8.48M412.0 224.2h12M418.0 218.2v12M413.8 220.0l8.48 8.48M413.8 228.5l8.48 -8.48M413.6 224.2h12M419.6 218.2v12M415.4 220.0l8.48 8.48M415.4 228.5l8.48 -8.48M415.2 224.2h12M421.2 218.2v12M417.0 220.0l8.48 8.48M417.0 228.5l8.48 -8.48M416.8 224.2h12M422.8 218.2v12M418.6 220.0l8.48 8.48M418.6 228.5l8.48 -8.48M418.4 224.2h12M424.4 218.2v12M420.2 220.0l8.48 8.48M420.2 228.5l8.48 -8.48M420.0 224.2h12M426.0 218.2v12M421.8 220.0l8.48 8.48M421.8 228.5l8.48 -8.48M424.3 224.2h12M430.3 218.2v12M426.1 220.0l8.48 8.48M426.1 228.5l8.48 -8.48M572.5 224.2h12M578.5 218.2v12M574.3 220.0l8.48 8.48M574.3 228.5l8.48 -8.48M574.1 224.2h12M580.1 218.2v12M575.9 220.0l8.48 8.48M575.9 228.5l8.48 -8.48M575.7 224.2h12M581.7 218.2v12M577.5 220.0l8.48 8.48M577.5 228.5l8.48 -8.48M577.3 224.2h12M583.3 218.2v12M579.1 220.0l8.48 8.48M579.1 228.5l8.48 -8.48M578.9 224.2h12M584.9 218.2v12M580.7 220.0l8.48 8.48M580.7 228.5l8.48 -8.48M580.5 224.2h12M586.5 218.2v12M582.3 220.0l8.48 8.48M582.3 228.5l8.48 -8.48M582.1 224.2h12M588.1 218.2v12M583.9 220.0l8.48 8.48M583.9 228.5l8.48 -8.48M583.8 224.2h12M589.8 218.2v12M585.5 220.0l8.48 8.48M585.5 228.5l8.48 -8.48M585.4 224.2h12M591.4 218.2v12M587.1 220.0l8.48 8.48M587.1 228.5l8.48 -8.48M587.0 224.2h12M593.0 218.2v12M588.7 220.0l8.48 8.48M588.7 228.5l8.48 -8.48M588.6 224.2h12M594.6 218.2v12M590.3 220.0l8.48 8.48M590.3 228.5l8.48 -8.48M590.2 224.2h12M596.2 218.2v12M591.9 220.0l8.48 8.48M591.9 228.5l8.48 -8.48M591.8 224.2h12M597.8 218.2v12M593.6 220.0l8.48 8.48M593.6 228.5l8.48 -8.48M593.4 224.2h12M599.4 218.2v12M595.2 220.0l8.48 8.48M595.2 228.5l8.48 -8.48M595.0 224.2h12M601.0 218.2v12M596.8 220.0l8.48 8.48M596.8 228.5l8.48 -8.48M596.6 224.2h12M602.6 218.2v12M598.4 220.0l8.48 8.48M598.4 228.5l8.48 -8.48M598.2 224.2h12M604.2 218.2v12M600.0 220.0l8.48 8.48M600.0 228.5l8.48 -8.48M599.8 224.2h12M605.8 218.2v12M601.6 220.0l8.48 8.48M601.6 228.5l8.48 -8.48M601.4 224.2h12M607.4 218.2v12M603.2 220.0l8.48 8.48M603.2 228.5l8.48 -8.48M603.0 224.2h12M609.0 218.2v12M604.8 220.0l8.48 8.48M604.8 228.5l8.48 -8.48M604.7 224.2h12M610.7 218.2v12M606.4 220.0l8.48 8.48M606.4 228.5l8.48 -8.48M606.3 224.2h12M612.3 218.2v12M608.0 220.0l8.48 8.48M608.0 228.5l8.48 -8.48M607.9 224.2h12M613.9 218.2v12M609.6 220.0l8.48 8.48M609.6 228.5l8.48 -8.48M609.5 224.2h12M615.5 218.2v12M611.2 220.0l8.48 8.48M611.2 228.5l8.48 -8.48M611.1 224.2h12M617.1 218.2v12M612.8 220.0l8.48 8.48M612.8 228.5l8.48 -8.48M612.7 224.2h12M618.7 218.2v12M614.5 220.0l8.48 8.48M614.5 228.5l8.48 -8.48M614.3 224.2h12M620.3 218.2v12M616.1 220.0l8.48 8.48M616.1 228.5l8.48 -8.48M99.8 216.1h12M105.8 210.1v12M101.6 211.8l8.48 8.48M101.6 220.3l8.48 -8.48M101.4 216.1h12M107.4 210.1v12M103.2 211.8l8.48 8.48M103.2 220.3l8.48 -8.48M103.0 216.1h12M109.0 210.1v12M104.8 211.8l8.48 8.48M104.8 220.3l8.48 -8.48M104.6 216.1h12M110.6 210.1v12M106.4 211.8l8.48 8.48M106.4 220.3l8.48 -8.48M106.2 216.1h12M112.2 210.1v12M108.0 211.8l8.48 8.48M108.0 220.3l8.48 -8.48M107.9 216.1h12M113.9 210.1v12M109.6 211.8l8.48 8.48M109.6 220.3l8.48 -8.48M109.5 216.1h12M115.5 210.1v12M111.2 211.8l8.48 8.48M111.2 220.3l8.48 -8.48M111.1 216.1h12M117.1 210.1v12M112.8 211.8l8.48 8.48M112.8 220.3l8.48 -8.48M112.7 216.1h12M118.7 210.1v12M114.5 211.8l8.48 8.48M114.5 220.3l8.48 -8.48M114.3 216.1h12M120.3 210.1v12M116.1 211.8l8.48 8.48M116.1 220.3l8.48 -8.48M115.9 216.1h12M121.9 210.1v12M117.7 211.8l8.48 8.48M117.7 220.3l8.48 -8.48M117.5 216.1h12M123.5 210.1v12M119.3 211.8l8.48 8.48M119.3 220.3l8.48 -8.48M119.1 216.1h12M125.1 210.1v12M120.9 211.8l8.48 8.48M120.9 220.3l8.48 -8.48M120.8 216.1h12M126.8 210.1v12M122.5 211.8l8.48 8.48M122.5 220.3l8.48 -8.48M122.4 216.1h12M128.4 210.1v12M124.1 211.8l8.48 8.48M124.1 220.3l8.48 -8.48M124.0 216.1h12M130.0 210.1v12M125.7 211.8l8.48 8.48M125.7 220.3l8.48 -8.48M125.6 216.1h12M131.6 210.1v12M127.3 211.8l8.48 8.48M127.3 220.3l8.48 -8.48M127.2 216.1h12M133.2 210.1v12M129.0 211.8l8.48 8.48M129.0 220.3l8.48 -8.48M128.8 216.1h12M134.8 210.1v12M130.6 211.8l8.48 8.48M130.6 220.3l8.48 -8.48M130.4 216.1h12M136.4 210.1v12M132.2 211.8l8.48 8.48M132.2 220.3l8.48 -8.48M132.0 216.1h12M138.0 210.1v12M133.8 211.8l8.48 8.48M133.8 220.3l8.48 -8.48M133.6 216.1h12M139.6 210.1v12M135.4 211.8l8.48 8.48M135.4 220.3l8.48 -8.48M135.3 216.1h12M141.3 210.1v12M137.0 211.8l8.48 8.48M137.0 220.3l8.48 -8.48M136.9 216.1h12M142.9 210.1v12M138.6 211.8l8.48 8.48M138.6 220.3l8.48 -8.48M138.5 216.1h12M144.5 210.1v12M140.2 211.8l8.48 8.48M140.2 220.3l8.48 -8.48M140.1 216.1h12M146.1 210.1v12M141.8 211.8l8.48 8.48M141.8 220.3l8.48 -8.48M141.7 216.1h12M147.7 210.1v12M143.5 211.8l8.48 8.48M143.5 220.3l8.48 -8.48M300.8 216.1h12M306.8 210.1v12M302.6 211.8l8.48 8.48M302.6 220.3l8.48 -8.48M302.4 216.1h12M308.4 210.1v12M304.1 211.8l8.48 8.48M304.1 220.3l8.48 -8.48M304.0 216.1h12M310.0 210.1v12M305.7 211.8l8.48 8.48M305.7 220.3l8.48 -8.48M305.6 216.1h12M311.6 210.1v12M307.3 211.8l8.48 8.48M307.3 220.3l8.48 -8.48M307.2 216.1h12M313.2 210.1v12M308.9 211.8l8.48 8.48M308.9 220.3l8.48 -8.48M308.7 216.1h12M314.7 210.1v12M310.5 211.8l8.48 8.48M310.5 220.3l8.48 -8.48M310.3 216.1h12M316.3 210.1v12M312.1 211.8l8.48 8.48M312.1 220.3l8.48 -8.48M311.9 216.1h12M317.9 210.1v12M313.7 211.8l8.48 8.48M313.7 220.3l8.48 -8.48M313.5 216.1h12M319.5 210.1v12M315.3 211.8l8.48 8.48M315.3 220.3l8.48 -8.48M315.1 216.1h12M321.1 210.1v12M316.9 211.8l8.48 8.48M316.9 220.3l8.48 -8.48M316.7 216.1h12M322.7 210.1v12M318.5 211.8l8.48 8.48M318.5 220.3l8.48 -8.48M318.3 216.1h12M324.3 210.1v12M320.0 211.8l8.48 8.48M320.0 220.3l8.48 -8.48M319.9 216.1h12M325.9 210.1v12M321.6 211.8l8.48 8.48M321.6 220.3l8.48 -8.48M321.5 216.1h12M327.5 210.1v12M323.2 211.8l8.48 8.48M323.2 220.3l8.48 -8.48M323.1 216.1h12M329.1 210.1v12M324.8 211.8l8.48 8.48M324.8 220.3l8.48 -8.48M324.6 216.1h12M330.6 210.1v12M326.4 211.8l8.48 8.48M326.4 220.3l8.48 -8.48M326.2 216.1h12M332.2 210.1v12M328.0 211.8l8.48 8.48M328.0 220.3l8.48 -8.48M327.8 216.1h12M333.8 210.1v12M329.6 211.8l8.48 8.48M329.6 220.3l8.48 -8.48M329.4 216.1h12M335.4 210.1v12M331.2 211.8l8.48 8.48M331.2 220.3l8.48 -8.48M331.0 216.1h12M337.0 210.1v12M332.8 211.8l8.48 8.48M332.8 220.3l8.48 -8.48M400.0 216.1h12M406.0 210.1v12M401.8 211.8l8.48 8.48M401.8 220.3l8.48 -8.48M401.6 216.1h12M407.6 210.1v12M403.4 211.8l8.48 8.48M403.4 220.3l8.48 -8.48M403.3 216.1h12M409.3 210.1v12M405.0 211.8l8.48 8.48M405.0 220.3l8.48 -8.48M404.9 216.1h12M410.9 210.1v12M406.7 211.8l8.48 8.48M406.7 220.3l8.48 -8.48M406.5 216.1h12M412.5 210.1v12M408.3 211.8l8.48 8.48M408.3 220.3l8.48 -8.48M408.2 216.1h12M414.2 210.1v12M409.9 211.8l8.48 8.48M409.9 220.3l8.48 -8.48M409.8 216.1h12M415.8 210.1v12M411.6 211.8l8.48 8.48M411.6 220.3l8.48 -8.48M411.5 216.1h12M417.5 210.1v12M413.2 211.8l8.48 8.48M413.2 220.3l8.48 -8.48M413.1 216.1h12M419.1 210.1v12M414.9 211.8l8.48 8.48M414.9 220.3l8.48 -8.48M414.7 216.1h12M420.7 210.1v12M416.5 211.8l8.48 8.48M416.5 220.3l8.48 -8.48M416.4 216.1h12M422.4 210.1v12M418.1 211.8l8.48 8.48M418.1 220.3l8.48 -8.48M418.0 216.1h12M424.0 210.1v12M419.8 211.8l8.48 8.48M419.8 220.3l8.48 -8.48M422.0 216.1h12M428.0 210.1v12M423.8 211.8l8.48 8.48M423.8 220.3l8.48 -8.48M422.4 216.1h12M428.4 210.1v12M424.2 211.8l8.48 8.48M424.2 220.3l8.48 -8.48M422.8 216.1h12M428.8 210.1v12M424.6 211.8l8.48 8.48M424.6 220.3l8.48 -8.48M423.2 216.1h12M429.2 210.1v12M425.0 211.8l8.48 8.48M425.0 220.3l8.48 -8.48M423.7 216.1h12M429.7 210.1v12M425.4 211.8l8.48 8.48M425.4 220.3l8.48 -8.48M424.1 216.1h12M430.1 210.1v12M425.8 211.8l8.48 8.48M425.8 220.3l8.48 -8.48M424.5 216.1h12M430.5 210.1v12M426.3 211.8l8.48 8.48M426.3 220.3l8.48 -8.48M586.0 216.1h12M592.0 210.1v12M587.8 211.8l8.48 8.48M587.8 220.3l8.48 -8.48M587.5 216.1h12M593.5 210.1v12M589.3 211.8l8.48 8.48M589.3 220.3l8.48 -8.48M589.1 216.1h12M595.1 210.1v12M590.9 211.8l8.48 8.48M590.9 220.3l8.48 -8.48M590.6 216.1h12M596.6 210.1v12M592.4 211.8l8.48 8.48M592.4 220.3l8.48 -8.48M592.2 216.1h12M598.2 210.1v12M593.9 211.8l8.48 8.48M593.9 220.3l8.48 -8.48M593.7 216.1h12M599.7 210.1v12M595.5 211.8l8.48 8.48M595.5 220.3l8.48 -8.48M595.3 216.1h12M601.3 210.1v12M597.0 211.8l8.48 8.48M597.0 220.3l8.48 -8.48M596.8 216.1h12M602.8 210.1v12M598.6 211.8l8.48 8.48M598.6 220.3l8.48 -8.48M598.4 216.1h12M604.4 210.1v12M600.1 211.8l8.48 8.48M600.1 220.3l8.48 -8.48M599.9 216.1h12M605.9 210.1v12M601.7 211.8l8.48 8.48M601.7 220.3l8.48 -8.48M601.5 216.1h12M607.5 210.1v12M603.2 211.8l8.48 8.48M603.2 220.3l8.48 -8.48M603.0 216.1h12M609.0 210.1v12M604.8 211.8l8.48 8.48M604.8 220.3l8.48 -8.48M612.8 216.1h12M618.8 210.1v12M614.6 211.8l8.48 8.48M614.6 220.3l8.48 -8.48M99.8 207.9h12M105.8 201.9v12M101.6 203.7l8.48 8.48M101.6 212.1l8.48 -8.48M101.9 207.9h12M107.9 201.9v12M103.7 203.7l8.48 8.48M103.7 212.1l8.48 -8.48M104.0 207.9h12M110.0 201.9v12M105.8 203.7l8.48 8.48M105.8 212.1l8.48 -8.48M107.0 207.9h12M113.0 201.9v12M108.8 203.7l8.48 8.48M108.8 212.1l8.48 -8.48M109.5 207.9h12M115.5 201.9v12M111.3 203.7l8.48 8.48M111.3 212.1l8.48 -8.48M112.0 207.9h12M118.0 201.9v12M113.8 203.7l8.48 8.48M113.8 212.1l8.48 -8.48M114.0 207.9h12M120.0 201.9v12M115.8 203.7l8.48 8.48M115.8 212.1l8.48 -8.48M114.4 207.9h12M120.4 201.9v12M116.2 203.7l8.48 8.48M116.2 212.1l8.48 -8.48M114.9 207.9h12M120.9 201.9v12M116.6 203.7l8.48 8.48M116.6 212.1l8.48 -8.48M115.3 207.9h12M121.3 201.9v12M117.0 203.7l8.48 8.48M117.0 212.1l8.48 -8.48M115.7 207.9h12M121.7 201.9v12M117.5 203.7l8.48 8.48M117.5 212.1l8.48 -8.48M116.1 207.9h12M122.1 201.9v12M117.9 203.7l8.48 8.48M117.9 212.1l8.48 -8.48M116.6 207.9h12M122.6 201.9v12M118.3 203.7l8.48 8.48M118.3 212.1l8.48 -8.48M117.0 207.9h12M123.0 201.9v12M118.8 203.7l8.48 8.48M118.8 212.1l8.48 -8.48M121.0 207.9h12M127.0 201.9v12M122.8 203.7l8.48 8.48M122.8 212.1l8.48 -8.48M123.0 207.9h12M129.0 201.9v12M124.8 203.7l8.48 8.48M124.8 212.1l8.48 -8.48M125.0 207.9h12M131.0 201.9v12M126.8 203.7l8.48 8.48M126.8 212.1l8.48 -8.48M128.0 207.9h12M134.0 201.9v12M129.8 203.7l8.48 8.48M129.8 212.1l8.48 -8.48M130.1 207.9h12M136.1 201.9v12M131.8 203.7l8.48 8.48M131.8 212.1l8.48 -8.48M132.1 207.9h12M138.1 201.9v12M133.9 203.7l8.48 8.48M133.9 212.1l8.48 -8.48M134.2 207.9h12M140.2 201.9v12M135.9 203.7l8.48 8.48M135.9 212.1l8.48 -8.48M136.2 207.9h12M142.2 201.9v12M138.0 203.7l8.48 8.48M138.0 212.1l8.48 -8.48M138.2 207.9h12M144.2 201.9v12M140.0 203.7l8.48 8.48M140.0 212.1l8.48 -8.48M140.3 207.9h12M146.3 201.9v12M142.1 203.7l8.48 8.48M142.1 212.1l8.48 -8.48M300.8 207.9h12M306.8 201.9v12M302.6 203.7l8.48 8.48M302.6 212.1l8.48 -8.48M302.4 207.9h12M308.4 201.9v12M304.1 203.7l8.48 8.48M304.1 212.1l8.48 -8.48M304.0 207.9h12M310.0 201.9v12M305.7 203.7l8.48 8.48M305.7 212.1l8.48 -8.48M305.5 207.9h12M311.5 201.9v12M307.3 203.7l8.48 8.48M307.3 212.1l8.48 -8.48M307.1 207.9h12M313.1 201.9v12M308.9 203.7l8.48 8.48M308.9 212.1l8.48 -8.48M308.7 207.9h12M314.7 201.9v12M310.5 203.7l8.48 8.48M310.5 212.1l8.48 -8.48M310.3 207.9h12M316.3 201.9v12M312.0 203.7l8.48 8.48M312.0 212.1l8.48 -8.48M311.9 207.9h12M317.9 201.9v12M313.6 203.7l8.48 8.48M313.6 212.1l8.48 -8.48M313.4 207.9h12M319.4 201.9v12M315.2 203.7l8.48 8.48M315.2 212.1l8.48 -8.48M315.0 207.9h12M321.0 201.9v12M316.8 203.7l8.48 8.48M316.8 212.1l8.48 -8.48M316.6 207.9h12M322.6 201.9v12M318.4 203.7l8.48 8.48M318.4 212.1l8.48 -8.48M318.2 207.9h12M324.2 201.9v12M320.0 203.7l8.48 8.48M320.0 212.1l8.48 -8.48M319.8 207.9h12M325.8 201.9v12M321.5 203.7l8.48 8.48M321.5 212.1l8.48 -8.48M321.4 207.9h12M327.4 201.9v12M323.1 203.7l8.48 8.48M323.1 212.1l8.48 -8.48M322.9 207.9h12M328.9 201.9v12M324.7 203.7l8.48 8.48M324.7 212.1l8.48 -8.48M324.5 207.9h12M330.5 201.9v12M326.3 203.7l8.48 8.48M326.3 212.1l8.48 -8.48M326.1 207.9h12M332.1 201.9v12M327.9 203.7l8.48 8.48M327.9 212.1l8.48 -8.48M327.7 207.9h12M333.7 201.9v12M329.4 203.7l8.48 8.48M329.4 212.1l8.48 -8.48M329.3 207.9h12M335.3 201.9v12M331.0 203.7l8.48 8.48M331.0 212.1l8.48 -8.48M330.8 207.9h12M336.8 201.9v12M332.6 203.7l8.48 8.48M332.6 212.1l8.48 -8.48M332.4 207.9h12M338.4 201.9v12M334.2 203.7l8.48 8.48M334.2 212.1l8.48 -8.48M334.0 207.9h12M340.0 201.9v12M335.8 203.7l8.48 8.48M335.8 212.1l8.48 -8.48M388.0 207.9h12M394.0 201.9v12M389.8 203.7l8.48 8.48M389.8 212.1l8.48 -8.48M389.6 207.9h12M395.6 201.9v12M391.4 203.7l8.48 8.48M391.4 212.1l8.48 -8.48M391.2 207.9h12M397.2 201.9v12M393.0 203.7l8.48 8.48M393.0 212.1l8.48 -8.48M392.8 207.9h12M398.8 201.9v12M394.6 203.7l8.48 8.48M394.6 212.1l8.48 -8.48M394.4 207.9h12M400.4 201.9v12M396.2 203.7l8.48 8.48M396.2 212.1l8.48 -8.48M396.1 207.9h12M402.1 201.9v12M397.8 203.7l8.48 8.48M397.8 212.1l8.48 -8.48M397.7 207.9h12M403.7 201.9v12M399.4 203.7l8.48 8.48M399.4 212.1l8.48 -8.48M399.3 207.9h12M405.3 201.9v12M401.0 203.7l8.48 8.48M401.0 212.1l8.48 -8.48M400.9 207.9h12M406.9 201.9v12M402.6 203.7l8.48 8.48M402.6 212.1l8.48 -8.48M402.5 207.9h12M408.5 201.9v12M404.3 203.7l8.48 8.48M404.3 212.1l8.48 -8.48M404.1 207.9h12M410.1 201.9v12M405.9 203.7l8.48 8.48M405.9 212.1l8.48 -8.48M405.7 207.9h12M411.7 201.9v12M407.5 203.7l8.48 8.48M407.5 212.1l8.48 -8.48M407.3 207.9h12M413.3 201.9v12M409.1 203.7l8.48 8.48M409.1 212.1l8.48 -8.48M408.9 207.9h12M414.9 201.9v12M410.7 203.7l8.48 8.48M410.7 212.1l8.48 -8.48M410.6 207.9h12M416.6 201.9v12M412.3 203.7l8.48 8.48M412.3 212.1l8.48 -8.48M412.2 207.9h12M418.2 201.9v12M413.9 203.7l8.48 8.48M413.9 212.1l8.48 -8.48M413.8 207.9h12M419.8 201.9v12M415.5 203.7l8.48 8.48M415.5 212.1l8.48 -8.48M415.4 207.9h12M421.4 201.9v12M417.1 203.7l8.48 8.48M417.1 212.1l8.48 -8.48M417.0 207.9h12M423.0 201.9v12M418.8 203.7l8.48 8.48M418.8 212.1l8.48 -8.48M421.0 207.9h12M427.0 201.9v12M422.8 203.7l8.48 8.48M422.8 212.1l8.48 -8.48M422.8 207.9h12M428.8 201.9v12M424.5 203.7l8.48 8.48M424.5 212.1l8.48 -8.48M424.5 207.9h12M430.5 201.9v12M426.3 203.7l8.48 8.48M426.3 212.1l8.48 -8.48M587.0 207.9h12M593.0 201.9v12M588.8 203.7l8.48 8.48M588.8 212.1l8.48 -8.48M589.1 207.9h12M595.1 201.9v12M590.9 203.7l8.48 8.48M590.9 212.1l8.48 -8.48M591.3 207.9h12M597.3 201.9v12M593.0 203.7l8.48 8.48M593.0 212.1l8.48 -8.48M593.4 207.9h12M599.4 201.9v12M595.2 203.7l8.48 8.48M595.2 212.1l8.48 -8.48M595.6 207.9h12M601.6 201.9v12M597.3 203.7l8.48 8.48M597.3 212.1l8.48 -8.48M597.7 207.9h12M603.7 201.9v12M599.5 203.7l8.48 8.48M599.5 212.1l8.48 -8.48M599.9 207.9h12M605.9 201.9v12M601.6 203.7l8.48 8.48M601.6 212.1l8.48 -8.48M602.0 207.9h12M608.0 201.9v12M603.8 203.7l8.48 8.48M603.8 212.1l8.48 -8.48M106.5 199.7h12M112.5 193.7v12M108.3 195.5l8.48 8.48M108.3 204.0l8.48 -8.48M114.6 199.7h12M120.6 193.7v12M116.4 195.5l8.48 8.48M116.4 204.0l8.48 -8.48M115.8 199.7h12M121.8 193.7v12M117.6 195.5l8.48 8.48M117.6 204.0l8.48 -8.48M127.1 199.7h12M133.1 193.7v12M128.9 195.5l8.48 8.48M128.9 204.0l8.48 -8.48M135.9 199.7h12M141.9 193.7v12M137.7 195.5l8.48 8.48M137.7 204.0l8.48 -8.48M139.0 199.7h12M145.0 193.7v12M140.8 195.5l8.48 8.48M140.8 204.0l8.48 -8.48M304.0 199.7h12M310.0 193.7v12M305.8 195.5l8.48 8.48M305.8 204.0l8.48 -8.48M307.5 199.7h12M313.5 193.7v12M309.3 195.5l8.48 8.48M309.3 204.0l8.48 -8.48M310.0 199.7h12M316.0 193.7v12M311.8 195.5l8.48 8.48M311.8 204.0l8.48 -8.48M311.6 199.7h12M317.6 193.7v12M313.4 195.5l8.48 8.48M313.4 204.0l8.48 -8.48M313.2 199.7h12M319.2 193.7v12M315.0 195.5l8.48 8.48M315.0 204.0l8.48 -8.48M314.9 199.7h12M320.9 193.7v12M316.6 195.5l8.48 8.48M316.6 204.0l8.48 -8.48M316.5 199.7h12M322.5 193.7v12M318.3 195.5l8.48 8.48M318.3 204.0l8.48 -8.48M318.1 199.7h12M324.1 193.7v12M319.9 195.5l8.48 8.48M319.9 204.0l8.48 -8.48M319.8 199.7h12M325.8 193.7v12M321.5 195.5l8.48 8.48M321.5 204.0l8.48 -8.48M321.4 199.7h12M327.4 193.7v12M323.1 195.5l8.48 8.48M323.1 204.0l8.48 -8.48M323.0 199.7h12M329.0 193.7v12M324.8 195.5l8.48 8.48M324.8 204.0l8.48 -8.48M324.6 199.7h12M330.6 193.7v12M326.4 195.5l8.48 8.48M326.4 204.0l8.48 -8.48M326.2 199.7h12M332.2 193.7v12M328.0 195.5l8.48 8.48M328.0 204.0l8.48 -8.48M327.9 199.7h12M333.9 193.7v12M329.6 195.5l8.48 8.48M329.6 204.0l8.48 -8.48M329.5 199.7h12M335.5 193.7v12M331.3 195.5l8.48 8.48M331.3 204.0l8.48 -8.48M331.1 199.7h12M337.1 193.7v12M332.9 195.5l8.48 8.48M332.9 204.0l8.48 -8.48M332.8 199.7h12M338.8 193.7v12M334.5 195.5l8.48 8.48M334.5 204.0l8.48 -8.48M334.4 199.7h12M340.4 193.7v12M336.1 195.5l8.48 8.48M336.1 204.0l8.48 -8.48M336.0 199.7h12M342.0 193.7v12M337.8 195.5l8.48 8.48M337.8 204.0l8.48 -8.48M344.0 199.7h12M350.0 193.7v12M345.8 195.5l8.48 8.48M345.8 204.0l8.48 -8.48M382.0 199.7h12M388.0 193.7v12M383.8 195.5l8.48 8.48M383.8 204.0l8.48 -8.48M386.0 199.7h12M392.0 193.7v12M387.8 195.5l8.48 8.48M387.8 204.0l8.48 -8.48M387.6 199.7h12M393.6 193.7v12M389.3 195.5l8.48 8.48M389.3 204.0l8.48 -8.48M389.1 199.7h12M395.1 193.7v12M390.9 195.5l8.48 8.48M390.9 204.0l8.48 -8.48M390.7 199.7h12M396.7 193.7v12M392.4 195.5l8.48 8.48M392.4 204.0l8.48 -8.48M392.2 199.7h12M398.2 193.7v12M394.0 195.5l8.48 8.48M394.0 204.0l8.48 -8.48M393.8 199.7h12M399.8 193.7v12M395.5 195.5l8.48 8.48M395.5 204.0l8.48 -8.48M395.3 199.7h12M401.3 193.7v12M397.1 195.5l8.48 8.48M397.1 204.0l8.48 -8.48M396.9 199.7h12M402.9 193.7v12M398.6 195.5l8.48 8.48M398.6 204.0l8.48 -8.48M398.4 199.7h12M404.4 193.7v12M400.2 195.5l8.48 8.48M400.2 204.0l8.48 -8.48M400.0 199.7h12M406.0 193.7v12M401.8 195.5l8.48 8.48M401.8 204.0l8.48 -8.48M401.6 199.7h12M407.6 193.7v12M403.3 195.5l8.48 8.48M403.3 204.0l8.48 -8.48M403.1 199.7h12M409.1 193.7v12M404.9 195.5l8.48 8.48M404.9 204.0l8.48 -8.48M404.7 199.7h12M410.7 193.7v12M406.4 195.5l8.48 8.48M406.4 204.0l8.48 -8.48M406.2 199.7h12M412.2 193.7v12M408.0 195.5l8.48 8.48M408.0 204.0l8.48 -8.48M407.8 199.7h12M413.8 193.7v12M409.5 195.5l8.48 8.48M409.5 204.0l8.48 -8.48M409.3 199.7h12M415.3 193.7v12M411.1 195.5l8.48 8.48M411.1 204.0l8.48 -8.48M410.9 199.7h12M416.9 193.7v12M412.6 195.5l8.48 8.48M412.6 204.0l8.48 -8.48M412.4 199.7h12M418.4 193.7v12M414.2 195.5l8.48 8.48M414.2 204.0l8.48 -8.48M414.0 199.7h12M420.0 193.7v12M415.8 195.5l8.48 8.48M415.8 204.0l8.48 -8.48M422.0 199.7h12M428.0 193.7v12M423.8 195.5l8.48 8.48M423.8 204.0l8.48 -8.48M422.4 199.7h12M428.4 193.7v12M424.2 195.5l8.48 8.48M424.2 204.0l8.48 -8.48M422.8 199.7h12M428.8 193.7v12M424.6 195.5l8.48 8.48M424.6 204.0l8.48 -8.48M423.2 199.7h12M429.2 193.7v12M425.0 195.5l8.48 8.48M425.0 204.0l8.48 -8.48M423.7 199.7h12M429.7 193.7v12M425.4 195.5l8.48 8.48M425.4 204.0l8.48 -8.48M424.1 199.7h12M430.1 193.7v12M425.8 195.5l8.48 8.48M425.8 204.0l8.48 -8.48M424.5 199.7h12M430.5 193.7v12M426.3 195.5l8.48 8.48M426.3 204.0l8.48 -8.48M318.0 191.6h12M324.0 185.6v12M319.8 187.3l8.48 8.48M319.8 195.8l8.48 -8.48M319.6 191.6h12M325.6 185.6v12M321.4 187.3l8.48 8.48M321.4 195.8l8.48 -8.48M321.2 191.6h12M327.2 185.6v12M323.0 187.3l8.48 8.48M323.0 195.8l8.48 -8.48M322.8 191.6h12M328.8 185.6v12M324.6 187.3l8.48 8.48M324.6 195.8l8.48 -8.48M324.4 191.6h12M330.4 185.6v12M326.2 187.3l8.48 8.48M326.2 195.8l8.48 -8.48M326.0 191.6h12M332.0 185.6v12M327.8 187.3l8.48 8.48M327.8 195.8l8.48 -8.48M327.6 191.6h12M333.6 185.6v12M329.4 187.3l8.48 8.48M329.4 195.8l8.48 -8.48M329.2 191.6h12M335.2 185.6v12M331.0 187.3l8.48 8.48M331.0 195.8l8.48 -8.48M330.8 191.6h12M336.8 185.6v12M332.6 187.3l8.48 8.48M332.6 195.8l8.48 -8.48M332.4 191.6h12M338.4 185.6v12M334.2 187.3l8.48 8.48M334.2 195.8l8.48 -8.48M334.0 191.6h12M340.0 185.6v12M335.8 187.3l8.48 8.48M335.8 195.8l8.48 -8.48M335.6 191.6h12M341.6 185.6v12M337.4 187.3l8.48 8.48M337.4 195.8l8.48 -8.48M337.2 191.6h12M343.2 185.6v12M339.0 187.3l8.48 8.48M339.0 195.8l8.48 -8.48M338.8 191.6h12M344.8 185.6v12M340.6 187.3l8.48 8.48M340.6 195.8l8.48 -8.48M340.4 191.6h12M346.4 185.6v12M342.2 187.3l8.48 8.48M342.2 195.8l8.48 -8.48M342.0 191.6h12M348.0 185.6v12M343.8 187.3l8.48 8.48M343.8 195.8l8.48 -8.48M343.6 191.6h12M349.6 185.6v12M345.4 187.3l8.48 8.48M345.4 195.8l8.48 -8.48M345.2 191.6h12M351.2 185.6v12M347.0 187.3l8.48 8.48M347.0 195.8l8.48 -8.48M346.8 191.6h12M352.8 185.6v12M348.6 187.3l8.48 8.48M348.6 195.8l8.48 -8.48M348.4 191.6h12M354.4 185.6v12M350.2 187.3l8.48 8.48M350.2 195.8l8.48 -8.48M350.0 191.6h12M356.0 185.6v12M351.8 187.3l8.48 8.48M351.8 195.8l8.48 -8.48M360.0 191.6h12M366.0 185.6v12M361.8 187.3l8.48 8.48M361.8 195.8l8.48 -8.48M378.0 191.6h12M384.0 185.6v12M379.8 187.3l8.48 8.48M379.8 195.8l8.48 -8.48M379.6 191.6h12M385.6 185.6v12M381.4 187.3l8.48 8.48M381.4 195.8l8.48 -8.48M381.2 191.6h12M387.2 185.6v12M383.0 187.3l8.48 8.48M383.0 195.8l8.48 -8.48M382.9 191.6h12M388.9 185.6v12M384.6 187.3l8.48 8.48M384.6 195.8l8.48 -8.48M384.5 191.6h12M390.5 185.6v12M386.2 187.3l8.48 8.48M386.2 195.8l8.48 -8.48M386.1 191.6h12M392.1 185.6v12M387.9 187.3l8.48 8.48M387.9 195.8l8.48 -8.48M387.7 191.6h12M393.7 185.6v12M389.5 187.3l8.48 8.48M389.5 195.8l8.48 -8.48M389.3 191.6h12M395.3 185.6v12M391.1 187.3l8.48 8.48M391.1 195.8l8.48 -8.48M391.0 191.6h12M397.0 185.6v12M392.7 187.3l8.48 8.48M392.7 195.8l8.48 -8.48M392.6 191.6h12M398.6 185.6v12M394.3 187.3l8.48 8.48M394.3 195.8l8.48 -8.48M394.2 191.6h12M400.2 185.6v12M396.0 187.3l8.48 8.48M396.0 195.8l8.48 -8.48M395.8 191.6h12M401.8 185.6v12M397.6 187.3l8.48 8.48M397.6 195.8l8.48 -8.48M397.4 191.6h12M403.4 185.6v12M399.2 187.3l8.48 8.48M399.2 195.8l8.48 -8.48M399.0 191.6h12M405.0 185.6v12M400.8 187.3l8.48 8.48M400.8 195.8l8.48 -8.48M400.7 191.6h12M406.7 185.6v12M402.4 187.3l8.48 8.48M402.4 195.8l8.48 -8.48M402.3 191.6h12M408.3 185.6v12M404.0 187.3l8.48 8.48M404.0 195.8l8.48 -8.48M403.9 191.6h12M409.9 185.6v12M405.7 187.3l8.48 8.48M405.7 195.8l8.48 -8.48M405.5 191.6h12M411.5 185.6v12M407.3 187.3l8.48 8.48M407.3 195.8l8.48 -8.48M407.1 191.6h12M413.1 185.6v12M408.9 187.3l8.48 8.48M408.9 195.8l8.48 -8.48M408.8 191.6h12M414.8 185.6v12M410.5 187.3l8.48 8.48M410.5 195.8l8.48 -8.48M410.4 191.6h12M416.4 185.6v12M412.1 187.3l8.48 8.48M412.1 195.8l8.48 -8.48M412.0 191.6h12M418.0 185.6v12M413.8 187.3l8.48 8.48M413.8 195.8l8.48 -8.48M424.0 191.6h12M430.0 185.6v12M425.8 187.3l8.48 8.48M425.8 195.8l8.48 -8.48M326.0 183.4h12M332.0 177.4v12M327.8 179.2l8.48 8.48M327.8 187.7l8.48 -8.48M327.6 183.4h12M333.6 177.4v12M329.4 179.2l8.48 8.48M329.4 187.7l8.48 -8.48M329.2 183.4h12M335.2 177.4v12M331.0 179.2l8.48 8.48M331.0 187.7l8.48 -8.48M330.8 183.4h12M336.8 177.4v12M332.6 179.2l8.48 8.48M332.6 187.7l8.48 -8.48M332.4 183.4h12M338.4 177.4v12M334.2 179.2l8.48 8.48M334.2 187.7l8.48 -8.48M334.0 183.4h12M340.0 177.4v12M335.8 179.2l8.48 8.48M335.8 187.7l8.48 -8.48M335.6 183.4h12M341.6 177.4v12M337.4 179.2l8.48 8.48M337.4 187.7l8.48 -8.48M337.3 183.4h12M343.3 177.4v12M339.0 179.2l8.48 8.48M339.0 187.7l8.48 -8.48M338.9 183.4h12M344.9 177.4v12M340.6 179.2l8.48 8.48M340.6 187.7l8.48 -8.48M340.5 183.4h12M346.5 177.4v12M342.2 179.2l8.48 8.48M342.2 187.7l8.48 -8.48M342.1 183.4h12M348.1 177.4v12M343.8 179.2l8.48 8.48M343.8 187.7l8.48 -8.48M343.7 183.4h12M349.7 177.4v12M345.4 179.2l8.48 8.48M345.4 187.7l8.48 -8.48M345.3 183.4h12M351.3 177.4v12M347.1 179.2l8.48 8.48M347.1 187.7l8.48 -8.48M346.9 183.4h12M352.9 177.4v12M348.7 179.2l8.48 8.48M348.7 187.7l8.48 -8.48M348.5 183.4h12M354.5 177.4v12M350.3 179.2l8.48 8.48M350.3 187.7l8.48 -8.48M350.1 183.4h12M356.1 177.4v12M351.9 179.2l8.48 8.48M351.9 187.7l8.48 -8.48M351.7 183.4h12M357.7 177.4v12M353.5 179.2l8.48 8.48M353.5 187.7l8.48 -8.48M353.3 183.4h12M359.3 177.4v12M355.1 179.2l8.48 8.48M355.1 187.7l8.48 -8.48M354.9 183.4h12M360.9 177.4v12M356.7 179.2l8.48 8.48M356.7 187.7l8.48 -8.48M356.5 183.4h12M362.5 177.4v12M358.3 179.2l8.48 8.48M358.3 187.7l8.48 -8.48M358.2 183.4h12M364.2 177.4v12M359.9 179.2l8.48 8.48M359.9 187.7l8.48 -8.48M359.8 183.4h12M365.8 177.4v12M361.5 179.2l8.48 8.48M361.5 187.7l8.48 -8.48M361.4 183.4h12M367.4 177.4v12M363.1 179.2l8.48 8.48M363.1 187.7l8.48 -8.48M363.0 183.4h12M369.0 177.4v12M364.7 179.2l8.48 8.48M364.7 187.7l8.48 -8.48M364.6 183.4h12M370.6 177.4v12M366.3 179.2l8.48 8.48M366.3 187.7l8.48 -8.48M366.2 183.4h12M372.2 177.4v12M368.0 179.2l8.48 8.48M368.0 187.7l8.48 -8.48M367.8 183.4h12M373.8 177.4v12M369.6 179.2l8.48 8.48M369.6 187.7l8.48 -8.48M369.4 183.4h12M375.4 177.4v12M371.2 179.2l8.48 8.48M371.2 187.7l8.48 -8.48M371.0 183.4h12M377.0 177.4v12M372.8 179.2l8.48 8.48M372.8 187.7l8.48 -8.48M372.6 183.4h12M378.6 177.4v12M374.4 179.2l8.48 8.48M374.4 187.7l8.48 -8.48M374.2 183.4h12M380.2 177.4v12M376.0 179.2l8.48 8.48M376.0 187.7l8.48 -8.48M375.8 183.4h12M381.8 177.4v12M377.6 179.2l8.48 8.48M377.6 187.7l8.48 -8.48M377.5 183.4h12M383.5 177.4v12M379.2 179.2l8.48 8.48M379.2 187.7l8.48 -8.48M379.1 183.4h12M385.1 177.4v12M380.8 179.2l8.48 8.48M380.8 187.7l8.48 -8.48M380.7 183.4h12M386.7 177.4v12M382.4 179.2l8.48 8.48M382.4 187.7l8.48 -8.48M382.3 183.4h12M388.3 177.4v12M384.0 179.2l8.48 8.48M384.0 187.7l8.48 -8.48M383.9 183.4h12M389.9 177.4v12M385.6 179.2l8.48 8.48M385.6 187.7l8.48 -8.48M385.5 183.4h12M391.5 177.4v12M387.3 179.2l8.48 8.48M387.3 187.7l8.48 -8.48M387.1 183.4h12M393.1 177.4v12M388.9 179.2l8.48 8.48M388.9 187.7l8.48 -8.48M388.7 183.4h12M394.7 177.4v12M390.5 179.2l8.48 8.48M390.5 187.7l8.48 -8.48M390.3 183.4h12M396.3 177.4v12M392.1 179.2l8.48 8.48M392.1 187.7l8.48 -8.48M391.9 183.4h12M397.9 177.4v12M393.7 179.2l8.48 8.48M393.7 187.7l8.48 -8.48M393.5 183.4h12M399.5 177.4v12M395.3 179.2l8.48 8.48M395.3 187.7l8.48 -8.48M395.1 183.4h12M401.1 177.4v12M396.9 179.2l8.48 8.48M396.9 187.7l8.48 -8.48M396.7 183.4h12M402.7 177.4v12M398.5 179.2l8.48 8.48M398.5 187.7l8.48 -8.48M398.4 183.4h12M404.4 177.4v12M400.1 179.2l8.48 8.48M400.1 187.7l8.48 -8.48M400.0 183.4h12M406.0 177.4v12M401.7 179.2l8.48 8.48M401.7 187.7l8.48 -8.48M401.6 183.4h12M407.6 177.4v12M403.3 179.2l8.48 8.48M403.3 187.7l8.48 -8.48M403.2 183.4h12M409.2 177.4v12M404.9 179.2l8.48 8.48M404.9 187.7l8.48 -8.48M404.8 183.4h12M410.8 177.4v12M406.5 179.2l8.48 8.48M406.5 187.7l8.48 -8.48M406.4 183.4h12M412.4 177.4v12M408.2 179.2l8.48 8.48M408.2 187.7l8.48 -8.48M408.0 183.4h12M414.0 177.4v12M409.8 179.2l8.48 8.48M409.8 187.7l8.48 -8.48M424.0 183.4h12M430.0 177.4v12M425.8 179.2l8.48 8.48M425.8 187.7l8.48 -8.48M330.0 175.3h12M336.0 169.3v12M331.8 171.0l8.48 8.48M331.8 179.5l8.48 -8.48M331.6 175.3h12M337.6 169.3v12M333.4 171.0l8.48 8.48M333.4 179.5l8.48 -8.48M333.2 175.3h12M339.2 169.3v12M335.0 171.0l8.48 8.48M335.0 179.5l8.48 -8.48M334.8 175.3h12M340.8 169.3v12M336.6 171.0l8.48 8.48M336.6 179.5l8.48 -8.48M336.4 175.3h12M342.4 169.3v12M338.2 171.0l8.48 8.48M338.2 179.5l8.48 -8.48M338.0 175.3h12M344.0 169.3v12M339.8 171.0l8.48 8.48M339.8 179.5l8.48 -8.48M339.7 175.3h12M345.7 169.3v12M341.4 171.0l8.48 8.48M341.4 179.5l8.48 -8.48M341.3 175.3h12M347.3 169.3v12M343.0 171.0l8.48 8.48M343.0 179.5l8.48 -8.48M342.9 175.3h12M348.9 169.3v12M344.6 171.0l8.48 8.48M344.6 179.5l8.48 -8.48M344.5 175.3h12M350.5 169.3v12M346.2 171.0l8.48 8.48M346.2 179.5l8.48 -8.48M346.1 175.3h12M352.1 169.3v12M347.8 171.0l8.48 8.48M347.8 179.5l8.48 -8.48M347.7 175.3h12M353.7 169.3v12M349.5 171.0l8.48 8.48M349.5 179.5l8.48 -8.48M349.3 175.3h12M355.3 169.3v12M351.1 171.0l8.48 8.48M351.1 179.5l8.48 -8.48M350.9 175.3h12M356.9 169.3v12M352.7 171.0l8.48 8.48M352.7 179.5l8.48 -8.48M352.5 175.3h12M358.5 169.3v12M354.3 171.0l8.48 8.48M354.3 179.5l8.48 -8.48M354.1 175.3h12M360.1 169.3v12M355.9 171.0l8.48 8.48M355.9 179.5l8.48 -8.48M355.7 175.3h12M361.7 169.3v12M357.5 171.0l8.48 8.48M357.5 179.5l8.48 -8.48M357.3 175.3h12M363.3 169.3v12M359.1 171.0l8.48 8.48M359.1 179.5l8.48 -8.48M359.0 175.3h12M365.0 169.3v12M360.7 171.0l8.48 8.48M360.7 179.5l8.48 -8.48M360.6 175.3h12M366.6 169.3v12M362.3 171.0l8.48 8.48M362.3 179.5l8.48 -8.48M362.2 175.3h12M368.2 169.3v12M363.9 171.0l8.48 8.48M363.9 179.5l8.48 -8.48M363.8 175.3h12M369.8 169.3v12M365.5 171.0l8.48 8.48M365.5 179.5l8.48 -8.48M365.4 175.3h12M371.4 169.3v12M367.2 171.0l8.48 8.48M367.2 179.5l8.48 -8.48M367.0 175.3h12M373.0 169.3v12M368.8 171.0l8.48 8.48M368.8 179.5l8.48 -8.48M368.6 175.3h12M374.6 169.3v12M370.4 171.0l8.48 8.48M370.4 179.5l8.48 -8.48M370.2 175.3h12M376.2 169.3v12M372.0 171.0l8.48 8.48M372.0 179.5l8.48 -8.48M371.8 175.3h12M377.8 169.3v12M373.6 171.0l8.48 8.48M373.6 179.5l8.48 -8.48M373.4 175.3h12M379.4 169.3v12M375.2 171.0l8.48 8.48M375.2 179.5l8.48 -8.48M375.0 175.3h12M381.0 169.3v12M376.8 171.0l8.48 8.48M376.8 179.5l8.48 -8.48M376.7 175.3h12M382.7 169.3v12M378.4 171.0l8.48 8.48M378.4 179.5l8.48 -8.48M378.3 175.3h12M384.3 169.3v12M380.0 171.0l8.48 8.48M380.0 179.5l8.48 -8.48M379.9 175.3h12M385.9 169.3v12M381.6 171.0l8.48 8.48M381.6 179.5l8.48 -8.48M381.5 175.3h12M387.5 169.3v12M383.2 171.0l8.48 8.48M383.2 179.5l8.48 -8.48M383.1 175.3h12M389.1 169.3v12M384.8 171.0l8.48 8.48M384.8 179.5l8.48 -8.48M384.7 175.3h12M390.7 169.3v12M386.5 171.0l8.48 8.48M386.5 179.5l8.48 -8.48M386.3 175.3h12M392.3 169.3v12M388.1 171.0l8.48 8.48M388.1 179.5l8.48 -8.48M387.9 175.3h12M393.9 169.3v12M389.7 171.0l8.48 8.48M389.7 179.5l8.48 -8.48M389.5 175.3h12M395.5 169.3v12M391.3 171.0l8.48 8.48M391.3 179.5l8.48 -8.48M391.1 175.3h12M397.1 169.3v12M392.9 171.0l8.48 8.48M392.9 179.5l8.48 -8.48M392.7 175.3h12M398.7 169.3v12M394.5 171.0l8.48 8.48M394.5 179.5l8.48 -8.48M394.3 175.3h12M400.3 169.3v12M396.1 171.0l8.48 8.48M396.1 179.5l8.48 -8.48M396.0 175.3h12M402.0 169.3v12M397.7 171.0l8.48 8.48M397.7 179.5l8.48 -8.48M397.6 175.3h12M403.6 169.3v12M399.3 171.0l8.48 8.48M399.3 179.5l8.48 -8.48M399.2 175.3h12M405.2 169.3v12M400.9 171.0l8.48 8.48M400.9 179.5l8.48 -8.48M400.8 175.3h12M406.8 169.3v12M402.5 171.0l8.48 8.48M402.5 179.5l8.48 -8.48M402.4 175.3h12M408.4 169.3v12M404.2 171.0l8.48 8.48M404.2 179.5l8.48 -8.48M404.0 175.3h12M410.0 169.3v12M405.8 171.0l8.48 8.48M405.8 179.5l8.48 -8.48M342.0 167.1h12M348.0 161.1v12M343.8 162.9l8.48 8.48M343.8 171.3l8.48 -8.48M354.0 167.1h12M360.0 161.1v12M355.8 162.9l8.48 8.48M355.8 171.3l8.48 -8.48M355.6 167.1h12M361.6 161.1v12M357.3 162.9l8.48 8.48M357.3 171.3l8.48 -8.48M357.2 167.1h12M363.2 161.1v12M358.9 162.9l8.48 8.48M358.9 171.3l8.48 -8.48M358.8 167.1h12M364.8 161.1v12M360.5 162.9l8.48 8.48M360.5 171.3l8.48 -8.48M360.3 167.1h12M366.3 161.1v12M362.1 162.9l8.48 8.48M362.1 171.3l8.48 -8.48M361.9 167.1h12M367.9 161.1v12M363.7 162.9l8.48 8.48M363.7 171.3l8.48 -8.48M363.5 167.1h12M369.5 161.1v12M365.3 162.9l8.48 8.48M365.3 171.3l8.48 -8.48M365.1 167.1h12M371.1 161.1v12M366.8 162.9l8.48 8.48M366.8 171.3l8.48 -8.48M366.7 167.1h12M372.7 161.1v12M368.4 162.9l8.48 8.48M368.4 171.3l8.48 -8.48M368.2 167.1h12M374.2 161.1v12M370.0 162.9l8.48 8.48M370.0 171.3l8.48 -8.48M369.8 167.1h12M375.8 161.1v12M371.6 162.9l8.48 8.48M371.6 171.3l8.48 -8.48M371.4 167.1h12M377.4 161.1v12M373.2 162.9l8.48 8.48M373.2 171.3l8.48 -8.48M373.0 167.1h12M379.0 161.1v12M374.8 162.9l8.48 8.48M374.8 171.3l8.48 -8.48M374.6 167.1h12M380.6 161.1v12M376.3 162.9l8.48 8.48M376.3 171.3l8.48 -8.48M376.2 167.1h12M382.2 161.1v12M377.9 162.9l8.48 8.48M377.9 171.3l8.48 -8.48M377.8 167.1h12M383.8 161.1v12M379.5 162.9l8.48 8.48M379.5 171.3l8.48 -8.48M379.3 167.1h12M385.3 161.1v12M381.1 162.9l8.48 8.48M381.1 171.3l8.48 -8.48M380.9 167.1h12M386.9 161.1v12M382.7 162.9l8.48 8.48M382.7 171.3l8.48 -8.48M382.5 167.1h12M388.5 161.1v12M384.3 162.9l8.48 8.48M384.3 171.3l8.48 -8.48M384.1 167.1h12M390.1 161.1v12M385.8 162.9l8.48 8.48M385.8 171.3l8.48 -8.48M385.7 167.1h12M391.7 161.1v12M387.4 162.9l8.48 8.48M387.4 171.3l8.48 -8.48M387.2 167.1h12M393.2 161.1v12M389.0 162.9l8.48 8.48M389.0 171.3l8.48 -8.48M388.8 167.1h12M394.8 161.1v12M390.6 162.9l8.48 8.48M390.6 171.3l8.48 -8.48M390.4 167.1h12M396.4 161.1v12M392.2 162.9l8.48 8.48M392.2 171.3l8.48 -8.48M392.0 167.1h12M398.0 161.1v12M393.8 162.9l8.48 8.48M393.8 171.3l8.48 -8.48M400.0 167.1h12M406.0 161.1v12M401.8 162.9l8.48 8.48M401.8 171.3l8.48 -8.48M366.0 158.9h12M372.0 152.9v12M367.8 154.7l8.48 8.48M367.8 163.2l8.48 -8.48M368.4 158.9h12M374.4 152.9v12M370.2 154.7l8.48 8.48M370.2 163.2l8.48 -8.48M370.9 158.9h12M376.9 152.9v12M372.6 154.7l8.48 8.48M372.6 163.2l8.48 -8.48M373.3 158.9h12M379.3 152.9v12M375.1 154.7l8.48 8.48M375.1 163.2l8.48 -8.48M375.8 158.9h12M381.8 152.9v12M377.5 154.7l8.48 8.48M377.5 163.2l8.48 -8.48M378.2 158.9h12M384.2 152.9v12M380.0 154.7l8.48 8.48M380.0 163.2l8.48 -8.48M380.7 158.9h12M386.7 152.9v12M382.4 154.7l8.48 8.48M382.4 163.2l8.48 -8.48M383.1 158.9h12M389.1 152.9v12M384.9 154.7l8.48 8.48M384.9 163.2l8.48 -8.48M385.6 158.9h12M391.6 152.9v12M387.3 154.7l8.48 8.48M387.3 163.2l8.48 -8.48M388.0 158.9h12M394.0 152.9v12M389.8 154.7l8.48 8.48M389.8 163.2l8.48 -8.48M400.0 158.9h12M406.0 152.9v12M401.8 154.7l8.48 8.48M401.8 163.2l8.48 -8.48" stroke="#d95319" stroke-width="1" fill="none"/>
</svg>
</body></html>
